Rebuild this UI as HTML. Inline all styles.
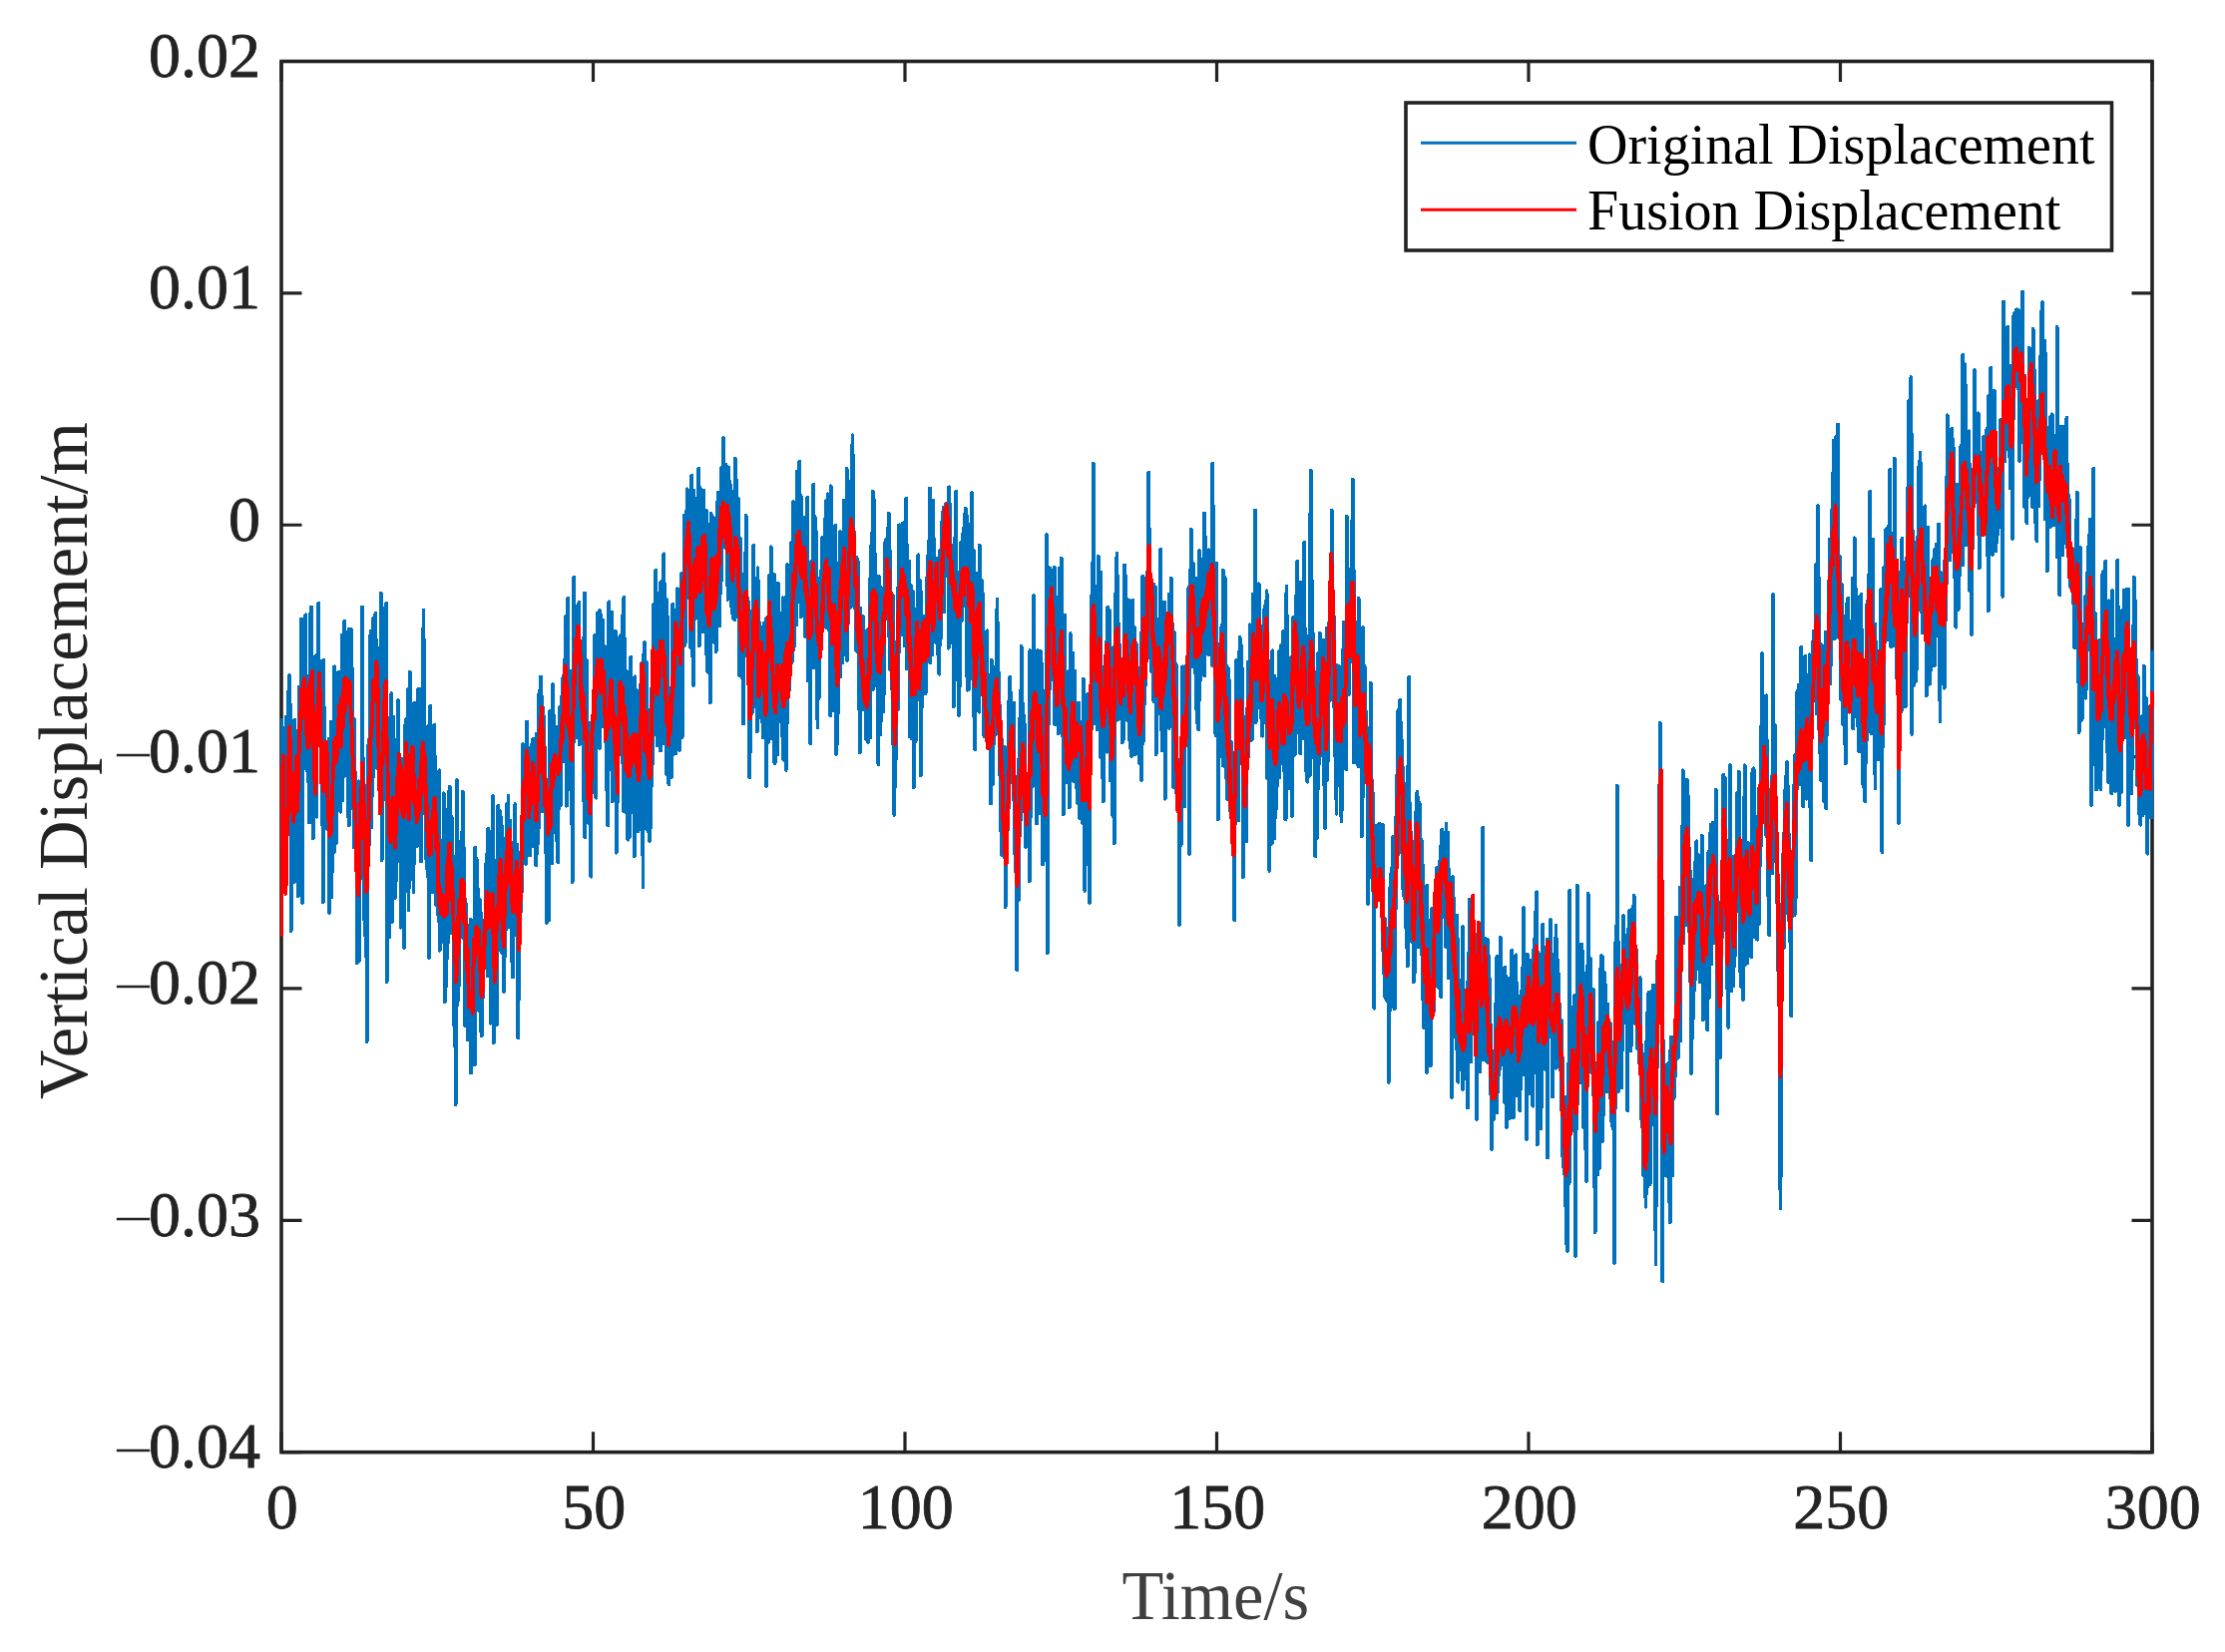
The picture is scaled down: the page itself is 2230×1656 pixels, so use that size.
<!DOCTYPE html>
<html><head><meta charset="utf-8"><title>Vertical Displacement</title>
<style>html,body{margin:0;padding:0;background:#fff}svg{display:block}</style></head>
<body>
<svg width="2230" height="1656" viewBox="0 0 2230 1656">
<rect width="2230" height="1656" fill="#fff"/>
<clipPath id="cl"><rect x="281.1" y="61.5" width="1878.0" height="1394.2"/></clipPath>
<g stroke="#232323" stroke-width="3.6" fill="none" stroke-linecap="butt">
<rect x="282.0" y="61.5" width="1875.0" height="1394.2"/>
<path d="M282.00 1455.7 v-20.5 M282.00 61.5 v20.5 M594.50 1455.7 v-20.5 M594.50 61.5 v20.5 M907.00 1455.7 v-20.5 M907.00 61.5 v20.5 M1219.50 1455.7 v-20.5 M1219.50 61.5 v20.5 M1532.00 1455.7 v-20.5 M1532.00 61.5 v20.5 M1844.50 1455.7 v-20.5 M1844.50 61.5 v20.5 M2157.00 1455.7 v-20.5 M2157.00 61.5 v20.5 M282.0 61.50 h20.5 M2157.0 61.50 h-20.5 M282.0 293.87 h20.5 M2157.0 293.87 h-20.5 M282.0 526.23 h20.5 M2157.0 526.23 h-20.5 M282.0 758.60 h20.5 M2157.0 758.60 h-20.5 M282.0 990.97 h20.5 M2157.0 990.97 h-20.5 M282.0 1223.33 h20.5 M2157.0 1223.33 h-20.5 M282.0 1455.70 h20.5 M2157.0 1455.70 h-20.5 " stroke-width="3.2"/>
</g>
<g fill="none" stroke-width="3.9" stroke-linejoin="round" stroke-linecap="butt" shape-rendering="crispEdges" clip-path="url(#cl)">
<path stroke="#0072BD" d="M282.0 760.0 L282.3 722.0 L282.6 800.0 L282.9 760.0 L283.2 850.0 L283.6 750.7 L283.9 738.3 L284.2 735.4 L284.5 769.1 L284.8 731.6 L285.1 733.9 L285.4 755.7 L285.8 818.3 L286.1 754.6 L286.4 731.2 L286.7 718.8 L287.0 721.3 L287.3 751.8 L287.6 804.0 L287.9 804.8 L288.2 798.3 L288.6 729.6 L288.9 697.8 L289.2 693.1 L289.5 766.1 L289.8 677.2 L290.1 735.7 L290.4 790.6 L290.8 775.4 L291.1 763.3 L291.4 706.6 L291.7 933.0 L292.0 804.6 L292.3 826.2 L292.6 780.6 L292.9 780.0 L293.2 742.1 L293.6 730.5 L293.9 817.7 L294.2 809.7 L294.5 795.2 L294.8 756.8 L295.1 884.0 L295.4 721.6 L295.8 821.7 L296.1 762.1 L296.4 788.6 L296.7 784.6 L297.0 737.8 L297.3 825.4 L297.6 784.1 L297.9 787.1 L298.2 778.9 L298.6 732.3 L298.9 898.1 L299.2 749.3 L299.5 734.2 L299.8 888.8 L300.1 688.5 L300.4 779.0 L300.8 862.6 L301.1 749.0 L301.4 742.3 L301.7 733.9 L302.0 620.7 L302.3 749.3 L302.6 766.1 L302.9 905.0 L303.2 648.5 L303.6 727.7 L303.9 770.7 L304.2 706.8 L304.5 649.6 L304.8 706.8 L305.1 650.3 L305.4 624.4 L305.8 729.8 L306.1 657.1 L306.4 616.4 L306.7 729.1 L307.0 713.5 L307.3 731.4 L307.6 772.6 L307.9 711.9 L308.2 750.3 L308.6 764.9 L308.9 783.7 L309.2 687.7 L309.5 692.2 L309.8 783.8 L310.1 824.5 L310.4 728.6 L310.8 719.0 L311.1 615.0 L311.4 766.2 L311.7 709.8 L312.0 608.5 L312.3 728.1 L312.6 672.6 L312.9 693.1 L313.2 714.4 L313.6 755.3 L313.9 840.3 L314.2 749.9 L314.5 705.4 L314.8 780.2 L315.1 732.6 L315.4 718.2 L315.8 719.7 L316.1 748.9 L316.4 657.2 L316.7 781.3 L317.0 730.0 L317.3 818.7 L317.6 681.8 L317.9 727.3 L318.2 663.3 L318.6 716.3 L318.9 693.4 L319.2 605.0 L319.5 721.3 L319.8 727.5 L320.1 662.8 L320.4 700.7 L320.8 673.1 L321.1 685.6 L321.4 683.9 L321.7 715.4 L322.0 742.7 L322.3 670.1 L322.6 785.3 L322.9 754.3 L323.2 768.0 L323.6 860.9 L323.9 904.2 L324.2 662.0 L324.5 732.4 L324.8 749.4 L325.1 709.9 L325.4 776.3 L325.8 752.8 L326.1 772.1 L326.4 783.0 L326.7 800.8 L327.0 783.4 L327.3 777.3 L327.6 744.3 L327.9 793.6 L328.2 831.5 L328.6 777.6 L328.9 804.2 L329.2 818.0 L329.5 830.6 L329.8 740.6 L330.1 915.0 L330.4 839.5 L330.8 748.3 L331.1 828.1 L331.4 835.7 L331.7 724.0 L332.0 899.6 L332.3 831.1 L332.6 874.5 L332.9 785.7 L333.2 804.5 L333.6 735.3 L333.9 766.7 L334.2 767.7 L334.5 804.0 L334.8 853.9 L335.1 668.3 L335.4 749.4 L335.8 825.7 L336.1 745.5 L336.4 680.8 L336.7 833.6 L337.0 845.1 L337.3 799.6 L337.6 765.0 L337.9 751.8 L338.2 730.3 L338.6 786.2 L338.9 797.8 L339.2 673.4 L339.5 809.7 L339.8 716.0 L340.1 751.4 L340.4 726.3 L340.8 752.8 L341.1 737.3 L341.4 813.8 L341.7 699.4 L342.0 745.7 L342.3 779.4 L342.6 792.0 L342.9 636.6 L343.2 802.0 L343.6 778.1 L343.9 758.6 L344.2 678.7 L344.5 633.5 L344.8 712.3 L345.1 726.5 L345.4 622.5 L345.8 688.3 L346.1 686.4 L346.4 695.2 L346.7 770.7 L347.0 633.6 L347.3 680.5 L347.6 653.3 L347.9 736.0 L348.2 776.7 L348.6 780.7 L348.9 677.7 L349.2 819.7 L349.5 708.0 L349.8 827.5 L350.1 630.4 L350.4 645.0 L350.8 693.3 L351.1 681.2 L351.4 635.3 L351.7 722.8 L352.0 631.1 L352.3 689.9 L352.6 756.4 L352.9 670.0 L353.2 747.0 L353.6 733.1 L353.9 732.4 L354.2 810.9 L354.5 724.5 L354.8 849.3 L355.1 721.1 L355.4 834.5 L355.8 790.8 L356.1 827.7 L356.4 774.2 L356.7 814.5 L357.0 827.4 L357.3 850.7 L357.6 854.0 L357.9 965.3 L358.2 883.1 L358.6 803.2 L358.9 940.2 L359.2 924.3 L359.5 783.3 L359.8 962.9 L360.1 863.9 L360.4 867.8 L360.8 822.2 L361.1 817.4 L361.4 819.6 L361.7 831.3 L362.0 880.0 L362.3 841.3 L362.6 821.7 L362.9 608.5 L363.2 734.4 L363.6 762.6 L363.9 851.7 L364.2 830.3 L364.5 776.4 L364.8 822.2 L365.1 922.4 L365.4 878.3 L365.8 877.5 L366.1 937.9 L366.4 875.4 L366.7 804.3 L367.0 868.2 L367.3 861.2 L367.6 1044.0 L367.9 860.4 L368.2 852.5 L368.6 857.0 L368.9 811.1 L369.2 785.9 L369.5 741.3 L369.8 846.8 L370.1 805.9 L370.4 778.1 L370.8 806.2 L371.1 790.2 L371.4 635.9 L371.7 732.4 L372.0 632.4 L372.3 829.4 L372.6 668.6 L372.9 798.2 L373.2 680.6 L373.6 687.9 L373.9 655.2 L374.2 620.0 L374.5 778.8 L374.8 624.2 L375.1 672.6 L375.4 661.6 L375.8 682.4 L376.1 751.8 L376.4 614.9 L376.7 683.6 L377.0 641.6 L377.3 694.0 L377.6 674.5 L377.9 649.3 L378.2 769.9 L378.6 715.1 L378.9 705.1 L379.2 726.0 L379.5 723.4 L379.8 785.8 L380.1 778.2 L380.4 760.1 L380.8 753.3 L381.1 679.1 L381.4 732.5 L381.7 594.4 L382.0 794.8 L382.3 741.1 L382.6 862.2 L382.9 826.3 L383.2 723.6 L383.6 800.2 L383.9 678.9 L384.2 761.2 L384.5 722.4 L384.8 622.9 L385.1 782.8 L385.4 609.6 L385.8 725.2 L386.1 695.8 L386.4 759.3 L386.7 759.0 L387.0 726.0 L387.3 604.6 L387.6 984.0 L387.9 883.8 L388.2 798.1 L388.6 719.6 L388.9 851.5 L389.2 872.5 L389.5 803.3 L389.8 845.8 L390.1 877.5 L390.4 939.3 L390.8 790.1 L391.1 851.9 L391.4 752.1 L391.7 876.3 L392.0 807.6 L392.3 695.1 L392.6 868.6 L392.9 872.9 L393.2 923.9 L393.6 831.4 L393.9 718.5 L394.2 732.1 L394.5 890.5 L394.8 823.5 L395.1 755.5 L395.4 811.5 L395.8 798.4 L396.1 899.9 L396.4 878.1 L396.7 767.7 L397.0 846.3 L397.3 882.0 L397.6 784.4 L397.9 800.0 L398.2 740.8 L398.6 828.9 L398.9 702.1 L399.2 762.5 L399.5 773.5 L399.8 755.9 L400.1 803.3 L400.4 781.7 L400.8 813.4 L401.1 843.1 L401.4 848.4 L401.7 929.8 L402.0 765.5 L402.3 869.4 L402.6 761.1 L402.9 770.8 L403.2 770.4 L403.6 840.0 L403.9 772.5 L404.2 779.0 L404.5 788.8 L404.8 791.8 L405.1 950.0 L405.4 786.7 L405.8 763.1 L406.1 779.9 L406.4 728.3 L406.7 721.2 L407.0 772.4 L407.3 801.9 L407.6 745.7 L407.9 743.0 L408.2 832.4 L408.6 691.2 L408.9 717.3 L409.2 795.2 L409.5 912.5 L409.8 778.5 L410.1 889.2 L410.4 792.0 L410.8 673.9 L411.1 879.1 L411.4 830.7 L411.7 742.3 L412.0 745.6 L412.3 841.3 L412.6 766.8 L412.9 822.4 L413.2 807.6 L413.6 747.5 L413.9 750.0 L414.2 817.0 L414.5 894.1 L414.8 790.4 L415.1 704.9 L415.4 803.2 L415.8 718.4 L416.1 796.8 L416.4 822.5 L416.7 781.5 L417.0 777.2 L417.3 780.5 L417.6 838.4 L417.9 847.8 L418.2 811.0 L418.6 792.9 L418.9 719.6 L419.2 690.7 L419.5 788.1 L419.8 844.0 L420.1 694.7 L420.4 803.9 L420.8 802.0 L421.1 827.7 L421.4 832.6 L421.7 777.9 L422.0 863.4 L422.3 779.1 L422.6 690.8 L422.9 746.4 L423.2 761.9 L423.6 814.6 L423.9 767.2 L424.2 771.6 L424.5 612.0 L424.8 743.1 L425.1 795.4 L425.4 670.3 L425.8 814.8 L426.1 815.9 L426.4 755.5 L426.7 819.7 L427.0 847.5 L427.3 850.8 L427.6 870.6 L427.9 778.3 L428.2 799.6 L428.6 771.5 L428.9 728.0 L429.2 878.9 L429.5 861.6 L429.8 771.1 L430.1 960.0 L430.4 878.2 L430.8 829.0 L431.1 707.6 L431.4 835.3 L431.7 820.5 L432.0 890.8 L432.3 831.6 L432.6 797.2 L432.9 867.1 L433.2 872.2 L433.6 894.2 L433.9 868.1 L434.2 731.0 L434.5 799.9 L434.8 840.1 L435.1 726.6 L435.4 761.4 L435.8 758.2 L436.1 840.6 L436.4 758.8 L436.7 887.7 L437.0 862.5 L437.3 907.5 L437.6 841.1 L437.9 888.5 L438.2 799.4 L438.6 825.3 L438.9 890.6 L439.2 883.8 L439.5 923.3 L439.8 917.8 L440.1 912.3 L440.4 772.3 L440.8 952.7 L441.1 860.0 L441.4 946.8 L441.7 851.6 L442.0 944.5 L442.3 944.8 L442.6 887.3 L442.9 888.2 L443.2 842.3 L443.6 885.4 L443.9 903.2 L444.2 871.1 L444.5 848.6 L444.8 795.3 L445.1 883.8 L445.4 917.8 L445.8 1004.1 L446.1 859.7 L446.4 833.5 L446.7 906.2 L447.0 905.3 L447.3 988.6 L447.6 959.0 L447.9 911.5 L448.2 908.7 L448.6 885.2 L448.9 914.2 L449.2 944.6 L449.5 794.0 L449.8 843.1 L450.1 909.1 L450.4 794.1 L450.8 788.4 L451.1 888.9 L451.4 809.3 L451.7 833.2 L452.0 881.7 L452.3 935.5 L452.6 818.7 L452.9 921.0 L453.2 887.3 L453.6 857.5 L453.9 922.3 L454.2 888.5 L454.5 909.0 L454.8 1027.5 L455.1 956.2 L455.4 959.9 L455.8 1006.7 L456.1 871.0 L456.4 1035.3 L456.7 1107.0 L457.0 976.0 L457.3 931.5 L457.6 1009.0 L457.9 782.0 L458.2 922.5 L458.6 881.4 L458.9 1002.9 L459.2 903.3 L459.5 908.4 L459.8 943.6 L460.1 946.3 L460.4 987.1 L460.8 882.3 L461.1 847.4 L461.4 881.7 L461.7 855.7 L462.0 856.7 L462.3 842.8 L462.6 906.4 L462.9 930.8 L463.2 914.1 L463.6 793.6 L463.9 798.7 L464.2 940.4 L464.5 825.3 L464.8 937.8 L465.1 857.0 L465.4 888.7 L465.8 1027.8 L466.1 943.9 L466.4 901.5 L466.7 1017.7 L467.0 912.0 L467.3 906.6 L467.6 967.3 L467.9 1016.2 L468.2 988.0 L468.6 1042.4 L468.9 1030.3 L469.2 1036.3 L469.5 994.6 L469.8 971.9 L470.1 959.0 L470.4 992.2 L470.8 972.7 L471.1 992.4 L471.4 926.6 L471.7 921.8 L472.0 1075.5 L472.3 1062.3 L472.6 1015.2 L472.9 1053.3 L473.2 1042.3 L473.6 998.8 L473.9 942.2 L474.2 1046.3 L474.5 1012.3 L474.8 929.4 L475.1 1007.7 L475.4 961.5 L475.8 1067.3 L476.1 849.6 L476.4 979.6 L476.7 909.1 L477.0 949.5 L477.3 860.7 L477.6 953.2 L477.9 932.9 L478.2 862.9 L478.6 957.0 L478.9 947.9 L479.2 892.0 L479.5 996.2 L479.8 939.1 L480.1 956.3 L480.4 1013.7 L480.8 901.9 L481.1 975.9 L481.4 1010.7 L481.7 914.4 L482.0 1034.0 L482.3 1016.1 L482.6 944.7 L482.9 1038.4 L483.2 968.4 L483.6 951.6 L483.9 929.0 L484.2 999.1 L484.5 959.4 L484.8 971.7 L485.1 967.7 L485.4 935.2 L485.8 939.1 L486.1 921.7 L486.4 953.4 L486.7 936.0 L487.0 866.7 L487.3 883.3 L487.6 856.6 L487.9 909.7 L488.2 966.2 L488.6 901.3 L488.9 978.2 L489.2 830.8 L489.5 917.0 L489.8 962.1 L490.1 865.7 L490.4 902.4 L490.8 906.6 L491.1 899.3 L491.4 880.8 L491.7 1025.7 L492.0 834.1 L492.3 918.4 L492.6 866.1 L492.9 915.2 L493.2 910.9 L493.6 927.4 L493.9 798.0 L494.2 931.6 L494.5 918.0 L494.8 1045.6 L495.1 935.8 L495.4 955.8 L495.8 1021.9 L496.1 1004.5 L496.4 862.7 L496.7 939.7 L497.0 878.7 L497.3 1013.4 L497.6 916.4 L497.9 1027.2 L498.2 917.7 L498.6 872.1 L498.9 952.7 L499.2 807.5 L499.5 944.9 L499.8 930.3 L500.1 876.8 L500.4 813.8 L500.8 815.1 L501.1 862.0 L501.4 813.4 L501.7 866.2 L502.0 904.2 L502.3 819.9 L502.6 828.4 L502.9 955.0 L503.2 892.1 L503.6 888.1 L503.9 927.0 L504.2 846.3 L504.5 920.5 L504.8 942.9 L505.1 993.8 L505.4 946.2 L505.8 840.7 L506.1 958.8 L506.4 860.3 L506.7 885.7 L507.0 932.1 L507.3 917.5 L507.6 841.1 L507.9 806.2 L508.2 910.7 L508.6 858.6 L508.9 863.5 L509.2 870.3 L509.5 798.0 L509.8 929.0 L510.1 847.8 L510.4 902.2 L510.8 888.5 L511.1 822.6 L511.4 877.1 L511.7 858.9 L512.0 870.9 L512.3 912.4 L512.6 889.0 L512.9 851.9 L513.2 964.4 L513.6 890.7 L513.9 979.6 L514.2 923.9 L514.5 949.9 L514.8 908.2 L515.1 844.0 L515.4 900.5 L515.8 897.4 L516.1 882.9 L516.4 806.1 L516.7 902.6 L517.0 863.8 L517.3 854.8 L517.6 918.3 L517.9 925.7 L518.2 847.0 L518.6 854.1 L518.9 926.4 L519.2 1040.4 L519.5 940.3 L519.8 913.2 L520.1 1001.4 L520.4 927.0 L520.8 898.5 L521.1 863.9 L521.4 942.0 L521.7 875.0 L522.0 905.0 L522.3 913.6 L522.6 843.7 L522.9 893.4 L523.2 893.8 L523.6 829.5 L523.9 774.1 L524.2 746.1 L524.5 759.9 L524.8 756.7 L525.1 777.6 L525.4 822.8 L525.8 803.9 L526.1 769.1 L526.4 827.7 L526.7 771.5 L527.0 865.9 L527.3 760.1 L527.6 790.6 L527.9 723.5 L528.2 798.1 L528.6 798.6 L528.9 796.3 L529.2 807.7 L529.5 857.2 L529.8 854.8 L530.1 782.2 L530.4 755.3 L530.8 785.8 L531.1 791.6 L531.4 857.0 L531.7 749.7 L532.0 750.3 L532.3 808.1 L532.6 755.8 L532.9 769.2 L533.2 746.2 L533.6 848.1 L533.9 787.5 L534.2 740.9 L534.5 811.4 L534.8 807.8 L535.1 837.1 L535.4 785.5 L535.8 806.7 L536.1 759.6 L536.4 832.4 L536.7 752.2 L537.0 824.5 L537.3 867.3 L537.6 855.3 L537.9 735.7 L538.2 807.8 L538.6 801.7 L538.9 789.3 L539.2 807.4 L539.5 844.9 L539.8 789.1 L540.1 816.9 L540.4 694.9 L540.8 794.5 L541.1 791.7 L541.4 691.1 L541.7 699.7 L542.0 678.7 L542.3 718.9 L542.6 736.0 L542.9 813.6 L543.2 698.5 L543.6 709.1 L543.9 727.6 L544.2 795.6 L544.5 746.8 L544.8 758.3 L545.1 718.1 L545.4 797.7 L545.8 760.2 L546.1 749.8 L546.4 778.3 L546.7 781.0 L547.0 803.6 L547.3 844.0 L547.6 866.6 L547.9 924.9 L548.2 829.2 L548.6 851.6 L548.9 887.4 L549.2 793.8 L549.5 836.2 L549.8 835.2 L550.1 922.2 L550.4 865.1 L550.8 774.3 L551.1 712.9 L551.4 825.3 L551.7 746.1 L552.0 758.4 L552.3 740.6 L552.6 782.0 L552.9 757.8 L553.2 865.0 L553.6 771.8 L553.9 812.4 L554.2 686.2 L554.5 823.2 L554.8 717.1 L555.1 760.8 L555.4 751.4 L555.8 804.1 L556.1 740.9 L556.4 790.8 L556.7 750.8 L557.0 771.2 L557.3 827.1 L557.6 842.6 L557.9 728.6 L558.2 767.9 L558.6 785.3 L558.9 749.7 L559.2 864.5 L559.5 747.5 L559.8 763.1 L560.1 788.1 L560.4 810.7 L560.8 729.9 L561.1 708.9 L561.4 772.2 L561.7 807.8 L562.0 708.5 L562.3 740.1 L562.6 709.8 L562.9 698.5 L563.2 734.2 L563.6 680.1 L563.9 730.2 L564.2 763.3 L564.5 717.0 L564.8 748.6 L565.1 735.0 L565.4 678.8 L565.8 661.6 L566.1 693.6 L566.4 670.7 L566.7 656.6 L567.0 618.0 L567.3 759.4 L567.6 725.4 L567.9 807.7 L568.2 701.7 L568.6 728.9 L568.9 736.4 L569.2 599.4 L569.5 699.9 L569.8 791.0 L570.1 742.6 L570.4 778.8 L570.8 753.0 L571.1 766.6 L571.4 731.8 L571.7 730.9 L572.0 678.0 L572.3 672.7 L572.6 809.5 L572.9 718.0 L573.2 718.6 L573.6 884.0 L573.9 774.5 L574.2 738.6 L574.5 749.5 L574.8 728.8 L575.1 658.6 L575.4 578.6 L575.8 731.2 L576.1 629.5 L576.4 641.1 L576.7 608.0 L577.0 675.3 L577.3 632.7 L577.6 609.3 L577.9 739.2 L578.2 676.9 L578.6 643.6 L578.9 695.7 L579.2 636.5 L579.5 677.4 L579.8 610.3 L580.1 690.1 L580.4 603.8 L580.8 746.3 L581.1 674.4 L581.4 698.1 L581.7 710.4 L582.0 674.9 L582.3 680.8 L582.6 664.0 L582.9 685.0 L583.2 708.1 L583.6 724.7 L583.9 686.0 L584.2 679.1 L584.5 756.6 L584.8 639.2 L585.1 802.9 L585.4 697.5 L585.8 741.2 L586.1 594.4 L586.4 839.4 L586.7 705.7 L587.0 668.6 L587.3 723.5 L587.6 661.6 L587.9 693.8 L588.2 665.6 L588.6 793.2 L588.9 763.7 L589.2 771.0 L589.5 812.6 L589.8 807.6 L590.1 724.8 L590.4 825.7 L590.8 768.1 L591.1 735.6 L591.4 776.6 L591.7 733.6 L592.0 750.3 L592.3 878.8 L592.6 741.1 L592.9 759.6 L593.2 737.5 L593.6 794.0 L593.9 725.6 L594.2 717.1 L594.5 771.7 L594.8 758.0 L595.1 730.8 L595.4 709.5 L595.8 673.1 L596.1 636.6 L596.4 715.8 L596.7 747.5 L597.0 748.9 L597.3 799.8 L597.6 689.5 L597.9 694.4 L598.2 688.2 L598.6 696.4 L598.9 614.4 L599.2 636.6 L599.5 674.6 L599.8 645.0 L600.1 710.9 L600.4 614.4 L600.8 749.8 L601.1 612.0 L601.4 670.0 L601.7 615.4 L602.0 690.7 L602.3 705.6 L602.6 684.0 L602.9 627.7 L603.2 720.1 L603.6 659.4 L603.9 621.4 L604.2 690.1 L604.5 702.5 L604.8 728.4 L605.1 678.2 L605.4 653.5 L605.8 678.5 L606.1 648.0 L606.4 726.8 L606.7 687.7 L607.0 705.5 L607.3 728.5 L607.6 757.3 L607.9 791.8 L608.2 755.0 L608.6 675.4 L608.9 786.6 L609.2 827.5 L609.5 727.9 L609.8 709.4 L610.1 654.5 L610.4 603.4 L610.8 649.5 L611.1 753.5 L611.4 614.8 L611.7 665.3 L612.0 719.3 L612.3 638.1 L612.6 653.9 L612.9 771.5 L613.2 613.7 L613.6 670.4 L613.9 803.1 L614.2 748.6 L614.5 636.6 L614.8 677.7 L615.1 643.5 L615.4 749.4 L615.8 694.0 L616.1 706.3 L616.4 677.6 L616.7 784.6 L617.0 632.8 L617.3 671.6 L617.6 854.7 L617.9 695.3 L618.2 816.8 L618.6 757.0 L618.9 803.8 L619.2 758.7 L619.5 758.4 L619.8 732.1 L620.1 749.7 L620.4 640.0 L620.8 639.2 L621.1 735.4 L621.4 748.1 L621.7 695.9 L622.0 637.0 L622.3 667.5 L622.6 730.7 L622.9 713.7 L623.2 637.7 L623.6 764.8 L623.9 617.9 L624.2 668.2 L624.5 615.0 L624.8 723.7 L625.1 813.2 L625.4 599.0 L625.8 702.2 L626.1 707.3 L626.4 722.9 L626.7 759.1 L627.0 773.7 L627.3 754.1 L627.6 814.4 L627.9 672.6 L628.2 742.9 L628.6 770.9 L628.9 753.9 L629.2 841.7 L629.5 766.1 L629.8 708.5 L630.1 761.1 L630.4 811.8 L630.8 839.1 L631.1 769.0 L631.4 797.2 L631.7 769.5 L632.0 746.3 L632.3 658.5 L632.6 783.4 L632.9 695.2 L633.2 777.6 L633.6 769.2 L633.9 746.3 L634.2 814.2 L634.5 748.2 L634.8 801.0 L635.1 704.9 L635.4 733.5 L635.8 858.1 L636.1 781.2 L636.4 678.3 L636.7 781.4 L637.0 737.2 L637.3 789.4 L637.6 691.6 L637.9 787.7 L638.2 775.1 L638.6 766.5 L638.9 716.1 L639.2 760.7 L639.5 832.9 L639.8 831.3 L640.1 733.7 L640.4 761.6 L640.8 828.8 L641.1 799.3 L641.4 716.9 L641.7 781.3 L642.0 719.3 L642.3 710.6 L642.6 665.3 L642.9 724.2 L643.2 709.6 L643.6 726.9 L643.9 705.0 L644.2 676.0 L644.5 889.0 L644.8 656.7 L645.1 720.4 L645.4 682.9 L645.8 729.7 L646.1 644.2 L646.4 721.2 L646.7 726.2 L647.0 710.5 L647.3 716.2 L647.6 702.5 L647.9 664.0 L648.2 829.8 L648.6 735.9 L648.9 781.8 L649.2 831.8 L649.5 746.7 L649.8 798.6 L650.1 833.5 L650.4 809.6 L650.8 752.8 L651.1 843.0 L651.4 752.6 L651.7 816.0 L652.0 829.9 L652.3 710.9 L652.6 734.6 L652.9 787.8 L653.2 690.1 L653.6 766.4 L653.9 755.9 L654.2 664.1 L654.5 694.2 L654.8 712.4 L655.1 606.1 L655.4 654.1 L655.8 637.6 L656.1 627.0 L656.4 735.8 L656.7 664.6 L657.0 680.2 L657.3 571.4 L657.6 735.2 L657.9 689.7 L658.2 698.0 L658.6 747.0 L658.9 681.0 L659.2 716.7 L659.5 675.7 L659.8 708.2 L660.1 687.2 L660.4 727.0 L660.8 675.2 L661.1 667.8 L661.4 594.9 L661.7 584.6 L662.0 752.3 L662.3 700.8 L662.6 583.3 L662.9 731.6 L663.2 590.4 L663.6 659.8 L663.9 704.0 L664.2 745.3 L664.5 737.0 L664.8 673.7 L665.1 657.6 L665.4 555.4 L665.8 626.4 L666.1 636.3 L666.4 614.8 L666.7 709.9 L667.0 692.5 L667.3 650.5 L667.6 775.8 L667.9 600.7 L668.2 726.1 L668.6 711.1 L668.9 696.3 L669.2 618.5 L669.5 753.5 L669.8 755.4 L670.1 689.3 L670.4 786.3 L670.8 715.6 L671.1 764.9 L671.4 707.8 L671.7 708.4 L672.0 708.6 L672.3 738.9 L672.6 698.5 L672.9 779.0 L673.2 716.2 L673.6 673.7 L673.9 643.9 L674.2 605.6 L674.5 745.8 L674.8 756.3 L675.1 692.5 L675.4 675.0 L675.8 612.5 L676.1 683.1 L676.4 630.9 L676.7 678.8 L677.0 612.2 L677.3 755.2 L677.6 653.7 L677.9 619.2 L678.2 673.1 L678.6 611.8 L678.9 590.3 L679.2 636.9 L679.5 622.0 L679.8 705.2 L680.1 707.8 L680.4 715.8 L680.8 681.2 L681.1 751.9 L681.4 720.7 L681.7 694.5 L682.0 712.3 L682.3 679.5 L682.6 702.0 L682.9 575.0 L683.2 603.8 L683.6 738.9 L683.9 605.9 L684.2 579.9 L684.5 591.9 L684.8 594.4 L685.1 622.7 L685.4 604.4 L685.8 516.4 L686.1 624.2 L686.4 646.6 L686.7 642.6 L687.0 612.1 L687.3 618.7 L687.6 563.2 L687.9 542.5 L688.2 550.4 L688.6 490.3 L688.9 515.3 L689.2 524.0 L689.5 553.8 L689.8 542.8 L690.1 599.5 L690.4 588.9 L690.8 518.0 L691.1 548.6 L691.4 497.5 L691.7 638.7 L692.0 640.4 L692.3 649.5 L692.6 601.6 L692.9 568.4 L693.2 477.0 L693.6 647.4 L693.9 640.3 L694.2 658.7 L694.5 580.8 L694.8 629.9 L695.1 686.8 L695.4 491.7 L695.8 565.2 L696.1 579.2 L696.4 608.9 L696.7 547.4 L697.0 619.8 L697.3 499.5 L697.6 587.0 L697.9 568.6 L698.2 512.9 L698.6 574.1 L698.9 618.5 L699.2 546.5 L699.5 518.6 L699.8 577.2 L700.1 545.7 L700.4 469.7 L700.8 647.1 L701.1 608.7 L701.4 631.5 L701.7 489.0 L702.0 531.4 L702.3 536.5 L702.6 551.4 L702.9 533.9 L703.2 569.2 L703.6 606.0 L703.9 622.7 L704.2 544.4 L704.5 549.3 L704.8 633.3 L705.1 491.4 L705.4 584.3 L705.8 574.7 L706.1 590.8 L706.4 582.7 L706.7 570.9 L707.0 628.0 L707.3 567.9 L707.6 603.9 L707.9 511.8 L708.2 655.9 L708.6 612.0 L708.9 524.8 L709.2 673.7 L709.5 589.3 L709.8 645.3 L710.1 635.0 L710.4 612.6 L710.8 668.8 L711.1 560.9 L711.4 618.1 L711.7 704.2 L712.0 623.5 L712.3 608.3 L712.6 514.8 L712.9 570.2 L713.2 570.3 L713.6 565.5 L713.9 559.2 L714.2 566.2 L714.5 556.0 L714.8 518.7 L715.1 546.4 L715.4 580.0 L715.8 561.4 L716.1 606.1 L716.4 644.5 L716.7 587.7 L717.0 551.4 L717.3 527.3 L717.6 653.2 L717.9 566.7 L718.2 529.9 L718.6 565.9 L718.9 576.5 L719.2 582.8 L719.5 493.5 L719.8 569.5 L720.1 553.3 L720.4 532.4 L720.8 557.1 L721.1 520.9 L721.4 627.0 L721.7 571.8 L722.0 571.2 L722.3 521.5 L722.6 583.3 L722.9 526.3 L723.2 469.0 L723.6 469.1 L723.9 498.3 L724.2 511.6 L724.5 515.5 L724.8 545.8 L725.1 439.2 L725.4 501.4 L725.8 527.6 L726.1 474.1 L726.4 543.1 L726.7 532.4 L727.0 529.5 L727.3 549.4 L727.6 466.1 L727.9 467.5 L728.2 468.2 L728.6 586.5 L728.9 477.1 L729.2 517.4 L729.5 600.9 L729.8 471.0 L730.1 468.8 L730.4 516.8 L730.8 547.5 L731.1 583.3 L731.4 482.6 L731.7 563.6 L732.0 485.9 L732.3 536.0 L732.6 533.1 L732.9 535.4 L733.2 608.4 L733.6 591.0 L733.9 493.1 L734.2 590.9 L734.5 619.4 L734.8 542.7 L735.1 552.8 L735.4 610.6 L735.8 525.4 L736.1 621.1 L736.4 512.4 L736.7 459.6 L737.0 519.1 L737.3 551.1 L737.6 549.8 L737.9 481.2 L738.2 551.3 L738.6 559.3 L738.9 532.5 L739.2 522.7 L739.5 580.2 L739.8 579.3 L740.1 500.2 L740.4 608.9 L740.8 676.8 L741.1 604.4 L741.4 620.4 L741.7 539.3 L742.0 650.4 L742.3 634.9 L742.6 633.3 L742.9 605.6 L743.2 674.9 L743.6 668.6 L743.9 672.6 L744.2 597.4 L744.5 696.1 L744.8 666.2 L745.1 725.4 L745.4 576.1 L745.8 626.4 L746.1 612.4 L746.4 644.3 L746.7 634.7 L747.0 585.5 L747.3 602.1 L747.6 516.8 L747.9 657.3 L748.2 605.0 L748.6 598.6 L748.9 607.2 L749.2 615.1 L749.5 651.7 L749.8 628.4 L750.1 650.7 L750.4 603.7 L750.8 697.9 L751.1 779.1 L751.4 689.5 L751.7 661.5 L752.0 695.3 L752.3 753.6 L752.6 672.1 L752.9 659.9 L753.2 680.7 L753.6 715.3 L753.9 686.8 L754.2 653.4 L754.5 604.8 L754.8 687.4 L755.1 659.4 L755.4 546.6 L755.8 708.4 L756.1 678.8 L756.4 657.0 L756.7 649.4 L757.0 585.8 L757.3 663.4 L757.6 667.7 L757.9 687.6 L758.2 605.9 L758.6 602.9 L758.9 733.1 L759.2 652.7 L759.5 569.4 L759.8 622.5 L760.1 675.3 L760.4 719.8 L760.8 623.3 L761.1 666.2 L761.4 645.2 L761.7 670.7 L762.0 630.6 L762.3 709.8 L762.6 629.0 L762.9 653.4 L763.2 685.7 L763.6 637.9 L763.9 664.7 L764.2 643.2 L764.5 739.3 L764.8 633.2 L765.1 689.3 L765.4 659.7 L765.8 661.2 L766.1 624.5 L766.4 694.3 L766.7 684.7 L767.0 709.5 L767.3 697.0 L767.6 657.9 L767.9 787.9 L768.2 619.3 L768.6 701.8 L768.9 710.1 L769.2 649.7 L769.5 626.2 L769.8 744.4 L770.1 623.7 L770.4 678.1 L770.8 591.2 L771.1 613.6 L771.4 576.3 L771.7 622.8 L772.0 608.4 L772.3 638.6 L772.6 548.2 L772.9 594.6 L773.2 740.3 L773.6 620.0 L773.9 676.9 L774.2 713.9 L774.5 700.0 L774.8 653.6 L775.1 655.4 L775.4 671.6 L775.8 575.7 L776.1 734.4 L776.4 765.1 L776.7 753.2 L777.0 763.3 L777.3 666.1 L777.6 697.3 L777.9 696.8 L778.2 718.6 L778.6 669.1 L778.9 585.0 L779.2 699.8 L779.5 756.1 L779.8 610.9 L780.1 585.1 L780.4 692.1 L780.8 616.3 L781.1 683.0 L781.4 692.5 L781.7 643.1 L782.0 625.0 L782.3 685.8 L782.6 649.3 L782.9 702.8 L783.2 701.1 L783.6 737.8 L783.9 718.3 L784.2 723.3 L784.5 599.2 L784.8 661.6 L785.1 760.5 L785.4 714.8 L785.8 655.6 L786.1 669.3 L786.4 762.6 L786.7 703.4 L787.0 681.3 L787.3 653.0 L787.6 771.9 L787.9 752.4 L788.2 597.7 L788.6 674.7 L788.9 566.0 L789.2 724.7 L789.5 686.7 L789.8 696.3 L790.1 614.7 L790.4 621.5 L790.8 692.0 L791.1 668.0 L791.4 678.5 L791.7 646.6 L792.0 642.0 L792.3 625.7 L792.6 590.3 L792.9 616.5 L793.2 543.6 L793.6 664.0 L793.9 628.0 L794.2 653.4 L794.5 611.5 L794.8 503.1 L795.1 637.3 L795.4 651.5 L795.8 537.2 L796.1 523.7 L796.4 647.9 L796.7 545.2 L797.0 573.4 L797.3 514.7 L797.6 577.1 L797.9 540.9 L798.2 626.1 L798.6 572.2 L798.9 472.7 L799.2 488.2 L799.5 560.5 L799.8 555.8 L800.1 474.8 L800.4 539.6 L800.8 591.4 L801.1 568.9 L801.4 462.5 L801.7 572.3 L802.0 603.7 L802.3 530.2 L802.6 496.9 L802.9 618.5 L803.2 609.1 L803.6 556.0 L803.9 541.6 L804.2 614.5 L804.5 585.8 L804.8 615.7 L805.1 567.1 L805.4 518.6 L805.8 550.6 L806.1 609.5 L806.4 568.9 L806.7 544.1 L807.0 550.2 L807.3 638.6 L807.6 615.7 L807.9 604.3 L808.2 567.5 L808.6 504.3 L808.9 621.7 L809.2 498.4 L809.5 661.9 L809.8 682.6 L810.1 656.0 L810.4 593.6 L810.8 644.0 L811.1 593.7 L811.4 587.0 L811.7 616.6 L812.0 648.0 L812.3 745.2 L812.6 639.1 L812.9 646.3 L813.2 563.2 L813.6 625.2 L813.9 644.6 L814.2 640.9 L814.5 609.3 L814.8 553.2 L815.1 485.7 L815.4 606.3 L815.8 669.5 L816.1 616.6 L816.4 650.3 L816.7 518.1 L817.0 557.2 L817.3 620.8 L817.6 645.4 L817.9 572.6 L818.2 533.1 L818.6 689.4 L818.9 580.7 L819.2 679.3 L819.5 729.5 L819.8 616.8 L820.1 588.7 L820.4 636.6 L820.8 698.8 L821.1 579.5 L821.4 663.7 L821.7 592.4 L822.0 579.9 L822.3 586.3 L822.6 625.3 L822.9 572.9 L823.2 635.5 L823.6 569.9 L823.9 567.1 L824.2 538.8 L824.5 632.2 L824.8 565.7 L825.1 599.5 L825.4 628.7 L825.8 594.9 L826.1 575.0 L826.4 556.1 L826.7 520.7 L827.0 603.6 L827.3 570.7 L827.6 502.1 L827.9 536.6 L828.2 629.1 L828.6 592.8 L828.9 589.7 L829.2 623.6 L829.5 495.2 L829.8 563.6 L830.1 565.6 L830.4 585.8 L830.8 631.7 L831.1 580.8 L831.4 534.7 L831.7 580.0 L832.0 579.6 L832.3 717.4 L832.6 487.2 L832.9 673.8 L833.2 698.3 L833.6 632.5 L833.9 671.9 L834.2 659.1 L834.5 644.8 L834.8 572.2 L835.1 712.5 L835.4 627.1 L835.8 614.2 L836.1 657.9 L836.4 640.7 L836.7 680.9 L837.0 598.1 L837.3 526.8 L837.6 568.7 L837.9 643.4 L838.2 755.9 L838.6 746.4 L838.9 635.7 L839.2 670.5 L839.5 621.6 L839.8 688.8 L840.1 714.9 L840.4 703.8 L840.8 612.4 L841.1 586.6 L841.4 581.1 L841.7 631.9 L842.0 533.1 L842.3 678.1 L842.6 647.0 L842.9 641.5 L843.2 568.3 L843.6 606.5 L843.9 664.7 L844.2 588.9 L844.5 619.7 L844.8 593.3 L845.1 656.1 L845.4 556.7 L845.8 501.8 L846.1 597.4 L846.4 558.1 L846.7 514.6 L847.0 563.2 L847.3 556.6 L847.6 618.0 L847.9 632.4 L848.2 561.6 L848.6 469.7 L848.9 661.8 L849.2 554.8 L849.5 640.9 L849.8 583.1 L850.1 543.9 L850.4 598.5 L850.8 565.1 L851.1 482.5 L851.4 564.8 L851.7 493.9 L852.0 505.3 L852.3 482.5 L852.6 608.8 L852.9 547.5 L853.2 499.0 L853.6 561.9 L853.9 538.3 L854.2 518.8 L854.5 436.3 L854.8 527.7 L855.1 556.6 L855.4 585.6 L855.8 533.1 L856.1 557.0 L856.4 590.0 L856.7 609.9 L857.0 596.8 L857.3 558.7 L857.6 596.6 L857.9 589.3 L858.2 652.7 L858.6 558.8 L858.9 631.6 L859.2 620.4 L859.5 605.0 L859.8 630.4 L860.1 595.8 L860.4 563.3 L860.8 710.4 L861.1 690.4 L861.4 630.6 L861.7 754.4 L862.0 690.0 L862.3 610.0 L862.6 678.4 L862.9 655.2 L863.2 634.0 L863.6 647.7 L863.9 678.1 L864.2 697.5 L864.5 685.3 L864.8 666.1 L865.1 618.1 L865.4 651.3 L865.8 711.3 L866.1 680.1 L866.4 676.8 L866.7 671.8 L867.0 697.4 L867.3 646.7 L867.6 678.8 L867.9 633.1 L868.2 741.4 L868.6 720.7 L868.9 673.6 L869.2 706.6 L869.5 735.4 L869.8 743.9 L870.1 735.0 L870.4 630.5 L870.8 698.9 L871.1 724.1 L871.4 673.8 L871.7 580.7 L872.0 585.5 L872.3 739.2 L872.6 654.2 L872.9 583.4 L873.2 567.2 L873.6 534.7 L873.9 587.5 L874.2 575.7 L874.5 567.6 L874.8 493.0 L875.1 690.9 L875.4 583.1 L875.8 500.3 L876.1 531.0 L876.4 624.9 L876.7 672.1 L877.0 555.1 L877.3 594.9 L877.6 615.0 L877.9 673.9 L878.2 648.1 L878.6 630.6 L878.9 593.4 L879.2 688.5 L879.5 670.7 L879.8 608.0 L880.1 583.1 L880.4 766.2 L880.8 577.5 L881.1 684.7 L881.4 630.7 L881.7 629.4 L882.0 657.6 L882.3 736.4 L882.6 678.0 L882.9 631.2 L883.2 722.6 L883.6 589.4 L883.9 688.7 L884.2 692.7 L884.5 636.0 L884.8 643.5 L885.1 663.4 L885.4 713.1 L885.8 675.1 L886.1 593.8 L886.4 597.5 L886.7 576.7 L887.0 544.8 L887.3 570.1 L887.6 548.7 L887.9 541.3 L888.2 610.5 L888.6 595.8 L888.9 593.5 L889.2 601.3 L889.5 604.5 L889.8 580.8 L890.1 603.6 L890.4 530.7 L890.8 514.8 L891.1 575.6 L891.4 638.6 L891.7 597.3 L892.0 552.1 L892.3 671.5 L892.6 599.3 L892.9 658.0 L893.2 665.6 L893.6 672.2 L893.9 690.7 L894.2 619.6 L894.5 606.6 L894.8 667.7 L895.1 597.2 L895.4 747.3 L895.8 717.8 L896.1 698.1 L896.4 816.9 L896.7 643.3 L897.0 788.9 L897.3 744.6 L897.6 670.8 L897.9 666.1 L898.2 760.7 L898.6 701.4 L898.9 664.2 L899.2 683.9 L899.5 658.9 L899.8 589.3 L900.1 710.9 L900.4 674.8 L900.8 627.7 L901.1 526.3 L901.4 640.3 L901.7 580.1 L902.0 621.9 L902.3 614.3 L902.6 529.2 L902.9 604.5 L903.2 567.3 L903.6 538.6 L903.9 609.5 L904.2 567.9 L904.5 636.1 L904.8 601.8 L905.1 524.3 L905.4 589.6 L905.8 540.7 L906.1 605.5 L906.4 588.4 L906.7 647.1 L907.0 582.7 L907.3 540.5 L907.6 577.4 L907.9 564.9 L908.2 499.6 L908.6 566.2 L908.9 670.4 L909.2 546.1 L909.5 640.9 L909.8 590.6 L910.1 653.9 L910.4 637.9 L910.8 619.8 L911.1 562.5 L911.4 586.4 L911.7 612.8 L912.0 738.2 L912.3 729.0 L912.6 586.6 L912.9 662.6 L913.2 591.0 L913.6 647.5 L913.9 740.3 L914.2 716.4 L914.5 691.3 L914.8 593.1 L915.1 640.1 L915.4 632.1 L915.8 789.1 L916.1 682.4 L916.4 745.7 L916.7 703.3 L917.0 676.2 L917.3 649.6 L917.6 743.0 L917.9 661.3 L918.2 681.5 L918.6 658.0 L918.9 612.1 L919.2 676.7 L919.5 601.0 L919.8 650.1 L920.1 597.6 L920.4 556.3 L920.8 701.2 L921.1 696.3 L921.4 663.7 L921.7 581.8 L922.0 605.5 L922.3 677.2 L922.6 592.6 L922.9 777.2 L923.2 607.4 L923.6 629.7 L923.9 709.2 L924.2 690.1 L924.5 671.9 L924.8 678.1 L925.1 685.0 L925.4 644.8 L925.8 617.9 L926.1 630.8 L926.4 652.0 L926.7 660.1 L927.0 695.1 L927.3 674.5 L927.6 695.2 L927.9 633.7 L928.2 621.2 L928.6 620.0 L928.9 639.8 L929.2 578.3 L929.5 606.2 L929.8 650.7 L930.1 597.8 L930.4 558.9 L930.8 542.1 L931.1 550.2 L931.4 543.4 L931.7 657.5 L932.0 489.7 L932.3 664.3 L932.6 566.0 L932.9 540.1 L933.2 558.8 L933.6 536.8 L933.9 607.9 L934.2 574.0 L934.5 656.1 L934.8 574.6 L935.1 627.6 L935.4 501.5 L935.8 599.9 L936.1 606.7 L936.4 607.5 L936.7 574.3 L937.0 593.1 L937.3 589.0 L937.6 585.1 L937.9 643.7 L938.2 560.0 L938.6 614.9 L938.9 640.6 L939.2 625.4 L939.5 606.1 L939.8 608.4 L940.1 648.6 L940.4 656.3 L940.8 572.1 L941.1 597.0 L941.4 675.8 L941.7 626.9 L942.0 551.9 L942.3 613.9 L942.6 640.9 L942.9 625.3 L943.2 599.9 L943.6 582.9 L943.9 569.7 L944.2 522.9 L944.5 592.8 L944.8 578.9 L945.1 521.1 L945.4 512.4 L945.8 508.6 L946.1 520.0 L946.4 613.2 L946.7 531.3 L947.0 545.9 L947.3 519.9 L947.6 521.0 L947.9 507.6 L948.2 504.4 L948.6 564.2 L948.9 544.9 L949.2 543.7 L949.5 544.5 L949.8 573.2 L950.1 507.3 L950.4 565.9 L950.8 649.7 L951.1 488.3 L951.4 559.3 L951.7 504.9 L952.0 506.1 L952.3 533.8 L952.6 588.6 L952.9 546.2 L953.2 587.6 L953.6 600.0 L953.9 621.8 L954.2 644.2 L954.5 603.3 L954.8 570.7 L955.1 579.0 L955.4 555.7 L955.8 708.0 L956.1 643.8 L956.4 637.7 L956.7 539.4 L957.0 546.9 L957.3 617.9 L957.6 639.5 L957.9 642.6 L958.2 492.6 L958.6 642.6 L958.9 606.1 L959.2 612.0 L959.5 654.8 L959.8 675.1 L960.1 681.5 L960.4 648.0 L960.8 716.8 L961.1 590.4 L961.4 628.6 L961.7 573.3 L962.0 594.6 L962.3 687.9 L962.6 544.1 L962.9 593.6 L963.2 587.9 L963.6 603.3 L963.9 622.2 L964.2 552.7 L964.5 563.0 L964.8 555.6 L965.1 535.4 L965.4 578.0 L965.8 554.0 L966.1 557.1 L966.4 531.7 L966.7 515.3 L967.0 522.1 L967.3 521.3 L967.6 531.2 L967.9 509.5 L968.2 522.8 L968.6 655.6 L968.9 517.3 L969.2 602.9 L969.5 691.8 L969.8 638.1 L970.1 610.6 L970.4 571.8 L970.8 690.9 L971.1 591.5 L971.4 605.5 L971.7 525.9 L972.0 621.0 L972.3 636.7 L972.6 533.7 L972.9 629.1 L973.2 639.6 L973.6 634.0 L973.9 558.8 L974.2 494.1 L974.5 680.8 L974.8 653.9 L975.1 564.5 L975.4 644.6 L975.8 551.6 L976.1 672.2 L976.4 712.2 L976.7 745.0 L977.0 640.1 L977.3 751.2 L977.6 660.0 L977.9 622.8 L978.2 617.0 L978.6 678.5 L978.9 619.5 L979.2 635.3 L979.5 608.5 L979.8 599.8 L980.1 574.3 L980.4 599.0 L980.8 664.4 L981.1 682.6 L981.4 713.7 L981.7 546.8 L982.0 567.5 L982.3 669.5 L982.6 662.7 L982.9 606.8 L983.2 675.0 L983.6 650.9 L983.9 581.6 L984.2 679.3 L984.5 672.5 L984.8 667.5 L985.1 684.0 L985.4 595.7 L985.8 719.7 L986.1 685.7 L986.4 737.9 L986.7 705.5 L987.0 712.6 L987.3 668.6 L987.6 650.6 L987.9 730.0 L988.2 674.2 L988.6 742.0 L988.9 721.9 L989.2 632.3 L989.5 743.9 L989.8 736.3 L990.1 702.8 L990.4 697.5 L990.8 739.5 L991.1 723.3 L991.4 744.5 L991.7 688.9 L992.0 721.3 L992.3 728.6 L992.6 725.3 L992.9 805.5 L993.2 704.7 L993.6 661.5 L993.9 679.2 L994.2 688.0 L994.5 747.2 L994.8 786.4 L995.1 719.5 L995.4 764.0 L995.8 671.7 L996.1 746.0 L996.4 697.4 L996.7 693.3 L997.0 669.1 L997.3 682.0 L997.6 736.5 L997.9 668.6 L998.2 707.5 L998.6 676.8 L998.9 670.0 L999.2 692.9 L999.5 600.5 L999.8 712.1 L1000.1 720.9 L1000.4 650.9 L1000.8 706.4 L1001.1 727.2 L1001.4 674.5 L1001.7 733.7 L1002.0 773.3 L1002.3 777.6 L1002.6 753.5 L1002.9 832.8 L1003.2 806.3 L1003.6 740.0 L1003.9 780.3 L1004.2 857.3 L1004.5 817.0 L1004.8 790.3 L1005.1 845.0 L1005.4 819.1 L1005.8 789.8 L1006.1 797.8 L1006.4 816.2 L1006.7 748.8 L1007.0 827.1 L1007.3 807.3 L1007.6 909.0 L1007.9 834.7 L1008.2 869.8 L1008.6 845.2 L1008.9 832.8 L1009.2 843.7 L1009.5 845.1 L1009.8 796.7 L1010.1 789.2 L1010.4 801.2 L1010.8 809.8 L1011.1 805.5 L1011.4 701.8 L1011.7 737.1 L1012.0 742.3 L1012.3 678.5 L1012.6 744.6 L1012.9 781.4 L1013.2 694.2 L1013.6 705.2 L1013.9 783.9 L1014.2 709.0 L1014.5 720.7 L1014.8 742.7 L1015.1 737.8 L1015.4 773.1 L1015.8 771.6 L1016.1 704.9 L1016.4 802.7 L1016.7 788.5 L1017.0 855.3 L1017.3 827.0 L1017.6 784.9 L1017.9 873.6 L1018.2 817.7 L1018.6 818.6 L1018.9 847.1 L1019.2 972.0 L1019.5 835.1 L1019.8 857.7 L1020.1 818.8 L1020.4 810.9 L1020.8 902.0 L1021.1 761.3 L1021.4 868.4 L1021.7 816.5 L1022.0 736.8 L1022.3 753.4 L1022.6 692.7 L1022.9 738.2 L1023.2 821.3 L1023.6 647.8 L1023.9 785.9 L1024.2 756.4 L1024.5 697.6 L1024.8 726.1 L1025.1 811.4 L1025.4 726.2 L1025.8 761.3 L1026.1 717.3 L1026.4 748.4 L1026.7 785.1 L1027.0 811.8 L1027.3 726.3 L1027.6 828.9 L1027.9 849.0 L1028.2 783.1 L1028.6 840.3 L1028.9 776.6 L1029.2 842.4 L1029.5 822.7 L1029.8 805.1 L1030.1 847.3 L1030.4 844.2 L1030.8 806.4 L1031.1 784.3 L1031.4 826.2 L1031.7 777.0 L1032.0 883.2 L1032.3 652.1 L1032.6 808.9 L1032.9 819.4 L1033.2 751.9 L1033.6 661.5 L1033.9 769.9 L1034.2 735.3 L1034.5 759.3 L1034.8 788.0 L1035.1 718.2 L1035.4 704.5 L1035.8 597.2 L1036.1 686.4 L1036.4 682.9 L1036.7 714.9 L1037.0 715.8 L1037.3 749.6 L1037.6 767.5 L1037.9 720.1 L1038.2 680.6 L1038.6 813.3 L1038.9 825.6 L1039.2 770.0 L1039.5 656.7 L1039.8 652.1 L1040.1 737.3 L1040.4 660.6 L1040.8 763.2 L1041.1 745.3 L1041.4 763.3 L1041.7 735.8 L1042.0 720.0 L1042.3 680.1 L1042.6 652.5 L1042.9 815.1 L1043.2 784.5 L1043.6 664.3 L1043.9 768.6 L1044.2 743.6 L1044.5 797.7 L1044.8 797.3 L1045.1 866.5 L1045.4 729.1 L1045.8 765.9 L1046.1 862.9 L1046.4 781.6 L1046.7 850.1 L1047.0 859.0 L1047.3 791.3 L1047.6 789.4 L1047.9 829.6 L1048.2 725.7 L1048.6 673.7 L1048.9 766.7 L1049.2 536.2 L1049.5 703.2 L1049.8 955.0 L1050.1 734.9 L1050.4 758.7 L1050.8 684.4 L1051.1 663.3 L1051.4 601.1 L1051.7 597.2 L1052.0 569.3 L1052.3 690.8 L1052.6 588.6 L1052.9 577.9 L1053.2 572.0 L1053.6 581.4 L1053.9 589.5 L1054.2 571.5 L1054.5 622.0 L1054.8 597.5 L1055.1 602.5 L1055.4 574.6 L1055.8 584.4 L1056.1 681.5 L1056.4 616.4 L1056.7 568.9 L1057.0 595.4 L1057.3 726.2 L1057.6 707.1 L1057.9 672.8 L1058.2 718.2 L1058.6 655.3 L1058.9 715.2 L1059.2 705.1 L1059.5 666.7 L1059.8 666.9 L1060.1 701.0 L1060.4 624.0 L1060.8 735.0 L1061.1 699.7 L1061.4 597.4 L1061.7 602.9 L1062.0 569.4 L1062.3 605.9 L1062.6 657.9 L1062.9 573.0 L1063.2 597.6 L1063.6 559.5 L1063.9 633.4 L1064.2 639.9 L1064.5 625.9 L1064.8 737.5 L1065.1 638.5 L1065.4 713.8 L1065.8 816.6 L1066.1 717.5 L1066.4 785.3 L1066.7 736.2 L1067.0 616.6 L1067.3 763.3 L1067.6 755.5 L1067.9 705.2 L1068.2 779.6 L1068.6 784.5 L1068.9 723.9 L1069.2 777.7 L1069.5 759.5 L1069.8 783.2 L1070.1 763.7 L1070.4 673.4 L1070.8 771.0 L1071.1 703.2 L1071.4 702.7 L1071.7 809.3 L1072.0 753.2 L1072.3 741.6 L1072.6 635.1 L1072.9 722.3 L1073.2 754.9 L1073.6 708.7 L1073.9 693.4 L1074.2 735.0 L1074.5 694.3 L1074.8 675.2 L1075.1 654.5 L1075.4 668.9 L1075.8 723.0 L1076.1 783.1 L1076.4 710.3 L1076.7 685.9 L1077.0 730.5 L1077.3 672.9 L1077.6 710.2 L1077.9 715.9 L1078.2 758.5 L1078.6 753.0 L1078.9 756.9 L1079.2 709.4 L1079.5 804.7 L1079.8 738.1 L1080.1 704.6 L1080.4 741.5 L1080.8 704.8 L1081.1 762.5 L1081.4 704.7 L1081.7 740.9 L1082.0 819.9 L1082.3 795.6 L1082.6 781.1 L1082.9 737.3 L1083.2 723.6 L1083.6 740.0 L1083.9 795.0 L1084.2 806.7 L1084.5 781.2 L1084.8 815.2 L1085.1 725.5 L1085.4 825.7 L1085.8 680.9 L1086.1 734.3 L1086.4 755.2 L1086.7 759.9 L1087.0 788.3 L1087.3 892.9 L1087.6 768.6 L1087.9 866.7 L1088.2 745.3 L1088.6 836.2 L1088.9 740.8 L1089.2 809.1 L1089.5 776.5 L1089.8 797.9 L1090.1 763.1 L1090.4 695.6 L1090.8 724.4 L1091.1 769.3 L1091.4 804.9 L1091.7 743.8 L1092.0 905.0 L1092.3 788.5 L1092.6 703.6 L1092.9 737.5 L1093.2 714.2 L1093.6 731.4 L1093.9 597.8 L1094.2 647.8 L1094.5 722.1 L1094.8 564.7 L1095.1 620.9 L1095.4 615.4 L1095.8 465.0 L1096.1 594.7 L1096.4 589.8 L1096.7 725.1 L1097.0 649.5 L1097.3 676.0 L1097.6 626.0 L1097.9 587.7 L1098.2 705.0 L1098.6 700.1 L1098.9 620.7 L1099.2 608.6 L1099.5 731.4 L1099.8 686.4 L1100.1 649.6 L1100.4 685.3 L1100.8 558.0 L1101.1 692.7 L1101.4 705.9 L1101.7 694.3 L1102.0 655.6 L1102.3 631.7 L1102.6 758.8 L1102.9 573.5 L1103.2 656.0 L1103.6 706.3 L1103.9 668.1 L1104.2 700.1 L1104.5 708.6 L1104.8 721.0 L1105.1 741.6 L1105.4 776.3 L1105.8 803.0 L1106.1 734.0 L1106.4 713.3 L1106.7 712.3 L1107.0 668.8 L1107.3 667.2 L1107.6 687.8 L1107.9 712.6 L1108.2 724.4 L1108.6 643.5 L1108.9 689.9 L1109.2 679.4 L1109.5 753.7 L1109.8 709.6 L1110.1 711.4 L1110.4 608.7 L1110.8 614.3 L1111.1 667.2 L1111.4 700.6 L1111.7 611.7 L1112.0 704.1 L1112.3 714.2 L1112.6 727.4 L1112.9 782.1 L1113.2 652.4 L1113.6 677.9 L1113.9 756.9 L1114.2 715.2 L1114.5 761.0 L1114.8 773.4 L1115.1 653.1 L1115.4 818.2 L1115.8 803.4 L1116.1 648.6 L1116.4 683.7 L1116.7 845.6 L1117.0 670.2 L1117.3 701.7 L1117.6 629.4 L1117.9 722.8 L1118.2 595.1 L1118.6 643.1 L1118.9 656.8 L1119.2 579.1 L1119.5 555.1 L1119.8 656.2 L1120.1 680.0 L1120.4 583.6 L1120.8 721.2 L1121.1 625.6 L1121.4 634.6 L1121.7 653.2 L1122.0 713.3 L1122.3 675.5 L1122.6 681.1 L1122.9 718.7 L1123.2 685.8 L1123.6 670.3 L1123.9 664.1 L1124.2 679.0 L1124.5 699.5 L1124.8 744.0 L1125.1 687.8 L1125.4 729.8 L1125.8 712.2 L1126.1 740.8 L1126.4 679.3 L1126.7 647.4 L1127.0 566.3 L1127.3 646.7 L1127.6 674.7 L1127.9 681.0 L1128.2 577.6 L1128.6 614.6 L1128.9 611.3 L1129.2 630.8 L1129.5 693.0 L1129.8 687.5 L1130.1 722.0 L1130.4 602.1 L1130.8 601.4 L1131.1 681.0 L1131.4 653.5 L1131.7 691.0 L1132.0 695.3 L1132.3 735.1 L1132.6 749.4 L1132.9 673.2 L1133.2 714.3 L1133.6 719.4 L1133.9 758.0 L1134.2 702.1 L1134.5 604.6 L1134.8 694.4 L1135.1 656.8 L1135.4 601.5 L1135.8 710.5 L1136.1 631.4 L1136.4 658.5 L1136.7 628.9 L1137.0 657.9 L1137.3 671.7 L1137.6 680.7 L1137.9 756.2 L1138.2 753.2 L1138.6 645.0 L1138.9 720.9 L1139.2 744.2 L1139.5 727.3 L1139.8 717.3 L1140.1 702.8 L1140.4 688.0 L1140.8 670.9 L1141.1 678.7 L1141.4 741.9 L1141.7 693.4 L1142.0 764.8 L1142.3 677.3 L1142.6 765.8 L1142.9 679.0 L1143.2 669.1 L1143.6 687.4 L1143.9 782.0 L1144.2 745.4 L1144.5 618.6 L1144.8 746.1 L1145.1 654.1 L1145.4 577.7 L1145.8 743.1 L1146.1 637.2 L1146.4 609.0 L1146.7 696.3 L1147.0 705.4 L1147.3 580.3 L1147.6 688.2 L1147.9 607.7 L1148.2 590.5 L1148.6 636.4 L1148.9 644.6 L1149.2 608.2 L1149.5 573.6 L1149.8 607.4 L1150.1 659.8 L1150.4 572.1 L1150.8 638.6 L1151.1 565.6 L1151.4 473.7 L1151.7 574.7 L1152.0 562.4 L1152.3 646.8 L1152.6 595.7 L1152.9 590.9 L1153.2 591.6 L1153.6 606.9 L1153.9 640.4 L1154.2 673.2 L1154.5 629.6 L1154.8 636.9 L1155.1 616.0 L1155.4 587.7 L1155.8 668.0 L1156.1 585.4 L1156.4 703.3 L1156.7 668.0 L1157.0 619.4 L1157.3 681.8 L1157.6 611.1 L1157.9 643.8 L1158.2 588.9 L1158.6 756.3 L1158.9 667.8 L1159.2 620.8 L1159.5 698.7 L1159.8 631.5 L1160.1 632.8 L1160.4 671.8 L1160.8 714.9 L1161.1 712.0 L1161.4 677.4 L1161.7 640.7 L1162.0 654.6 L1162.3 655.4 L1162.6 695.4 L1162.9 669.2 L1163.2 550.7 L1163.6 723.6 L1163.9 664.5 L1164.2 629.4 L1164.5 752.1 L1164.8 739.0 L1165.1 613.2 L1165.4 674.4 L1165.8 639.4 L1166.1 730.7 L1166.4 661.8 L1166.7 692.3 L1167.0 603.8 L1167.3 679.9 L1167.6 800.6 L1167.9 727.0 L1168.2 711.7 L1168.6 720.8 L1168.9 634.9 L1169.2 670.1 L1169.5 653.9 L1169.8 618.1 L1170.1 633.1 L1170.4 704.1 L1170.8 677.8 L1171.1 620.7 L1171.4 671.4 L1171.7 729.9 L1172.0 595.4 L1172.3 616.5 L1172.6 601.7 L1172.9 715.1 L1173.2 608.9 L1173.6 626.7 L1173.9 579.8 L1174.2 635.6 L1174.5 673.0 L1174.8 625.2 L1175.1 627.6 L1175.4 634.5 L1175.8 743.3 L1176.1 757.9 L1176.4 789.4 L1176.7 633.6 L1177.0 744.2 L1177.3 643.2 L1177.6 703.5 L1177.9 702.4 L1178.2 722.5 L1178.6 665.9 L1178.9 794.4 L1179.2 789.5 L1179.5 770.8 L1179.8 770.4 L1180.1 761.8 L1180.4 791.9 L1180.8 792.1 L1181.1 777.2 L1181.4 788.4 L1181.7 844.3 L1182.0 927.0 L1182.3 782.7 L1182.6 802.8 L1182.9 778.5 L1183.2 847.5 L1183.6 840.5 L1183.9 846.0 L1184.2 776.7 L1184.5 766.5 L1184.8 777.7 L1185.1 668.3 L1185.4 782.8 L1185.8 722.1 L1186.1 753.8 L1186.4 707.5 L1186.7 749.5 L1187.0 808.3 L1187.3 757.1 L1187.6 668.2 L1187.9 712.3 L1188.2 740.9 L1188.6 747.7 L1188.9 708.9 L1189.2 687.8 L1189.5 735.6 L1189.8 689.5 L1190.1 674.6 L1190.4 697.0 L1190.8 663.6 L1191.1 624.4 L1191.4 588.9 L1191.7 673.1 L1192.0 855.8 L1192.3 662.4 L1192.6 573.1 L1192.9 629.5 L1193.2 602.0 L1193.6 554.3 L1193.9 530.7 L1194.2 622.9 L1194.5 567.1 L1194.8 630.4 L1195.1 647.1 L1195.4 668.3 L1195.8 597.5 L1196.1 634.0 L1196.4 565.1 L1196.7 651.2 L1197.0 651.6 L1197.3 660.8 L1197.6 598.5 L1197.9 674.5 L1198.2 580.2 L1198.6 678.8 L1198.9 675.8 L1199.2 711.3 L1199.5 620.5 L1199.8 724.3 L1200.1 580.0 L1200.4 703.4 L1200.8 696.2 L1201.1 665.8 L1201.4 731.5 L1201.7 680.6 L1202.0 552.2 L1202.3 684.4 L1202.6 683.0 L1202.9 650.7 L1203.2 639.1 L1203.6 610.2 L1203.9 666.8 L1204.2 641.1 L1204.5 588.5 L1204.8 641.5 L1205.1 631.8 L1205.4 560.4 L1205.8 607.4 L1206.1 593.9 L1206.4 600.0 L1206.7 634.6 L1207.0 514.5 L1207.3 677.6 L1207.6 610.5 L1207.9 622.6 L1208.2 538.6 L1208.6 600.1 L1208.9 575.4 L1209.2 646.9 L1209.5 627.5 L1209.8 585.9 L1210.1 561.5 L1210.4 616.5 L1210.8 573.4 L1211.1 551.3 L1211.4 656.4 L1211.7 602.8 L1212.0 652.9 L1212.3 601.2 L1212.6 596.0 L1212.9 588.7 L1213.2 572.8 L1213.6 561.2 L1213.9 652.4 L1214.2 551.4 L1214.5 580.4 L1214.8 626.8 L1215.1 667.2 L1215.4 464.5 L1215.8 571.3 L1216.1 629.3 L1216.4 621.1 L1216.7 572.8 L1217.0 643.2 L1217.3 573.2 L1217.6 594.3 L1217.9 624.5 L1218.2 734.8 L1218.6 598.7 L1218.9 737.2 L1219.2 565.0 L1219.5 700.0 L1219.8 679.6 L1220.1 711.9 L1220.4 701.3 L1220.8 821.4 L1221.1 686.7 L1221.4 679.1 L1221.7 664.8 L1222.0 646.1 L1222.3 758.0 L1222.6 674.7 L1222.9 754.6 L1223.2 653.1 L1223.6 656.1 L1223.9 639.0 L1224.2 632.8 L1224.5 627.0 L1224.8 658.7 L1225.1 654.3 L1225.4 648.0 L1225.8 571.4 L1226.1 767.7 L1226.4 665.7 L1226.7 681.4 L1227.0 718.6 L1227.3 708.8 L1227.6 579.1 L1227.9 669.0 L1228.2 707.2 L1228.6 681.0 L1228.9 779.7 L1229.2 757.4 L1229.5 667.4 L1229.8 747.0 L1230.1 800.8 L1230.4 739.6 L1230.8 669.5 L1231.1 777.6 L1231.4 737.2 L1231.7 681.6 L1232.0 735.8 L1232.3 764.2 L1232.6 776.3 L1232.9 807.6 L1233.2 813.6 L1233.6 743.5 L1233.9 806.4 L1234.2 811.5 L1234.5 792.7 L1234.8 805.2 L1235.1 821.7 L1235.4 813.0 L1235.8 780.1 L1236.1 855.1 L1236.4 849.0 L1236.7 855.7 L1237.0 810.2 L1237.3 922.3 L1237.6 815.2 L1237.9 792.0 L1238.2 754.9 L1238.6 809.6 L1238.9 785.1 L1239.2 662.1 L1239.5 717.8 L1239.8 708.5 L1240.1 790.0 L1240.4 675.4 L1240.8 708.8 L1241.1 729.5 L1241.4 822.0 L1241.7 655.6 L1242.0 665.2 L1242.3 667.2 L1242.6 638.7 L1242.9 648.3 L1243.2 679.7 L1243.6 674.2 L1243.9 708.1 L1244.2 687.5 L1244.5 647.5 L1244.8 752.4 L1245.1 765.6 L1245.4 694.1 L1245.8 879.0 L1246.1 720.5 L1246.4 786.3 L1246.7 724.4 L1247.0 751.4 L1247.3 806.2 L1247.6 793.1 L1247.9 836.4 L1248.2 800.9 L1248.6 754.1 L1248.9 843.5 L1249.2 728.4 L1249.5 715.2 L1249.8 771.0 L1250.1 732.1 L1250.4 708.8 L1250.8 731.9 L1251.1 663.5 L1251.4 758.2 L1251.7 700.5 L1252.0 695.8 L1252.3 735.3 L1252.6 626.2 L1252.9 734.5 L1253.2 707.7 L1253.6 715.5 L1253.9 741.9 L1254.2 670.2 L1254.5 687.1 L1254.8 740.8 L1255.1 685.0 L1255.4 635.4 L1255.8 595.7 L1256.1 638.1 L1256.4 693.7 L1256.7 658.1 L1257.0 683.1 L1257.3 692.2 L1257.6 642.5 L1257.9 511.4 L1258.2 602.9 L1258.6 724.3 L1258.9 620.9 L1259.2 701.2 L1259.5 691.8 L1259.8 630.5 L1260.1 588.1 L1260.4 709.6 L1260.8 639.2 L1261.1 698.6 L1261.4 627.2 L1261.7 585.2 L1262.0 631.1 L1262.3 644.8 L1262.6 644.3 L1262.9 705.5 L1263.2 673.0 L1263.6 637.2 L1263.9 629.5 L1264.2 627.7 L1264.5 737.1 L1264.8 680.4 L1265.1 737.7 L1265.4 708.4 L1265.8 721.2 L1266.1 717.1 L1266.4 633.8 L1266.7 613.3 L1267.0 623.6 L1267.3 610.9 L1267.6 636.2 L1267.9 607.1 L1268.2 623.3 L1268.6 724.0 L1268.9 620.2 L1269.2 673.4 L1269.5 592.3 L1269.8 602.4 L1270.1 780.2 L1270.4 734.6 L1270.8 705.0 L1271.1 676.7 L1271.4 662.4 L1271.7 694.7 L1272.0 825.2 L1272.3 872.9 L1272.6 687.4 L1272.9 714.9 L1273.2 728.9 L1273.6 730.0 L1273.9 715.4 L1274.2 693.2 L1274.5 707.5 L1274.8 845.7 L1275.1 762.1 L1275.4 652.2 L1275.8 801.2 L1276.1 796.6 L1276.4 770.2 L1276.7 758.0 L1277.0 840.6 L1277.3 677.6 L1277.6 746.3 L1277.9 713.9 L1278.2 819.6 L1278.6 708.8 L1278.9 789.7 L1279.2 681.9 L1279.5 810.7 L1279.8 723.4 L1280.1 687.1 L1280.4 680.9 L1280.8 693.5 L1281.1 704.9 L1281.4 717.4 L1281.7 653.3 L1282.0 779.7 L1282.3 727.1 L1282.6 670.5 L1282.9 744.7 L1283.2 766.0 L1283.6 731.8 L1283.9 647.3 L1284.2 719.0 L1284.5 706.3 L1284.8 657.0 L1285.1 731.6 L1285.4 684.1 L1285.8 695.5 L1286.1 748.4 L1286.4 632.6 L1286.7 750.4 L1287.0 666.1 L1287.3 773.7 L1287.6 684.4 L1287.9 641.9 L1288.2 821.6 L1288.6 820.2 L1288.9 595.7 L1289.2 729.7 L1289.5 587.7 L1289.8 722.9 L1290.1 686.4 L1290.4 712.5 L1290.8 709.5 L1291.1 694.3 L1291.4 662.4 L1291.7 732.9 L1292.0 756.1 L1292.3 706.6 L1292.6 790.0 L1292.9 688.1 L1293.2 760.6 L1293.6 778.6 L1293.9 659.0 L1294.2 740.2 L1294.5 678.2 L1294.8 680.5 L1295.1 817.8 L1295.4 722.8 L1295.8 685.4 L1296.1 618.7 L1296.4 684.3 L1296.7 641.0 L1297.0 647.0 L1297.3 639.6 L1297.6 756.8 L1297.9 676.2 L1298.2 655.0 L1298.6 668.8 L1298.9 597.8 L1299.2 684.3 L1299.5 659.3 L1299.8 616.4 L1300.1 709.8 L1300.4 562.6 L1300.8 670.6 L1301.1 657.2 L1301.4 632.6 L1301.7 666.1 L1302.0 686.0 L1302.3 730.1 L1302.6 741.3 L1302.9 721.8 L1303.2 755.5 L1303.6 583.5 L1303.9 609.6 L1304.2 690.2 L1304.5 621.6 L1304.8 667.0 L1305.1 696.1 L1305.4 740.1 L1305.8 695.8 L1306.1 687.0 L1306.4 678.7 L1306.7 623.6 L1307.0 641.2 L1307.3 543.5 L1307.6 668.6 L1307.9 685.0 L1308.2 630.5 L1308.6 717.2 L1308.9 652.9 L1309.2 772.9 L1309.5 703.7 L1309.8 671.3 L1310.1 748.1 L1310.4 783.6 L1310.8 726.5 L1311.1 714.9 L1311.4 666.1 L1311.7 662.8 L1312.0 637.6 L1312.3 686.1 L1312.6 777.7 L1312.9 671.2 L1313.2 603.2 L1313.6 471.5 L1313.9 665.3 L1314.2 711.9 L1314.5 688.5 L1314.8 582.2 L1315.1 674.9 L1315.4 677.2 L1315.8 634.9 L1316.1 743.9 L1316.4 693.6 L1316.7 672.2 L1317.0 696.7 L1317.3 744.9 L1317.6 774.1 L1317.9 745.2 L1318.2 858.5 L1318.6 755.2 L1318.9 685.2 L1319.2 727.6 L1319.5 714.4 L1319.8 718.2 L1320.1 839.7 L1320.4 778.8 L1320.8 745.3 L1321.1 655.0 L1321.4 790.7 L1321.7 749.4 L1322.0 714.0 L1322.3 711.6 L1322.6 747.6 L1322.9 634.9 L1323.2 668.5 L1323.6 741.8 L1323.9 680.9 L1324.2 669.4 L1324.5 650.0 L1324.8 757.4 L1325.1 649.4 L1325.4 686.3 L1325.8 712.0 L1326.1 653.6 L1326.4 641.7 L1326.7 786.2 L1327.0 717.7 L1327.3 737.0 L1327.6 677.4 L1327.9 829.8 L1328.2 751.5 L1328.6 676.7 L1328.9 651.4 L1329.2 782.8 L1329.5 672.9 L1329.8 781.9 L1330.1 629.5 L1330.4 677.4 L1330.8 762.9 L1331.1 660.1 L1331.4 698.6 L1331.7 650.2 L1332.0 693.5 L1332.3 632.3 L1332.6 615.9 L1332.9 656.7 L1333.2 584.7 L1333.6 610.4 L1333.9 701.7 L1334.2 577.3 L1334.5 638.9 L1334.8 511.4 L1335.1 549.5 L1335.4 586.7 L1335.8 651.4 L1336.1 669.2 L1336.4 651.9 L1336.7 617.0 L1337.0 673.2 L1337.3 655.7 L1337.6 757.4 L1337.9 713.8 L1338.2 702.7 L1338.6 702.4 L1338.9 691.3 L1339.2 722.8 L1339.5 815.8 L1339.8 667.1 L1340.1 759.0 L1340.4 766.4 L1340.8 680.5 L1341.1 779.2 L1341.4 773.6 L1341.7 667.6 L1342.0 787.7 L1342.3 723.3 L1342.6 711.6 L1342.9 691.9 L1343.2 734.0 L1343.6 785.3 L1343.9 696.0 L1344.2 789.9 L1344.5 823.4 L1344.8 776.6 L1345.1 681.0 L1345.4 742.0 L1345.8 697.1 L1346.1 651.3 L1346.4 732.4 L1346.7 624.0 L1347.0 722.2 L1347.3 663.8 L1347.6 639.0 L1347.9 690.4 L1348.2 669.6 L1348.6 750.5 L1348.9 738.0 L1349.2 771.4 L1349.5 669.4 L1349.8 518.0 L1350.1 642.4 L1350.4 687.7 L1350.8 629.9 L1351.1 691.0 L1351.4 616.3 L1351.7 607.1 L1352.0 696.1 L1352.3 670.5 L1352.6 664.2 L1352.9 631.2 L1353.2 618.2 L1353.6 636.8 L1353.9 574.8 L1354.2 602.7 L1354.5 565.2 L1354.8 623.2 L1355.1 557.8 L1355.4 529.7 L1355.8 480.9 L1356.1 573.6 L1356.4 597.8 L1356.7 571.9 L1357.0 764.5 L1357.3 653.0 L1357.6 746.8 L1357.9 694.4 L1358.2 673.1 L1358.6 624.1 L1358.9 724.0 L1359.2 700.0 L1359.5 686.2 L1359.8 677.8 L1360.1 628.1 L1360.4 623.9 L1360.8 683.2 L1361.1 706.1 L1361.4 768.0 L1361.7 600.0 L1362.0 722.8 L1362.3 704.6 L1362.6 676.4 L1362.9 707.6 L1363.2 756.0 L1363.6 708.1 L1363.9 719.8 L1364.2 711.3 L1364.5 718.3 L1364.8 838.5 L1365.1 828.1 L1365.4 769.7 L1365.8 629.1 L1366.1 799.0 L1366.4 693.6 L1366.7 723.9 L1367.0 686.4 L1367.3 737.7 L1367.6 667.9 L1367.9 778.1 L1368.2 760.2 L1368.6 716.5 L1368.9 743.0 L1369.2 713.3 L1369.5 763.6 L1369.8 760.5 L1370.1 748.0 L1370.4 732.0 L1370.8 771.5 L1371.1 905.8 L1371.4 768.0 L1371.7 737.0 L1372.0 839.0 L1372.3 745.0 L1372.6 829.0 L1372.9 777.3 L1373.2 815.1 L1373.6 684.6 L1373.9 879.1 L1374.2 713.7 L1374.5 785.5 L1374.8 782.1 L1375.1 873.3 L1375.4 873.0 L1375.8 794.6 L1376.1 882.2 L1376.4 894.1 L1376.7 838.6 L1377.0 859.0 L1377.3 1010.8 L1377.6 882.6 L1377.9 894.6 L1378.2 895.0 L1378.6 868.5 L1378.9 891.2 L1379.2 899.2 L1379.5 898.2 L1379.8 827.7 L1380.1 843.6 L1380.4 862.6 L1380.8 874.2 L1381.1 892.1 L1381.4 845.0 L1381.7 890.8 L1382.0 826.5 L1382.3 881.6 L1382.6 878.3 L1382.9 825.7 L1383.2 896.0 L1383.6 896.2 L1383.9 857.7 L1384.2 870.2 L1384.5 834.9 L1384.8 891.1 L1385.1 904.9 L1385.4 870.2 L1385.8 952.6 L1386.1 827.0 L1386.4 942.7 L1386.7 955.2 L1387.0 933.5 L1387.3 959.7 L1387.6 991.2 L1387.9 998.2 L1388.2 921.2 L1388.6 1000.0 L1388.9 941.8 L1389.2 941.9 L1389.5 990.1 L1389.8 947.7 L1390.1 1002.8 L1390.4 1003.2 L1390.8 1004.0 L1391.1 930.7 L1391.4 982.8 L1391.7 1084.9 L1392.0 1012.7 L1392.3 1050.2 L1392.6 1009.1 L1392.9 890.2 L1393.2 942.0 L1393.6 949.5 L1393.9 876.8 L1394.2 909.0 L1394.5 871.1 L1394.8 904.4 L1395.1 992.7 L1395.4 919.5 L1395.8 865.6 L1396.1 838.7 L1396.4 880.2 L1396.7 1009.5 L1397.0 878.4 L1397.3 882.5 L1397.6 1011.5 L1397.9 912.9 L1398.2 862.2 L1398.6 874.9 L1398.9 819.0 L1399.2 910.8 L1399.5 855.5 L1399.8 786.1 L1400.1 777.3 L1400.4 794.1 L1400.8 767.7 L1401.1 822.8 L1401.4 712.1 L1401.7 856.0 L1402.0 834.3 L1402.3 712.9 L1402.6 719.5 L1402.9 776.2 L1403.2 702.0 L1403.6 815.6 L1403.9 769.1 L1404.2 778.6 L1404.5 724.8 L1404.8 804.6 L1405.1 747.8 L1405.4 779.1 L1405.8 768.6 L1406.1 818.5 L1406.4 892.2 L1406.7 852.8 L1407.0 784.9 L1407.3 897.4 L1407.6 900.3 L1407.9 798.3 L1408.2 836.7 L1408.6 919.0 L1408.9 850.3 L1409.2 867.5 L1409.5 941.0 L1409.8 929.9 L1410.1 950.1 L1410.4 845.8 L1410.8 968.5 L1411.1 768.0 L1411.4 887.9 L1411.7 878.1 L1412.0 821.4 L1412.3 678.5 L1412.6 843.9 L1412.9 878.4 L1413.2 806.0 L1413.6 867.2 L1413.9 869.5 L1414.2 841.8 L1414.5 834.5 L1414.8 941.8 L1415.1 843.3 L1415.4 944.6 L1415.8 867.8 L1416.1 904.6 L1416.4 921.1 L1416.7 984.2 L1417.0 900.5 L1417.3 959.0 L1417.6 887.3 L1417.9 975.2 L1418.2 857.6 L1418.6 941.5 L1418.9 933.3 L1419.2 814.1 L1419.5 916.5 L1419.8 813.3 L1420.1 813.1 L1420.4 794.0 L1420.8 802.4 L1421.1 832.6 L1421.4 883.0 L1421.7 949.0 L1422.0 866.8 L1422.3 804.5 L1422.6 909.8 L1422.9 806.5 L1423.2 911.1 L1423.6 858.2 L1423.9 866.9 L1424.2 841.3 L1424.5 956.1 L1424.8 928.2 L1425.1 919.2 L1425.4 843.3 L1425.8 901.9 L1426.1 902.5 L1426.4 997.7 L1426.7 1018.6 L1427.0 998.0 L1427.3 1030.5 L1427.6 1018.3 L1427.9 945.8 L1428.2 974.3 L1428.6 890.4 L1428.9 1002.0 L1429.2 1004.6 L1429.5 914.2 L1429.8 1018.4 L1430.1 1075.0 L1430.4 887.6 L1430.8 975.3 L1431.1 1021.1 L1431.4 959.2 L1431.7 990.5 L1432.0 1011.3 L1432.3 971.0 L1432.6 968.8 L1432.9 923.1 L1433.2 1016.5 L1433.6 1009.4 L1433.9 1068.3 L1434.2 1033.7 L1434.5 1003.0 L1434.8 945.2 L1435.1 911.1 L1435.4 979.2 L1435.8 974.7 L1436.1 1013.0 L1436.4 980.5 L1436.7 970.2 L1437.0 1013.3 L1437.3 961.9 L1437.6 954.7 L1437.9 934.1 L1438.2 935.4 L1438.6 901.2 L1438.9 976.6 L1439.2 903.3 L1439.5 925.0 L1439.8 957.8 L1440.1 883.3 L1440.4 869.6 L1440.8 930.7 L1441.1 966.5 L1441.4 989.7 L1441.7 907.8 L1442.0 988.0 L1442.3 897.6 L1442.6 899.6 L1442.9 931.5 L1443.2 891.1 L1443.6 848.3 L1443.9 866.7 L1444.2 999.4 L1444.5 904.2 L1444.8 905.5 L1445.1 831.6 L1445.4 850.2 L1445.8 857.3 L1446.1 870.3 L1446.4 893.8 L1446.7 835.7 L1447.0 873.7 L1447.3 913.8 L1447.6 919.1 L1447.9 834.7 L1448.2 920.1 L1448.6 850.2 L1448.9 841.1 L1449.2 948.9 L1449.5 825.5 L1449.8 871.9 L1450.1 896.4 L1450.4 869.4 L1450.8 882.4 L1451.1 889.6 L1451.4 834.8 L1451.7 899.6 L1452.0 980.5 L1452.3 872.0 L1452.6 885.2 L1452.9 896.6 L1453.2 893.4 L1453.6 897.1 L1453.9 924.0 L1454.2 933.0 L1454.5 922.3 L1454.8 936.8 L1455.1 1100.0 L1455.4 984.1 L1455.8 915.1 L1456.1 879.0 L1456.4 997.0 L1456.7 899.6 L1457.0 912.7 L1457.3 980.3 L1457.6 918.4 L1457.9 942.8 L1458.2 1003.8 L1458.6 987.6 L1458.9 1039.8 L1459.2 1006.6 L1459.5 927.3 L1459.8 1051.9 L1460.1 1032.3 L1460.4 917.7 L1460.8 972.9 L1461.1 996.3 L1461.4 1084.6 L1461.7 1010.2 L1462.0 1020.1 L1462.3 1063.3 L1462.6 1033.1 L1462.9 1008.0 L1463.2 1041.0 L1463.6 1041.9 L1463.9 1062.6 L1464.2 1017.7 L1464.5 1044.6 L1464.8 1072.5 L1465.1 990.1 L1465.4 981.1 L1465.8 1091.8 L1466.1 929.2 L1466.4 1083.3 L1466.7 992.0 L1467.0 1070.0 L1467.3 1071.9 L1467.6 995.7 L1467.9 1028.0 L1468.2 1019.9 L1468.6 1023.7 L1468.9 1045.1 L1469.2 1047.6 L1469.5 1040.5 L1469.8 1018.9 L1470.1 1043.1 L1470.4 1082.6 L1470.8 984.6 L1471.1 1110.5 L1471.4 1058.8 L1471.7 1020.2 L1472.0 1041.8 L1472.3 1023.8 L1472.6 901.6 L1472.9 972.9 L1473.2 946.3 L1473.6 1031.9 L1473.9 1022.3 L1474.2 1064.1 L1474.5 1025.3 L1474.8 997.1 L1475.1 995.2 L1475.4 933.5 L1475.8 946.6 L1476.1 986.9 L1476.4 1019.7 L1476.7 955.3 L1477.0 944.6 L1477.3 1004.7 L1477.6 1031.7 L1477.9 972.7 L1478.2 936.2 L1478.6 992.4 L1478.9 1044.9 L1479.2 1052.6 L1479.5 1035.9 L1479.8 1101.6 L1480.1 1122.0 L1480.4 961.2 L1480.8 1012.2 L1481.1 1041.8 L1481.4 941.9 L1481.7 1065.6 L1482.0 945.8 L1482.3 941.9 L1482.6 944.2 L1482.9 994.0 L1483.2 1074.0 L1483.6 952.2 L1483.9 1050.5 L1484.2 957.7 L1484.5 1017.8 L1484.8 1027.9 L1485.1 988.8 L1485.4 945.0 L1485.8 977.6 L1486.1 942.1 L1486.4 829.6 L1486.7 1062.4 L1487.0 993.3 L1487.3 944.9 L1487.6 944.4 L1487.9 940.3 L1488.2 944.5 L1488.6 965.7 L1488.9 941.2 L1489.2 971.4 L1489.5 992.2 L1489.8 941.6 L1490.1 1064.0 L1490.4 988.8 L1490.8 941.6 L1491.1 1061.3 L1491.4 1011.0 L1491.7 957.8 L1492.0 1065.4 L1492.3 1036.6 L1492.6 1064.0 L1492.9 980.8 L1493.2 1028.6 L1493.6 1049.2 L1493.9 1026.8 L1494.2 1077.7 L1494.5 1100.7 L1494.8 1109.3 L1495.1 1152.0 L1495.4 1088.9 L1495.8 1066.3 L1496.1 1063.2 L1496.4 1058.0 L1496.7 1078.0 L1497.0 1122.2 L1497.3 1062.8 L1497.6 1114.2 L1497.9 1066.9 L1498.2 1052.5 L1498.6 1067.7 L1498.9 1031.3 L1499.2 1005.6 L1499.5 1017.3 L1499.8 1114.9 L1500.1 1115.3 L1500.4 958.8 L1500.8 1095.5 L1501.1 1043.6 L1501.4 1043.0 L1501.7 1078.3 L1502.0 1077.9 L1502.3 1077.2 L1502.6 1037.7 L1502.9 966.9 L1503.2 1071.0 L1503.6 939.6 L1503.9 1049.7 L1504.2 987.6 L1504.5 951.0 L1504.8 1048.5 L1505.1 1025.0 L1505.4 985.4 L1505.8 1055.8 L1506.1 1011.1 L1506.4 1061.8 L1506.7 990.1 L1507.0 1063.2 L1507.3 1068.9 L1507.6 988.3 L1507.9 1104.7 L1508.2 970.0 L1508.6 1060.7 L1508.9 998.0 L1509.2 1003.9 L1509.5 979.1 L1509.8 1023.5 L1510.1 1130.0 L1510.4 994.3 L1510.8 1052.6 L1511.1 1060.9 L1511.4 1027.7 L1511.7 1062.1 L1512.0 980.4 L1512.3 1057.1 L1512.6 1052.4 L1512.9 1121.2 L1513.2 1004.8 L1513.6 1065.6 L1513.9 1020.7 L1514.2 1092.3 L1514.5 1060.8 L1514.8 1072.8 L1515.1 1054.7 L1515.4 952.7 L1515.8 1000.4 L1516.1 1016.7 L1516.4 993.7 L1516.7 993.0 L1517.0 1120.2 L1517.3 981.3 L1517.6 1059.2 L1517.9 1018.5 L1518.2 1009.6 L1518.6 1086.0 L1518.9 1015.0 L1519.2 957.3 L1519.5 1023.4 L1519.8 984.8 L1520.1 1098.4 L1520.4 1050.7 L1520.8 1025.2 L1521.1 1054.6 L1521.4 1084.9 L1521.7 1001.9 L1522.0 1044.9 L1522.3 1031.2 L1522.6 1064.1 L1522.9 1043.5 L1523.2 1113.3 L1523.6 1005.9 L1523.9 1092.4 L1524.2 1023.0 L1524.5 993.3 L1524.8 1034.7 L1525.1 1048.6 L1525.4 1006.9 L1525.8 970.6 L1526.1 993.3 L1526.4 1077.5 L1526.7 1044.3 L1527.0 910.0 L1527.3 979.9 L1527.6 1019.2 L1527.9 1009.3 L1528.2 1055.8 L1528.6 1028.1 L1528.9 986.8 L1529.2 1008.4 L1529.5 978.3 L1529.8 1075.9 L1530.1 1142.0 L1530.4 976.8 L1530.8 956.8 L1531.1 982.8 L1531.4 1011.8 L1531.7 1014.5 L1532.0 993.5 L1532.3 1072.4 L1532.6 980.2 L1532.9 1065.2 L1533.2 1095.8 L1533.6 1029.8 L1533.9 962.7 L1534.2 1049.5 L1534.5 967.3 L1534.8 1015.6 L1535.1 992.8 L1535.4 1015.8 L1535.8 1076.2 L1536.1 998.2 L1536.4 1108.6 L1536.7 1005.7 L1537.0 952.1 L1537.3 1006.8 L1537.6 941.5 L1537.9 984.9 L1538.2 1075.4 L1538.6 1056.1 L1538.9 914.6 L1539.2 922.2 L1539.5 913.4 L1539.8 963.0 L1540.1 894.3 L1540.4 994.5 L1540.8 1147.0 L1541.1 988.0 L1541.4 959.4 L1541.7 955.1 L1542.0 1060.0 L1542.3 992.9 L1542.6 1111.2 L1542.9 968.7 L1543.2 1042.9 L1543.6 1038.1 L1543.9 1094.2 L1544.2 1131.2 L1544.5 1125.3 L1544.8 1062.6 L1545.1 1055.8 L1545.4 1057.4 L1545.8 1054.2 L1546.1 966.1 L1546.4 926.6 L1546.7 975.2 L1547.0 969.5 L1547.3 1056.7 L1547.6 1068.6 L1547.9 1019.3 L1548.2 998.6 L1548.6 1062.7 L1548.9 1071.9 L1549.2 1032.2 L1549.5 1048.6 L1549.8 952.0 L1550.1 949.5 L1550.4 1041.0 L1550.8 941.5 L1551.1 1160.6 L1551.4 1081.4 L1551.7 973.9 L1552.0 1018.4 L1552.3 989.3 L1552.6 989.8 L1552.9 974.5 L1553.2 1039.3 L1553.6 1011.6 L1553.9 1015.3 L1554.2 922.1 L1554.5 1000.4 L1554.8 1005.6 L1555.1 999.8 L1555.4 970.2 L1555.8 1011.4 L1556.1 1099.6 L1556.4 1029.2 L1556.7 957.2 L1557.0 959.0 L1557.3 1036.0 L1557.6 1055.5 L1557.9 1039.7 L1558.2 1051.3 L1558.6 1005.9 L1558.9 1052.2 L1559.2 1032.4 L1559.5 928.0 L1559.8 1070.7 L1560.1 1034.7 L1560.4 941.2 L1560.8 1007.4 L1561.1 1011.7 L1561.4 962.2 L1561.7 986.4 L1562.0 1060.0 L1562.3 993.6 L1562.6 1023.7 L1562.9 1016.1 L1563.2 1006.7 L1563.6 1030.4 L1563.9 1072.4 L1564.2 1062.0 L1564.5 1024.4 L1564.8 1112.3 L1565.1 1064.1 L1565.4 1023.1 L1565.8 1114.4 L1566.1 1159.3 L1566.4 1109.9 L1566.7 1169.7 L1567.0 1166.7 L1567.3 1126.2 L1567.6 1176.4 L1567.9 1119.9 L1568.2 1166.1 L1568.6 1099.8 L1568.9 1159.0 L1569.2 1172.5 L1569.5 1215.6 L1569.8 1159.7 L1570.1 1159.6 L1570.4 1247.5 L1570.8 1253.9 L1571.1 1172.9 L1571.4 1157.7 L1571.7 1066.2 L1572.0 1125.2 L1572.3 1169.9 L1572.6 1186.0 L1572.9 1114.7 L1573.2 892.6 L1573.6 1047.5 L1573.9 1083.0 L1574.2 1114.5 L1574.5 1064.5 L1574.8 1064.7 L1575.1 1035.5 L1575.4 1133.8 L1575.8 1072.4 L1576.1 1074.7 L1576.4 1104.3 L1576.7 1031.7 L1577.0 1113.4 L1577.3 1008.6 L1577.6 1059.8 L1577.9 1128.6 L1578.2 997.6 L1578.6 1021.9 L1578.9 1259.0 L1579.2 1143.5 L1579.5 1134.0 L1579.8 1130.5 L1580.1 1057.5 L1580.4 1074.8 L1580.8 887.6 L1581.1 1106.7 L1581.4 1072.3 L1581.7 1034.4 L1582.0 1007.5 L1582.3 1056.6 L1582.6 1033.9 L1582.9 983.4 L1583.2 1026.0 L1583.6 993.3 L1583.9 1084.9 L1584.2 957.6 L1584.5 976.4 L1584.8 1004.9 L1585.1 946.4 L1585.4 962.4 L1585.8 952.6 L1586.1 982.9 L1586.4 1006.3 L1586.7 1129.9 L1587.0 1100.4 L1587.3 975.4 L1587.6 1004.0 L1587.9 1107.1 L1588.2 1035.2 L1588.6 1082.5 L1588.9 1073.5 L1589.2 1143.8 L1589.5 1154.4 L1589.8 1129.3 L1590.1 1184.0 L1590.4 1090.6 L1590.8 1088.9 L1591.1 1076.1 L1591.4 989.9 L1591.7 896.0 L1592.0 986.0 L1592.3 1052.5 L1592.6 1069.7 L1592.9 1065.4 L1593.2 984.1 L1593.6 1068.3 L1593.9 960.6 L1594.2 1035.0 L1594.5 1013.5 L1594.8 1013.3 L1595.1 1061.5 L1595.4 1075.6 L1595.8 1000.9 L1596.1 1039.6 L1596.4 1051.8 L1596.7 1089.6 L1597.0 992.2 L1597.3 1019.1 L1597.6 1170.6 L1597.9 1136.0 L1598.2 1110.9 L1598.6 1235.3 L1598.9 1113.3 L1599.2 1066.4 L1599.5 1098.8 L1599.8 1106.0 L1600.1 1080.1 L1600.4 1069.6 L1600.8 1065.6 L1601.1 1177.1 L1601.4 1121.3 L1601.7 1025.1 L1602.0 1055.6 L1602.3 1085.9 L1602.6 1047.5 L1602.9 1103.2 L1603.2 1170.7 L1603.6 971.7 L1603.9 1130.9 L1604.2 1082.2 L1604.5 1016.9 L1604.8 1043.7 L1605.1 958.0 L1605.4 1011.1 L1605.8 1144.5 L1606.1 1010.6 L1606.4 959.7 L1606.7 1070.8 L1607.0 1113.9 L1607.3 1117.7 L1607.6 974.3 L1607.9 1004.4 L1608.2 1027.1 L1608.6 1058.9 L1608.9 986.8 L1609.2 1060.3 L1609.5 1080.4 L1609.8 1017.7 L1610.1 1047.7 L1610.4 1094.4 L1610.8 1011.8 L1611.1 1077.7 L1611.4 1006.8 L1611.7 1033.6 L1612.0 1033.8 L1612.3 1027.4 L1612.6 1066.4 L1612.9 1066.9 L1613.2 1060.2 L1613.6 1075.2 L1613.9 1100.4 L1614.2 1026.3 L1614.5 1037.7 L1614.8 1085.7 L1615.1 1123.4 L1615.4 1055.5 L1615.8 1128.3 L1616.1 1082.4 L1616.4 1093.1 L1616.7 1131.0 L1617.0 1103.7 L1617.3 1077.8 L1617.6 1117.5 L1617.9 1090.8 L1618.2 1265.8 L1618.6 945.2 L1618.9 1110.8 L1619.2 1006.0 L1619.5 1024.5 L1619.8 1025.9 L1620.1 928.5 L1620.4 1029.5 L1620.8 787.5 L1621.1 963.4 L1621.4 991.8 L1621.7 1094.6 L1622.0 944.5 L1622.3 950.5 L1622.6 1000.9 L1622.9 1000.8 L1623.2 967.8 L1623.6 1017.2 L1623.9 988.1 L1624.2 1067.7 L1624.5 1064.3 L1624.8 1083.5 L1625.1 1090.3 L1625.4 983.4 L1625.8 967.7 L1626.1 1052.6 L1626.4 1025.0 L1626.7 1016.0 L1627.0 918.1 L1627.3 1022.3 L1627.6 1003.4 L1627.9 936.9 L1628.2 1001.9 L1628.6 959.2 L1628.9 994.0 L1629.2 1003.7 L1629.5 965.7 L1629.8 999.9 L1630.1 972.8 L1630.4 1027.0 L1630.8 1004.8 L1631.1 1113.4 L1631.4 981.9 L1631.7 992.0 L1632.0 931.5 L1632.3 935.7 L1632.6 975.0 L1632.9 1013.0 L1633.2 912.7 L1633.6 935.2 L1633.9 1041.4 L1634.2 1053.6 L1634.5 965.9 L1634.8 1006.7 L1635.1 912.0 L1635.4 1047.8 L1635.8 961.0 L1636.1 1006.7 L1636.4 950.5 L1636.7 932.2 L1637.0 907.9 L1637.3 924.4 L1637.6 897.7 L1637.9 979.4 L1638.2 992.3 L1638.6 963.4 L1638.9 976.0 L1639.2 1026.2 L1639.5 948.7 L1639.8 958.3 L1640.1 1021.3 L1640.4 1027.7 L1640.8 1001.3 L1641.1 1040.8 L1641.4 1051.6 L1641.7 1024.8 L1642.0 1041.4 L1642.3 1052.4 L1642.6 1036.4 L1642.9 1043.4 L1643.2 1066.0 L1643.6 980.1 L1643.9 1042.4 L1644.2 1066.8 L1644.5 1079.4 L1644.8 1096.9 L1645.1 1047.3 L1645.4 1121.2 L1645.8 1129.9 L1646.1 1094.5 L1646.4 1057.0 L1646.7 1094.4 L1647.0 1109.2 L1647.3 1178.8 L1647.6 1119.9 L1647.9 1166.7 L1648.2 1115.8 L1648.6 1199.4 L1648.9 1129.1 L1649.2 1139.2 L1649.5 1209.8 L1649.8 1158.5 L1650.1 1044.1 L1650.4 1131.0 L1650.8 1190.5 L1651.1 1015.3 L1651.4 1126.2 L1651.7 1024.1 L1652.0 1051.9 L1652.3 995.1 L1652.6 1124.1 L1652.9 1121.1 L1653.2 1106.7 L1653.6 1187.0 L1653.9 1045.4 L1654.2 1058.2 L1654.5 1103.1 L1654.8 994.3 L1655.1 1065.0 L1655.4 1000.0 L1655.8 1109.3 L1656.1 1113.3 L1656.4 1086.0 L1656.7 1034.7 L1657.0 987.8 L1657.3 1046.8 L1657.6 1127.2 L1657.9 1038.7 L1658.2 1093.9 L1658.6 1072.8 L1658.9 1161.3 L1659.2 1045.1 L1659.5 1267.5 L1659.8 1033.4 L1660.1 1054.2 L1660.4 1097.1 L1660.8 1035.4 L1661.1 962.7 L1661.4 987.6 L1661.7 991.9 L1662.0 960.8 L1662.3 980.6 L1662.6 945.1 L1662.9 908.8 L1663.2 918.3 L1663.6 724.6 L1663.9 851.1 L1664.2 782.8 L1664.5 835.0 L1664.8 867.5 L1665.1 837.4 L1665.4 944.3 L1665.8 1078.9 L1666.1 1083.0 L1666.4 1284.4 L1666.7 1099.0 L1667.0 1043.1 L1667.3 1129.3 L1667.6 1094.7 L1667.9 1142.0 L1668.2 1091.2 L1668.6 1167.7 L1668.9 1168.2 L1669.2 1178.2 L1669.5 1092.4 L1669.8 1073.0 L1670.1 1152.3 L1670.4 1117.0 L1670.8 1141.5 L1671.1 1179.1 L1671.4 1066.3 L1671.7 1131.4 L1672.0 1107.6 L1672.3 1113.0 L1672.6 1147.1 L1672.9 1162.5 L1673.2 1205.2 L1673.6 1187.8 L1673.9 1225.5 L1674.2 1151.7 L1674.5 1039.8 L1674.8 1133.6 L1675.1 1063.9 L1675.4 1114.9 L1675.8 1117.2 L1676.1 1095.7 L1676.4 1178.3 L1676.7 1046.9 L1677.0 1040.0 L1677.3 1091.9 L1677.6 1086.2 L1677.9 1099.5 L1678.2 1053.8 L1678.6 1060.9 L1678.9 1079.2 L1679.2 1051.6 L1679.5 1052.2 L1679.8 1002.0 L1680.1 919.4 L1680.4 1005.0 L1680.8 1043.1 L1681.1 959.1 L1681.4 972.3 L1681.7 1060.8 L1682.0 1030.0 L1682.3 1010.7 L1682.6 976.8 L1682.9 955.9 L1683.2 982.5 L1683.6 889.5 L1683.9 940.5 L1684.2 1043.1 L1684.5 990.0 L1684.8 900.0 L1685.1 962.8 L1685.4 970.2 L1685.8 902.0 L1686.1 938.5 L1686.4 844.5 L1686.7 772.2 L1687.0 860.5 L1687.3 945.1 L1687.6 861.0 L1687.9 837.7 L1688.2 826.4 L1688.6 849.9 L1688.9 927.7 L1689.2 872.0 L1689.5 833.9 L1689.8 836.5 L1690.1 894.6 L1690.4 785.4 L1690.8 781.5 L1691.1 825.4 L1691.4 809.5 L1691.7 845.3 L1692.0 882.0 L1692.3 798.1 L1692.6 933.6 L1692.9 898.2 L1693.2 850.1 L1693.6 938.1 L1693.9 921.4 L1694.2 983.9 L1694.5 873.7 L1694.8 901.4 L1695.1 1075.8 L1695.4 932.2 L1695.8 982.0 L1696.1 1022.1 L1696.4 1040.3 L1696.7 1007.7 L1697.0 914.8 L1697.3 965.5 L1697.6 964.7 L1697.9 993.2 L1698.2 969.2 L1698.6 885.5 L1698.9 866.4 L1699.2 981.1 L1699.5 848.4 L1699.8 932.7 L1700.1 936.1 L1700.4 843.3 L1700.8 886.7 L1701.1 856.3 L1701.4 971.4 L1701.7 856.7 L1702.0 929.1 L1702.3 892.8 L1702.6 963.4 L1702.9 933.0 L1703.2 944.0 L1703.6 918.8 L1703.9 984.4 L1704.2 888.4 L1704.5 964.2 L1704.8 940.8 L1705.1 933.2 L1705.4 931.5 L1705.8 837.9 L1706.1 979.7 L1706.4 964.5 L1706.7 1022.1 L1707.0 964.6 L1707.3 913.1 L1707.6 990.9 L1707.9 900.9 L1708.2 916.9 L1708.6 969.8 L1708.9 892.6 L1709.2 1015.1 L1709.5 969.1 L1709.8 927.1 L1710.1 887.9 L1710.4 995.4 L1710.8 931.6 L1711.1 1032.3 L1711.4 888.5 L1711.7 906.4 L1712.0 880.5 L1712.3 854.0 L1712.6 899.4 L1712.9 891.1 L1713.2 999.8 L1713.6 875.8 L1713.9 914.3 L1714.2 890.7 L1714.5 827.1 L1714.8 858.1 L1715.1 966.3 L1715.4 913.8 L1715.8 918.2 L1716.1 827.6 L1716.4 941.8 L1716.7 868.4 L1717.0 824.7 L1717.3 837.0 L1717.6 866.3 L1717.9 886.3 L1718.2 892.2 L1718.6 945.0 L1718.9 921.7 L1719.2 831.7 L1719.5 936.0 L1719.8 791.8 L1720.1 935.1 L1720.4 925.5 L1720.8 898.0 L1721.1 1002.6 L1721.4 1116.5 L1721.7 970.4 L1722.0 930.9 L1722.3 1004.6 L1722.6 948.5 L1722.9 925.0 L1723.2 968.8 L1723.6 1020.4 L1723.9 953.8 L1724.2 1059.8 L1724.5 947.9 L1724.8 998.2 L1725.1 965.4 L1725.4 982.3 L1725.8 883.9 L1726.1 930.2 L1726.4 936.5 L1726.7 818.2 L1727.0 823.5 L1727.3 776.9 L1727.6 828.2 L1727.9 800.2 L1728.2 900.7 L1728.6 779.3 L1728.9 811.4 L1729.2 788.4 L1729.5 816.7 L1729.8 932.2 L1730.1 868.4 L1730.4 897.3 L1730.8 990.7 L1731.1 972.2 L1731.4 952.6 L1731.7 952.7 L1732.0 932.7 L1732.3 1029.9 L1732.6 960.6 L1732.9 936.1 L1733.2 949.9 L1733.6 957.4 L1733.9 911.7 L1734.2 767.1 L1734.5 860.7 L1734.8 926.7 L1735.1 877.6 L1735.4 993.3 L1735.8 910.6 L1736.1 928.3 L1736.4 930.1 L1736.7 859.1 L1737.0 871.4 L1737.3 988.5 L1737.6 962.9 L1737.9 968.9 L1738.2 863.5 L1738.6 945.4 L1738.9 894.0 L1739.2 957.0 L1739.5 897.1 L1739.8 880.4 L1740.1 874.3 L1740.4 907.4 L1740.8 913.0 L1741.1 794.6 L1741.4 843.0 L1741.7 810.6 L1742.0 811.2 L1742.3 881.6 L1742.6 836.1 L1742.9 773.7 L1743.2 858.6 L1743.6 880.3 L1743.9 973.7 L1744.2 855.9 L1744.5 868.3 L1744.8 988.9 L1745.1 917.6 L1745.4 871.8 L1745.8 937.9 L1746.1 894.2 L1746.4 887.2 L1746.7 850.3 L1747.0 1002.0 L1747.3 935.5 L1747.6 891.7 L1747.9 836.1 L1748.2 862.7 L1748.6 767.4 L1748.9 966.8 L1749.2 826.7 L1749.5 882.2 L1749.8 894.9 L1750.1 909.3 L1750.4 868.0 L1750.8 846.7 L1751.1 937.2 L1751.4 965.3 L1751.7 844.8 L1752.0 918.7 L1752.3 925.9 L1752.6 877.4 L1752.9 928.8 L1753.2 926.2 L1753.6 865.0 L1753.9 901.2 L1754.2 890.0 L1754.5 879.8 L1754.8 915.7 L1755.1 918.7 L1755.4 959.4 L1755.8 775.4 L1756.1 823.7 L1756.4 848.5 L1756.7 875.4 L1757.0 910.7 L1757.3 770.3 L1757.6 870.3 L1757.9 772.5 L1758.2 938.8 L1758.6 885.5 L1758.9 859.8 L1759.2 844.1 L1759.5 862.9 L1759.8 892.0 L1760.1 891.6 L1760.4 850.8 L1760.8 873.4 L1761.1 941.7 L1761.4 931.9 L1761.7 849.0 L1762.0 818.5 L1762.3 822.6 L1762.6 926.8 L1762.9 913.1 L1763.2 789.7 L1763.6 823.7 L1763.9 867.9 L1764.2 814.0 L1764.5 806.6 L1764.8 728.2 L1765.1 811.4 L1765.4 847.5 L1765.8 780.6 L1766.1 655.0 L1766.4 810.5 L1766.7 820.6 L1767.0 749.2 L1767.3 700.9 L1767.6 782.7 L1767.9 715.6 L1768.2 806.6 L1768.6 788.8 L1768.9 751.0 L1769.2 772.8 L1769.5 709.3 L1769.8 750.5 L1770.1 697.3 L1770.4 838.2 L1770.8 741.5 L1771.1 763.8 L1771.4 751.7 L1771.7 825.2 L1772.0 897.7 L1772.3 861.0 L1772.6 843.1 L1772.9 865.3 L1773.2 937.6 L1773.6 818.8 L1773.9 834.4 L1774.2 835.5 L1774.5 872.4 L1774.8 818.6 L1775.1 828.5 L1775.4 839.8 L1775.8 864.5 L1776.1 875.1 L1776.4 777.5 L1776.7 776.6 L1777.0 596.0 L1777.3 815.1 L1777.6 787.6 L1777.9 813.8 L1778.2 825.5 L1778.6 726.2 L1778.9 817.4 L1779.2 777.4 L1779.5 822.4 L1779.8 808.2 L1780.1 805.8 L1780.4 858.5 L1780.8 896.5 L1781.1 837.5 L1781.4 895.0 L1781.7 948.3 L1782.0 885.0 L1782.3 966.4 L1782.6 980.4 L1782.9 906.5 L1783.2 931.5 L1783.6 973.2 L1783.9 984.8 L1784.2 1082.6 L1784.5 1211.5 L1784.8 1079.6 L1785.1 965.1 L1785.4 932.2 L1785.8 960.0 L1786.1 923.6 L1786.4 939.4 L1786.7 942.4 L1787.0 856.5 L1787.3 878.7 L1787.6 930.1 L1787.9 835.6 L1788.2 949.7 L1788.6 839.0 L1788.9 792.8 L1789.2 915.1 L1789.5 779.0 L1789.8 857.9 L1790.1 876.1 L1790.4 883.9 L1790.8 817.8 L1791.1 764.1 L1791.4 878.1 L1791.7 847.4 L1792.0 788.1 L1792.3 880.0 L1792.6 835.0 L1792.9 901.2 L1793.2 887.0 L1793.6 943.4 L1793.9 926.9 L1794.2 870.4 L1794.5 958.9 L1794.8 954.2 L1795.1 1018.3 L1795.4 931.3 L1795.8 904.7 L1796.1 914.8 L1796.4 872.9 L1796.7 903.0 L1797.0 856.4 L1797.3 917.8 L1797.6 837.8 L1797.9 787.0 L1798.2 803.7 L1798.6 917.3 L1798.9 871.8 L1799.2 756.8 L1799.5 802.8 L1799.8 789.5 L1800.1 899.3 L1800.4 797.0 L1800.8 784.8 L1801.1 790.6 L1801.4 693.0 L1801.7 759.1 L1802.0 745.5 L1802.3 743.4 L1802.6 687.0 L1802.9 781.9 L1803.2 780.8 L1803.6 736.7 L1803.9 772.6 L1804.2 786.4 L1804.5 778.6 L1804.8 737.4 L1805.1 649.3 L1805.4 649.2 L1805.8 741.4 L1806.1 697.5 L1806.4 768.9 L1806.7 691.9 L1807.0 753.2 L1807.3 808.4 L1807.6 754.4 L1807.9 675.0 L1808.2 715.8 L1808.6 797.1 L1808.9 751.0 L1809.2 657.6 L1809.5 772.8 L1809.8 705.2 L1810.1 800.7 L1810.4 780.7 L1810.8 800.0 L1811.1 741.5 L1811.4 728.7 L1811.7 676.6 L1812.0 679.7 L1812.3 759.1 L1812.6 726.8 L1812.9 743.7 L1813.2 768.7 L1813.6 656.4 L1813.9 738.0 L1814.2 799.4 L1814.5 812.1 L1814.8 791.5 L1815.1 862.1 L1815.4 723.7 L1815.8 720.1 L1816.1 703.9 L1816.4 703.5 L1816.7 685.3 L1817.0 649.3 L1817.3 643.0 L1817.6 674.9 L1817.9 632.9 L1818.2 658.9 L1818.6 669.9 L1818.9 647.8 L1819.2 648.3 L1819.5 683.9 L1819.8 566.3 L1820.1 620.0 L1820.4 609.8 L1820.8 715.4 L1821.1 662.1 L1821.4 670.1 L1821.7 648.9 L1822.0 507.0 L1822.3 677.6 L1822.6 578.6 L1822.9 731.0 L1823.2 611.4 L1823.6 667.4 L1823.9 754.5 L1824.2 671.7 L1824.5 743.8 L1824.8 749.2 L1825.1 682.4 L1825.4 782.4 L1825.8 646.3 L1826.1 735.2 L1826.4 690.2 L1826.7 710.7 L1827.0 730.7 L1827.3 692.2 L1827.6 802.7 L1827.9 765.0 L1828.2 792.8 L1828.6 745.1 L1828.9 699.0 L1829.2 691.0 L1829.5 741.1 L1829.8 633.6 L1830.1 810.4 L1830.4 640.3 L1830.8 737.5 L1831.1 657.2 L1831.4 712.5 L1831.7 686.2 L1832.0 652.3 L1832.3 661.3 L1832.6 670.9 L1832.9 680.9 L1833.2 662.1 L1833.6 540.7 L1833.9 596.6 L1834.2 669.5 L1834.5 685.4 L1834.8 613.4 L1835.1 627.0 L1835.4 609.7 L1835.8 520.9 L1836.1 511.2 L1836.4 545.8 L1836.7 524.8 L1837.0 559.6 L1837.3 512.6 L1837.6 441.8 L1837.9 480.6 L1838.2 466.3 L1838.6 640.4 L1838.9 570.0 L1839.2 515.4 L1839.5 491.2 L1839.8 575.6 L1840.1 513.2 L1840.4 437.2 L1840.8 484.1 L1841.1 537.7 L1841.4 535.5 L1841.7 534.1 L1842.0 425.3 L1842.3 550.7 L1842.6 617.4 L1842.9 600.7 L1843.2 639.4 L1843.6 557.5 L1843.9 604.5 L1844.2 598.5 L1844.5 644.5 L1844.8 700.8 L1845.1 625.9 L1845.4 659.8 L1845.8 586.0 L1846.1 694.7 L1846.4 671.7 L1846.7 704.0 L1847.0 695.5 L1847.3 726.5 L1847.6 721.3 L1847.9 641.1 L1848.2 696.5 L1848.6 703.8 L1848.9 745.5 L1849.2 634.3 L1849.5 678.9 L1849.8 765.0 L1850.1 658.1 L1850.4 617.6 L1850.8 605.1 L1851.1 705.9 L1851.4 639.8 L1851.7 605.0 L1852.0 644.4 L1852.3 599.7 L1852.6 646.5 L1852.9 664.9 L1853.2 668.2 L1853.6 645.7 L1853.9 695.6 L1854.2 671.4 L1854.5 684.4 L1854.8 673.4 L1855.1 663.3 L1855.4 704.9 L1855.8 704.8 L1856.1 681.7 L1856.4 621.6 L1856.7 706.3 L1857.0 579.6 L1857.3 730.1 L1857.6 677.6 L1857.9 713.0 L1858.2 718.4 L1858.6 539.3 L1858.9 623.8 L1859.2 697.1 L1859.5 715.0 L1859.8 590.1 L1860.1 631.9 L1860.4 717.3 L1860.8 652.0 L1861.1 685.1 L1861.4 681.8 L1861.7 727.9 L1862.0 714.8 L1862.3 714.7 L1862.6 698.0 L1862.9 671.3 L1863.2 753.4 L1863.6 642.2 L1863.9 598.6 L1864.2 604.1 L1864.5 724.4 L1864.8 601.8 L1865.1 704.3 L1865.4 595.9 L1865.8 681.8 L1866.1 679.8 L1866.4 654.1 L1866.7 693.8 L1867.0 785.5 L1867.3 750.9 L1867.6 788.5 L1867.9 762.5 L1868.2 781.3 L1868.6 767.9 L1868.9 703.5 L1869.2 803.1 L1869.5 784.6 L1869.8 714.0 L1870.1 710.9 L1870.4 707.6 L1870.8 742.2 L1871.1 605.6 L1871.4 728.9 L1871.7 602.5 L1872.0 617.9 L1872.3 657.2 L1872.6 576.7 L1872.9 659.2 L1873.2 623.1 L1873.6 641.3 L1873.9 583.0 L1874.2 492.5 L1874.5 619.7 L1874.8 584.7 L1875.1 628.6 L1875.4 735.3 L1875.8 668.8 L1876.1 638.3 L1876.4 652.9 L1876.7 705.6 L1877.0 603.7 L1877.3 540.5 L1877.6 642.9 L1877.9 671.6 L1878.2 683.1 L1878.6 672.6 L1878.9 625.3 L1879.2 687.6 L1879.5 790.0 L1879.8 677.7 L1880.1 720.9 L1880.4 643.8 L1880.8 674.6 L1881.1 686.2 L1881.4 727.6 L1881.7 698.8 L1882.0 676.8 L1882.3 702.1 L1882.6 652.8 L1882.9 761.2 L1883.2 689.2 L1883.6 685.3 L1883.9 658.9 L1884.2 715.2 L1884.5 705.7 L1884.8 668.5 L1885.1 689.6 L1885.4 590.5 L1885.8 698.5 L1886.1 700.9 L1886.4 854.0 L1886.7 665.8 L1887.0 748.3 L1887.3 649.3 L1887.6 727.0 L1887.9 569.1 L1888.2 661.1 L1888.6 593.8 L1888.9 581.5 L1889.2 643.8 L1889.5 642.3 L1889.8 531.2 L1890.1 535.5 L1890.4 629.7 L1890.8 578.1 L1891.1 633.6 L1891.4 597.9 L1891.7 641.0 L1892.0 634.3 L1892.3 528.2 L1892.6 604.7 L1892.9 573.8 L1893.2 569.3 L1893.6 581.4 L1893.9 589.2 L1894.2 470.5 L1894.5 575.1 L1894.8 535.7 L1895.1 608.6 L1895.4 648.3 L1895.8 554.9 L1896.1 551.6 L1896.4 582.0 L1896.7 544.1 L1897.0 634.4 L1897.3 609.5 L1897.6 575.7 L1897.9 534.2 L1898.2 647.1 L1898.6 610.2 L1898.9 459.8 L1899.2 509.9 L1899.5 625.2 L1899.8 578.8 L1900.1 565.7 L1900.4 615.5 L1900.8 679.3 L1901.1 589.2 L1901.4 617.4 L1901.7 573.6 L1902.0 668.8 L1902.3 633.4 L1902.6 697.4 L1902.9 728.0 L1903.2 824.9 L1903.6 722.0 L1903.9 727.4 L1904.2 667.4 L1904.5 639.7 L1904.8 714.1 L1905.1 666.0 L1905.4 572.5 L1905.8 660.7 L1906.1 711.6 L1906.4 539.8 L1906.7 621.2 L1907.0 563.8 L1907.3 676.9 L1907.6 656.1 L1907.9 632.8 L1908.2 668.6 L1908.6 577.7 L1908.9 636.5 L1909.2 608.4 L1909.5 571.5 L1909.8 708.1 L1910.1 587.7 L1910.4 580.8 L1910.8 561.8 L1911.1 623.3 L1911.4 558.3 L1911.7 599.0 L1912.0 548.4 L1912.3 509.5 L1912.6 471.0 L1912.9 467.7 L1913.2 401.6 L1913.6 479.6 L1913.9 536.3 L1914.2 540.4 L1914.5 549.0 L1914.8 466.0 L1915.1 440.6 L1915.4 378.1 L1915.8 516.3 L1916.1 569.3 L1916.4 735.9 L1916.7 579.9 L1917.0 532.7 L1917.3 604.8 L1917.6 541.8 L1917.9 687.2 L1918.2 594.5 L1918.6 599.2 L1918.9 569.1 L1919.2 573.7 L1919.5 629.9 L1919.8 683.6 L1920.1 618.7 L1920.4 598.4 L1920.8 564.0 L1921.1 580.2 L1921.4 670.5 L1921.7 538.3 L1922.0 573.8 L1922.3 555.3 L1922.6 578.4 L1922.9 521.4 L1923.2 467.4 L1923.6 512.1 L1923.9 503.1 L1924.2 513.6 L1924.5 453.6 L1924.8 548.1 L1925.1 464.5 L1925.4 613.2 L1925.8 591.2 L1926.1 582.1 L1926.4 569.9 L1926.7 548.5 L1927.0 634.7 L1927.3 581.3 L1927.6 588.7 L1927.9 568.9 L1928.2 549.5 L1928.6 592.4 L1928.9 519.7 L1929.2 507.3 L1929.5 592.9 L1929.8 553.0 L1930.1 601.5 L1930.4 576.0 L1930.8 697.3 L1931.1 573.6 L1931.4 640.2 L1931.7 674.2 L1932.0 528.8 L1932.3 686.6 L1932.6 630.9 L1932.9 668.1 L1933.2 682.6 L1933.6 588.0 L1933.9 596.5 L1934.2 685.0 L1934.5 625.7 L1934.8 580.6 L1935.1 671.2 L1935.4 579.6 L1935.8 661.4 L1936.1 662.9 L1936.4 612.9 L1936.7 659.5 L1937.0 595.7 L1937.3 561.0 L1937.6 563.2 L1937.9 577.2 L1938.2 587.2 L1938.6 576.1 L1938.9 667.3 L1939.2 550.4 L1939.5 560.0 L1939.8 617.1 L1940.1 556.0 L1940.4 625.7 L1940.8 637.7 L1941.1 545.5 L1941.4 555.1 L1941.7 591.3 L1942.0 613.0 L1942.3 576.9 L1942.6 566.5 L1942.9 525.5 L1943.2 597.5 L1943.6 643.9 L1943.9 625.9 L1944.2 589.6 L1944.5 723.2 L1944.8 573.7 L1945.1 633.2 L1945.4 618.7 L1945.8 588.2 L1946.1 668.7 L1946.4 621.4 L1946.7 615.9 L1947.0 612.5 L1947.3 660.9 L1947.6 655.0 L1947.9 647.4 L1948.2 625.2 L1948.6 689.7 L1948.9 636.9 L1949.2 561.4 L1949.5 568.1 L1949.8 622.0 L1950.1 559.5 L1950.4 592.9 L1950.8 576.0 L1951.1 478.5 L1951.4 581.1 L1951.7 416.2 L1952.0 514.6 L1952.3 544.5 L1952.6 498.7 L1952.9 560.5 L1953.2 444.9 L1953.6 501.3 L1953.9 466.6 L1954.2 467.9 L1954.5 561.2 L1954.8 535.0 L1955.1 473.0 L1955.4 449.6 L1955.8 512.8 L1956.1 429.7 L1956.4 441.2 L1956.7 439.8 L1957.0 500.4 L1957.3 499.4 L1957.6 447.9 L1957.9 485.6 L1958.2 529.3 L1958.6 539.1 L1958.9 579.0 L1959.2 546.3 L1959.5 562.5 L1959.8 538.2 L1960.1 553.8 L1960.4 628.8 L1960.8 587.6 L1961.1 598.5 L1961.4 541.2 L1961.7 485.5 L1962.0 525.3 L1962.3 551.3 L1962.6 611.2 L1962.9 568.4 L1963.2 537.6 L1963.6 554.9 L1963.9 562.5 L1964.2 554.7 L1964.5 576.4 L1964.8 539.0 L1965.1 480.3 L1965.4 447.0 L1965.8 460.6 L1966.1 541.6 L1966.4 564.3 L1966.7 464.2 L1967.0 566.5 L1967.3 355.6 L1967.6 480.4 L1967.9 486.9 L1968.2 499.0 L1968.6 449.8 L1968.9 476.4 L1969.2 468.3 L1969.5 365.4 L1969.8 461.0 L1970.1 546.5 L1970.4 514.0 L1970.8 457.2 L1971.1 493.1 L1971.4 519.5 L1971.7 474.3 L1972.0 529.4 L1972.3 494.9 L1972.6 452.5 L1972.9 511.4 L1973.2 432.3 L1973.6 512.0 L1973.9 477.8 L1974.2 591.8 L1974.5 465.2 L1974.8 558.0 L1975.1 589.4 L1975.4 583.5 L1975.8 496.4 L1976.1 636.0 L1976.4 590.6 L1976.7 521.4 L1977.0 508.6 L1977.3 530.2 L1977.6 497.0 L1977.9 493.0 L1978.2 469.9 L1978.6 470.1 L1978.9 371.0 L1979.2 444.4 L1979.5 483.0 L1979.8 430.6 L1980.1 444.8 L1980.4 502.6 L1980.8 425.1 L1981.1 496.2 L1981.4 501.1 L1981.7 499.0 L1982.0 492.4 L1982.3 421.7 L1982.6 414.3 L1982.9 510.8 L1983.2 476.8 L1983.6 569.4 L1983.9 531.9 L1984.2 508.1 L1984.5 494.0 L1984.8 484.1 L1985.1 500.5 L1985.4 484.7 L1985.8 499.2 L1986.1 531.8 L1986.4 528.4 L1986.7 526.1 L1987.0 453.2 L1987.3 455.6 L1987.6 481.8 L1987.9 438.0 L1988.2 474.3 L1988.6 494.8 L1988.9 459.2 L1989.2 498.0 L1989.5 490.1 L1989.8 443.9 L1990.1 506.7 L1990.4 448.2 L1990.8 501.5 L1991.1 430.8 L1991.4 457.2 L1991.7 509.6 L1992.0 428.9 L1992.3 495.1 L1992.6 612.4 L1992.9 505.7 L1993.2 396.8 L1993.6 509.4 L1993.9 527.3 L1994.2 463.9 L1994.5 523.0 L1994.8 517.9 L1995.1 368.6 L1995.4 468.2 L1995.8 463.0 L1996.1 428.0 L1996.4 426.2 L1996.7 467.9 L1997.0 556.1 L1997.3 432.7 L1997.6 492.7 L1997.9 407.6 L1998.2 474.4 L1998.6 484.3 L1998.9 391.9 L1999.2 397.2 L1999.5 504.1 L1999.8 491.3 L2000.1 505.5 L2000.4 552.5 L2000.8 474.9 L2001.1 543.9 L2001.4 501.6 L2001.7 470.1 L2002.0 487.4 L2002.3 535.6 L2002.6 475.0 L2002.9 489.0 L2003.2 526.8 L2003.6 488.5 L2003.9 527.1 L2004.2 527.8 L2004.5 478.7 L2004.8 477.1 L2005.1 445.1 L2005.4 420.5 L2005.8 499.3 L2006.1 504.4 L2006.4 427.7 L2006.7 511.4 L2007.0 447.4 L2007.3 597.9 L2007.6 389.8 L2007.9 302.5 L2008.2 324.9 L2008.6 440.0 L2008.9 434.4 L2009.2 462.1 L2009.5 336.4 L2009.8 450.2 L2010.1 450.5 L2010.4 355.4 L2010.8 420.4 L2011.1 400.0 L2011.4 330.4 L2011.7 415.9 L2012.0 387.9 L2012.3 327.4 L2012.6 410.9 L2012.9 393.4 L2013.2 429.5 L2013.6 425.3 L2013.9 389.1 L2014.2 367.0 L2014.5 475.4 L2014.8 489.0 L2015.1 395.3 L2015.4 470.6 L2015.8 452.6 L2016.1 438.4 L2016.4 468.3 L2016.7 426.0 L2017.0 539.8 L2017.3 388.3 L2017.6 421.3 L2017.9 317.8 L2018.2 404.3 L2018.6 339.6 L2018.9 314.2 L2019.2 354.4 L2019.5 387.2 L2019.8 328.1 L2020.1 361.7 L2020.4 337.8 L2020.8 360.5 L2021.1 310.3 L2021.4 375.7 L2021.7 316.5 L2022.0 354.9 L2022.3 353.5 L2022.6 343.7 L2022.9 389.1 L2023.2 311.3 L2023.6 336.5 L2023.9 461.9 L2024.2 421.9 L2024.5 385.4 L2024.8 378.9 L2025.1 411.8 L2025.4 343.8 L2025.8 312.4 L2026.1 360.9 L2026.4 334.3 L2026.7 395.7 L2027.0 292.7 L2027.3 381.1 L2027.6 385.9 L2027.9 443.7 L2028.2 420.0 L2028.6 400.4 L2028.9 376.5 L2029.2 508.2 L2029.5 432.8 L2029.8 453.1 L2030.1 443.4 L2030.4 457.4 L2030.8 429.3 L2031.1 514.8 L2031.4 524.1 L2031.7 449.2 L2032.0 498.6 L2032.3 441.7 L2032.6 401.3 L2032.9 440.4 L2033.2 496.0 L2033.6 441.7 L2033.9 348.8 L2034.2 447.8 L2034.5 425.3 L2034.8 401.8 L2035.1 429.2 L2035.4 354.4 L2035.8 401.4 L2036.1 420.5 L2036.4 372.5 L2036.7 360.5 L2037.0 431.0 L2037.3 508.5 L2037.6 330.0 L2037.9 404.1 L2038.2 344.9 L2038.6 416.6 L2038.9 371.2 L2039.2 435.5 L2039.5 394.6 L2039.8 426.2 L2040.1 406.2 L2040.4 525.0 L2040.8 461.3 L2041.1 474.9 L2041.4 542.3 L2041.7 472.8 L2042.0 441.3 L2042.3 469.0 L2042.6 402.1 L2042.9 507.7 L2043.2 444.0 L2043.6 428.7 L2043.9 466.3 L2044.2 450.8 L2044.5 479.9 L2044.8 384.4 L2045.1 391.2 L2045.4 365.7 L2045.8 312.4 L2046.1 386.7 L2046.4 341.9 L2046.7 416.7 L2047.0 303.2 L2047.3 425.8 L2047.6 442.1 L2047.9 352.3 L2048.2 452.9 L2048.6 411.6 L2048.9 445.3 L2049.2 416.8 L2049.5 341.7 L2049.8 392.6 L2050.1 520.5 L2050.4 474.7 L2050.8 437.2 L2051.1 458.1 L2051.4 467.4 L2051.7 572.4 L2052.0 483.5 L2052.3 457.6 L2052.6 524.3 L2052.9 511.1 L2053.2 448.7 L2053.6 475.1 L2053.9 441.9 L2054.2 490.7 L2054.5 418.6 L2054.8 511.1 L2055.1 528.0 L2055.4 524.6 L2055.8 491.7 L2056.1 455.2 L2056.4 417.0 L2056.7 415.4 L2057.0 457.6 L2057.3 459.9 L2057.6 526.4 L2057.9 436.5 L2058.2 453.6 L2058.6 446.2 L2058.9 505.7 L2059.2 459.8 L2059.5 478.8 L2059.8 492.0 L2060.1 526.1 L2060.4 470.0 L2060.8 449.3 L2061.1 479.5 L2061.4 521.3 L2061.7 328.0 L2062.0 558.2 L2062.3 538.3 L2062.6 480.4 L2062.9 518.1 L2063.2 484.9 L2063.6 522.4 L2063.9 542.6 L2064.2 596.1 L2064.5 546.2 L2064.8 427.9 L2065.1 492.1 L2065.4 492.0 L2065.8 427.9 L2066.1 471.6 L2066.4 432.6 L2066.7 454.0 L2067.0 466.0 L2067.3 556.1 L2067.6 438.9 L2067.9 427.7 L2068.2 521.7 L2068.6 527.3 L2068.9 521.7 L2069.2 434.1 L2069.5 492.1 L2069.8 496.1 L2070.1 544.4 L2070.4 494.8 L2070.8 520.7 L2071.1 497.3 L2071.4 418.8 L2071.7 502.4 L2072.0 502.2 L2072.3 549.6 L2072.6 495.4 L2072.9 517.7 L2073.2 558.4 L2073.6 533.7 L2073.9 501.2 L2074.2 533.3 L2074.5 548.1 L2074.8 554.1 L2075.1 588.1 L2075.4 555.2 L2075.8 589.7 L2076.1 575.6 L2076.4 565.8 L2076.7 587.8 L2077.0 552.6 L2077.3 583.5 L2077.6 550.5 L2077.9 585.2 L2078.2 571.8 L2078.6 623.8 L2078.9 584.1 L2079.2 649.4 L2079.5 587.7 L2079.8 561.3 L2080.1 580.2 L2080.4 640.3 L2080.8 614.4 L2081.1 521.4 L2081.4 631.1 L2081.7 493.7 L2082.0 604.2 L2082.3 613.7 L2082.6 592.9 L2082.9 607.2 L2083.2 597.4 L2083.6 734.1 L2083.9 548.4 L2084.2 583.1 L2084.5 603.3 L2084.8 618.1 L2085.1 549.5 L2085.4 708.7 L2085.8 706.3 L2086.1 721.9 L2086.4 672.0 L2086.7 720.8 L2087.0 649.9 L2087.3 694.6 L2087.6 683.5 L2087.9 627.6 L2088.2 665.5 L2088.6 673.1 L2088.9 625.4 L2089.2 689.7 L2089.5 675.6 L2089.8 624.0 L2090.1 597.9 L2090.4 699.6 L2090.8 681.6 L2091.1 627.0 L2091.4 661.8 L2091.7 645.9 L2092.0 574.8 L2092.3 624.7 L2092.6 600.7 L2092.9 628.5 L2093.2 566.5 L2093.6 537.5 L2093.9 548.3 L2094.2 536.1 L2094.5 602.5 L2094.8 520.7 L2095.1 626.6 L2095.4 599.2 L2095.8 806.8 L2096.1 664.6 L2096.4 594.1 L2096.7 675.4 L2097.0 702.4 L2097.3 687.7 L2097.6 686.8 L2097.9 653.8 L2098.2 469.6 L2098.6 766.4 L2098.9 635.5 L2099.2 716.0 L2099.5 671.0 L2099.8 614.3 L2100.1 711.5 L2100.4 767.1 L2100.8 738.8 L2101.1 791.4 L2101.4 745.7 L2101.7 765.6 L2102.0 701.0 L2102.3 697.2 L2102.6 712.1 L2102.9 717.5 L2103.2 708.7 L2103.6 710.6 L2103.9 722.1 L2104.2 707.1 L2104.5 653.5 L2104.8 642.0 L2105.1 690.6 L2105.4 791.1 L2105.8 747.7 L2106.1 684.0 L2106.4 680.4 L2106.7 717.8 L2107.0 576.0 L2107.3 740.9 L2107.6 573.2 L2107.9 667.1 L2108.2 590.5 L2108.6 727.9 L2108.9 660.7 L2109.2 691.0 L2109.5 575.2 L2109.8 614.3 L2110.1 685.5 L2110.4 562.6 L2110.8 706.0 L2111.1 652.4 L2111.4 641.1 L2111.7 753.3 L2112.0 623.0 L2112.3 679.9 L2112.6 664.2 L2112.9 640.6 L2113.2 783.8 L2113.6 602.2 L2113.9 706.1 L2114.2 745.8 L2114.5 632.0 L2114.8 713.0 L2115.1 702.8 L2115.4 696.9 L2115.8 672.6 L2116.1 795.2 L2116.4 722.9 L2116.7 733.6 L2117.0 592.2 L2117.3 655.9 L2117.6 647.2 L2117.9 668.1 L2118.2 680.0 L2118.6 763.7 L2118.9 669.5 L2119.2 692.8 L2119.5 707.1 L2119.8 792.8 L2120.1 648.7 L2120.4 655.9 L2120.8 771.8 L2121.1 701.4 L2121.4 639.4 L2121.7 684.5 L2122.0 646.0 L2122.3 561.5 L2122.6 619.8 L2122.9 661.1 L2123.2 608.2 L2123.6 766.0 L2123.9 787.6 L2124.2 806.8 L2124.5 702.2 L2124.8 693.8 L2125.1 744.5 L2125.4 726.3 L2125.8 794.3 L2126.1 792.5 L2126.4 612.2 L2126.7 729.2 L2127.0 702.3 L2127.3 659.7 L2127.6 682.4 L2127.9 701.2 L2128.2 695.1 L2128.6 646.8 L2128.9 591.4 L2129.2 637.6 L2129.5 603.0 L2129.8 722.8 L2130.1 738.9 L2130.4 637.5 L2130.8 615.0 L2131.1 652.9 L2131.4 711.2 L2131.7 636.9 L2132.0 590.6 L2132.3 682.7 L2132.6 594.2 L2132.9 590.4 L2133.2 826.8 L2133.6 650.4 L2133.9 658.9 L2134.2 716.1 L2134.5 785.0 L2134.8 748.9 L2135.1 736.0 L2135.4 763.6 L2135.8 739.9 L2136.1 795.1 L2136.4 717.0 L2136.7 757.1 L2137.0 771.0 L2137.3 716.5 L2137.6 730.7 L2137.9 677.4 L2138.2 690.6 L2138.6 594.8 L2138.9 578.6 L2139.2 668.8 L2139.5 661.3 L2139.8 601.6 L2140.1 621.2 L2140.4 658.4 L2140.8 708.3 L2141.1 661.7 L2141.4 685.5 L2141.7 769.9 L2142.0 786.9 L2142.3 754.1 L2142.6 677.8 L2142.9 709.9 L2143.2 744.1 L2143.6 730.4 L2143.9 789.9 L2144.2 815.9 L2144.5 791.4 L2144.8 815.2 L2145.1 794.5 L2145.4 826.8 L2145.8 746.5 L2146.1 814.8 L2146.4 773.9 L2146.7 794.5 L2147.0 773.3 L2147.3 717.6 L2147.6 817.1 L2147.9 796.7 L2148.2 776.5 L2148.6 719.9 L2148.9 667.8 L2149.2 774.5 L2149.5 811.2 L2149.8 767.6 L2150.1 781.3 L2150.4 766.1 L2150.8 700.1 L2151.1 811.8 L2151.4 772.8 L2151.7 813.9 L2152.0 813.5 L2152.3 855.8 L2152.6 774.8 L2152.9 820.1 L2153.2 750.8 L2153.6 741.3 L2153.9 715.2 L2154.2 783.0 L2154.5 813.9 L2154.8 808.4 L2155.1 708.3 L2155.4 799.7 L2155.8 763.3 L2156.1 748.8 L2156.4 819.5 L2156.7 749.5 L2157.0 652.4"/>
<path stroke="#FF0000" d="M282.0 938.5 L282.3 925.7 L282.6 876.1 L282.9 823.9 L283.2 785.4 L283.6 757.2 L283.9 768.4 L284.2 794.5 L284.5 805.3 L284.8 824.3 L285.1 836.3 L285.4 840.2 L285.8 870.6 L286.1 876.1 L286.4 895.9 L286.7 881.1 L287.0 865.9 L287.3 856.1 L287.6 835.4 L287.9 835.1 L288.2 823.0 L288.6 817.3 L288.9 788.3 L289.2 757.9 L289.5 757.5 L289.8 731.1 L290.1 728.9 L290.4 738.7 L290.8 742.2 L291.1 758.3 L291.4 781.6 L291.7 773.2 L292.0 798.4 L292.3 786.1 L292.6 798.3 L292.9 797.7 L293.2 806.4 L293.6 816.2 L293.9 818.4 L294.2 823.7 L294.5 815.1 L294.8 817.2 L295.1 806.5 L295.4 787.6 L295.8 778.6 L296.1 775.6 L296.4 774.1 L296.7 783.0 L297.0 758.8 L297.3 774.6 L297.6 805.8 L297.9 813.0 L298.2 787.1 L298.6 792.5 L298.9 764.7 L299.2 761.5 L299.5 754.9 L299.8 754.6 L300.1 728.5 L300.4 742.8 L300.8 721.6 L301.1 713.3 L301.4 720.5 L301.7 702.3 L302.0 691.1 L302.3 700.0 L302.6 720.1 L302.9 696.6 L303.2 702.6 L303.6 691.4 L303.9 684.2 L304.2 689.7 L304.5 691.5 L304.8 680.1 L305.1 685.9 L305.4 682.8 L305.8 700.4 L306.1 709.5 L306.4 695.0 L306.7 701.4 L307.0 716.6 L307.3 736.3 L307.6 719.1 L307.9 736.0 L308.2 746.4 L308.6 750.0 L308.9 741.9 L309.2 748.3 L309.5 726.3 L309.8 744.0 L310.1 734.9 L310.4 685.3 L310.8 705.1 L311.1 696.8 L311.4 682.3 L311.7 679.6 L312.0 681.5 L312.3 681.6 L312.6 673.0 L312.9 675.4 L313.2 691.7 L313.6 708.1 L313.9 742.9 L314.2 742.8 L314.5 752.4 L314.8 770.8 L315.1 771.3 L315.4 782.3 L315.8 787.5 L316.1 792.4 L316.4 795.6 L316.7 774.9 L317.0 784.7 L317.3 765.8 L317.6 745.6 L317.9 747.3 L318.2 713.9 L318.6 727.0 L318.9 709.5 L319.2 716.1 L319.5 688.0 L319.8 679.1 L320.1 675.0 L320.4 680.8 L320.8 705.6 L321.1 704.4 L321.4 733.7 L321.7 745.4 L322.0 784.2 L322.3 777.2 L322.6 782.7 L322.9 780.1 L323.2 782.6 L323.6 773.4 L323.9 793.0 L324.2 770.4 L324.5 780.5 L324.8 767.5 L325.1 754.1 L325.4 750.7 L325.8 758.4 L326.1 745.2 L326.4 755.7 L326.7 743.6 L327.0 749.0 L327.3 745.8 L327.6 754.8 L327.9 788.0 L328.2 791.7 L328.6 801.8 L328.9 807.0 L329.2 819.5 L329.5 822.3 L329.8 822.9 L330.1 838.2 L330.4 837.1 L330.8 836.1 L331.1 833.8 L331.4 819.7 L331.7 812.0 L332.0 833.8 L332.3 833.7 L332.6 803.0 L332.9 816.9 L333.2 798.7 L333.6 779.4 L333.9 770.7 L334.2 770.2 L334.5 762.9 L334.8 760.4 L335.1 758.8 L335.4 742.0 L335.8 765.1 L336.1 743.1 L336.4 739.2 L336.7 756.8 L337.0 752.7 L337.3 762.5 L337.6 747.6 L337.9 738.3 L338.2 757.9 L338.6 737.8 L338.9 733.8 L339.2 720.9 L339.5 724.4 L339.8 707.4 L340.1 729.1 L340.4 709.4 L340.8 733.4 L341.1 708.0 L341.4 729.8 L341.7 748.7 L342.0 712.3 L342.3 699.3 L342.6 732.1 L342.9 708.3 L343.2 703.1 L343.6 729.8 L343.9 697.9 L344.2 694.6 L344.5 690.5 L344.8 695.7 L345.1 681.0 L345.4 708.3 L345.8 712.8 L346.1 700.8 L346.4 692.7 L346.7 679.8 L347.0 703.3 L347.3 691.4 L347.6 694.7 L347.9 698.5 L348.2 688.9 L348.6 690.6 L348.9 690.6 L349.2 697.0 L349.5 685.1 L349.8 696.1 L350.1 683.0 L350.4 687.2 L350.8 693.5 L351.1 685.4 L351.4 703.1 L351.7 724.9 L352.0 721.9 L352.3 713.8 L352.6 732.4 L352.9 754.5 L353.2 740.7 L353.6 765.0 L353.9 777.9 L354.2 760.0 L354.5 785.7 L354.8 772.6 L355.1 802.3 L355.4 809.9 L355.8 805.3 L356.1 808.7 L356.4 819.3 L356.7 834.1 L357.0 844.2 L357.3 873.9 L357.6 864.3 L357.9 871.9 L358.2 889.8 L358.6 886.7 L358.9 895.0 L359.2 897.3 L359.5 888.0 L359.8 880.0 L360.1 874.1 L360.4 855.3 L360.8 824.4 L361.1 805.6 L361.4 817.0 L361.7 821.2 L362.0 806.2 L362.3 797.1 L362.6 780.6 L362.9 764.7 L363.2 771.7 L363.6 783.7 L363.9 792.0 L364.2 793.9 L364.5 818.4 L364.8 805.8 L365.1 829.6 L365.4 840.5 L365.8 823.2 L366.1 849.5 L366.4 876.5 L366.7 887.9 L367.0 894.1 L367.3 891.6 L367.6 892.0 L367.9 884.9 L368.2 883.4 L368.6 867.4 L368.9 848.4 L369.2 838.7 L369.5 833.8 L369.8 789.5 L370.1 780.9 L370.4 778.2 L370.8 783.4 L371.1 774.1 L371.4 741.1 L371.7 738.7 L372.0 729.9 L372.3 730.7 L372.6 728.4 L372.9 712.4 L373.2 710.5 L373.6 701.0 L373.9 683.1 L374.2 696.9 L374.5 703.3 L374.8 701.5 L375.1 681.5 L375.4 683.2 L375.8 701.0 L376.1 686.8 L376.4 685.9 L376.7 672.6 L377.0 674.9 L377.3 664.0 L377.6 667.0 L377.9 675.2 L378.2 671.0 L378.6 692.0 L378.9 729.1 L379.2 730.2 L379.5 751.7 L379.8 766.8 L380.1 780.6 L380.4 791.9 L380.8 796.0 L381.1 815.4 L381.4 801.5 L381.7 808.1 L382.0 780.4 L382.3 786.4 L382.6 764.6 L382.9 756.6 L383.2 760.7 L383.6 757.2 L383.9 756.5 L384.2 755.4 L384.5 729.2 L384.8 725.3 L385.1 704.8 L385.4 701.7 L385.8 698.7 L386.1 688.6 L386.4 686.1 L386.7 682.9 L387.0 699.3 L387.3 706.9 L387.6 744.6 L387.9 762.1 L388.2 748.0 L388.6 776.6 L388.9 798.8 L389.2 792.0 L389.5 809.7 L389.8 832.5 L390.1 837.0 L390.4 839.1 L390.8 838.2 L391.1 838.9 L391.4 844.0 L391.7 842.5 L392.0 824.4 L392.3 810.4 L392.6 814.7 L392.9 818.3 L393.2 807.9 L393.6 799.4 L393.9 801.3 L394.2 822.6 L394.5 805.4 L394.8 830.4 L395.1 799.4 L395.4 812.7 L395.8 823.3 L396.1 849.7 L396.4 839.1 L396.7 829.0 L397.0 805.9 L397.3 834.6 L397.6 816.3 L397.9 790.6 L398.2 778.5 L398.6 789.0 L398.9 772.7 L399.2 773.7 L399.5 767.0 L399.8 755.4 L400.1 767.7 L400.4 770.6 L400.8 770.1 L401.1 775.2 L401.4 793.1 L401.7 767.0 L402.0 808.2 L402.3 796.0 L402.6 784.3 L402.9 801.2 L403.2 809.8 L403.6 817.8 L403.9 796.6 L404.2 792.5 L404.5 804.9 L404.8 819.1 L405.1 799.1 L405.4 778.4 L405.8 779.8 L406.1 772.5 L406.4 772.7 L406.7 775.2 L407.0 745.0 L407.3 761.1 L407.6 755.4 L407.9 759.2 L408.2 763.0 L408.6 764.4 L408.9 798.3 L409.2 809.3 L409.5 815.9 L409.8 821.6 L410.1 797.5 L410.4 803.6 L410.8 794.9 L411.1 801.7 L411.4 774.8 L411.7 756.4 L412.0 760.8 L412.3 755.1 L412.6 759.1 L412.9 753.9 L413.2 748.8 L413.6 757.5 L413.9 749.6 L414.2 771.7 L414.5 785.5 L414.8 776.6 L415.1 779.6 L415.4 805.9 L415.8 792.5 L416.1 802.5 L416.4 794.4 L416.7 807.8 L417.0 797.5 L417.3 809.7 L417.6 824.3 L417.9 813.4 L418.2 815.0 L418.6 805.0 L418.9 816.1 L419.2 819.0 L419.5 802.0 L419.8 805.3 L420.1 790.4 L420.4 780.3 L420.8 783.1 L421.1 782.9 L421.4 811.7 L421.7 787.8 L422.0 766.8 L422.3 764.6 L422.6 762.4 L422.9 757.2 L423.2 756.2 L423.6 744.3 L423.9 752.7 L424.2 756.6 L424.5 765.6 L424.8 753.6 L425.1 767.4 L425.4 759.9 L425.8 758.4 L426.1 780.1 L426.4 794.8 L426.7 787.4 L427.0 803.6 L427.3 813.9 L427.6 819.3 L427.9 813.6 L428.2 807.1 L428.6 848.2 L428.9 824.2 L429.2 844.3 L429.5 851.4 L429.8 848.6 L430.1 857.2 L430.4 851.7 L430.8 853.3 L431.1 852.5 L431.4 840.1 L431.7 833.8 L432.0 855.6 L432.3 838.8 L432.6 827.6 L432.9 835.2 L433.2 820.9 L433.6 830.1 L433.9 816.3 L434.2 811.5 L434.5 816.2 L434.8 804.8 L435.1 805.6 L435.4 800.0 L435.8 805.7 L436.1 800.9 L436.4 808.3 L436.7 818.1 L437.0 825.1 L437.3 851.0 L437.6 836.1 L437.9 841.5 L438.2 851.4 L438.6 855.9 L438.9 845.2 L439.2 886.8 L439.5 896.8 L439.8 886.9 L440.1 907.2 L440.4 886.1 L440.8 896.7 L441.1 902.2 L441.4 909.6 L441.7 915.5 L442.0 910.0 L442.3 897.3 L442.6 907.0 L442.9 910.4 L443.2 914.8 L443.6 907.3 L443.9 915.1 L444.2 908.0 L444.5 918.8 L444.8 904.1 L445.1 898.2 L445.4 918.4 L445.8 898.9 L446.1 912.9 L446.4 917.3 L446.7 911.8 L447.0 916.8 L447.3 907.8 L447.6 915.8 L447.9 875.5 L448.2 867.9 L448.6 887.3 L448.9 903.1 L449.2 891.7 L449.5 854.9 L449.8 857.4 L450.1 855.2 L450.4 845.7 L450.8 855.6 L451.1 846.2 L451.4 870.3 L451.7 869.9 L452.0 865.3 L452.3 866.1 L452.6 869.9 L452.9 877.4 L453.2 877.8 L453.6 916.4 L453.9 900.4 L454.2 893.8 L454.5 919.4 L454.8 941.0 L455.1 942.4 L455.4 939.0 L455.8 941.2 L456.1 953.8 L456.4 963.1 L456.7 977.9 L457.0 984.2 L457.3 975.8 L457.6 977.6 L457.9 974.3 L458.2 954.3 L458.6 944.1 L458.9 957.1 L459.2 919.1 L459.5 932.8 L459.8 946.5 L460.1 927.2 L460.4 902.0 L460.8 909.5 L461.1 900.9 L461.4 920.8 L461.7 885.7 L462.0 889.0 L462.3 882.5 L462.6 888.4 L462.9 886.9 L463.2 881.9 L463.6 890.1 L463.9 889.3 L464.2 902.8 L464.5 905.1 L464.8 905.6 L465.1 885.0 L465.4 925.7 L465.8 921.1 L466.1 921.2 L466.4 917.1 L466.7 930.2 L467.0 933.9 L467.3 951.9 L467.6 972.3 L467.9 958.2 L468.2 966.9 L468.6 951.0 L468.9 970.9 L469.2 968.8 L469.5 988.0 L469.8 1009.5 L470.1 1001.3 L470.4 1000.1 L470.8 1003.7 L471.1 1006.5 L471.4 1005.9 L471.7 1008.5 L472.0 1008.5 L472.3 1007.6 L472.6 1006.5 L472.9 1006.5 L473.2 1007.9 L473.6 1015.8 L473.9 992.1 L474.2 998.4 L474.5 964.6 L474.8 967.3 L475.1 957.3 L475.4 940.3 L475.8 958.8 L476.1 946.0 L476.4 960.9 L476.7 954.3 L477.0 954.4 L477.3 930.3 L477.6 928.8 L477.9 934.6 L478.2 942.0 L478.6 931.9 L478.9 941.4 L479.2 940.1 L479.5 931.4 L479.8 933.4 L480.1 938.1 L480.4 951.7 L480.8 972.4 L481.1 966.9 L481.4 950.1 L481.7 995.4 L482.0 977.4 L482.3 994.8 L482.6 999.2 L482.9 991.6 L483.2 990.6 L483.6 993.4 L483.9 986.3 L484.2 965.1 L484.5 976.4 L484.8 957.5 L485.1 936.8 L485.4 949.8 L485.8 946.0 L486.1 932.1 L486.4 922.1 L486.7 932.2 L487.0 912.0 L487.3 910.5 L487.6 893.9 L487.9 900.9 L488.2 900.5 L488.6 910.6 L488.9 930.3 L489.2 910.6 L489.5 928.5 L489.8 897.0 L490.1 919.4 L490.4 928.2 L490.8 903.0 L491.1 897.6 L491.4 912.6 L491.7 906.5 L492.0 908.6 L492.3 901.5 L492.6 900.1 L492.9 901.3 L493.2 897.4 L493.6 895.8 L493.9 920.8 L494.2 929.6 L494.5 937.7 L494.8 968.6 L495.1 965.8 L495.4 968.1 L495.8 984.2 L496.1 975.9 L496.4 977.2 L496.7 969.6 L497.0 966.5 L497.3 944.0 L497.6 932.3 L497.9 924.5 L498.2 911.0 L498.6 925.7 L498.9 919.5 L499.2 918.9 L499.5 904.3 L499.8 895.3 L500.1 891.8 L500.4 877.9 L500.8 876.7 L501.1 865.0 L501.4 865.0 L501.7 861.2 L502.0 864.1 L502.3 885.5 L502.6 897.5 L502.9 877.5 L503.2 915.6 L503.6 926.4 L503.9 914.1 L504.2 936.4 L504.5 944.0 L504.8 949.4 L505.1 944.3 L505.4 922.2 L505.8 915.3 L506.1 915.5 L506.4 896.4 L506.7 889.2 L507.0 880.8 L507.3 865.1 L507.6 885.7 L507.9 858.3 L508.2 852.7 L508.6 854.4 L508.9 855.6 L509.2 836.0 L509.5 840.7 L509.8 833.7 L510.1 840.8 L510.4 840.9 L510.8 831.3 L511.1 844.3 L511.4 864.0 L511.7 849.1 L512.0 880.1 L512.3 873.5 L512.6 901.4 L512.9 902.0 L513.2 906.2 L513.6 897.7 L513.9 898.3 L514.2 914.1 L514.5 906.0 L514.8 914.3 L515.1 909.7 L515.4 913.6 L515.8 893.2 L516.1 877.8 L516.4 909.8 L516.7 886.2 L517.0 896.8 L517.3 881.6 L517.6 863.8 L517.9 873.4 L518.2 872.4 L518.6 889.1 L518.9 917.1 L519.2 913.3 L519.5 917.7 L519.8 939.6 L520.1 950.8 L520.4 952.4 L520.8 939.5 L521.1 925.5 L521.4 905.8 L521.7 900.2 L522.0 873.5 L522.3 888.1 L522.6 857.6 L522.9 842.9 L523.2 828.9 L523.6 809.9 L523.9 805.8 L524.2 813.8 L524.5 785.9 L524.8 821.9 L525.1 805.0 L525.4 802.3 L525.8 781.4 L526.1 790.2 L526.4 784.2 L526.7 777.7 L527.0 766.3 L527.3 765.3 L527.6 752.4 L527.9 760.4 L528.2 763.5 L528.6 757.1 L528.9 760.4 L529.2 783.2 L529.5 798.8 L529.8 802.7 L530.1 807.9 L530.4 819.5 L530.8 806.2 L531.1 809.3 L531.4 806.9 L531.7 790.9 L532.0 807.2 L532.3 795.2 L532.6 802.4 L532.9 777.4 L533.2 777.2 L533.6 772.2 L533.9 764.7 L534.2 780.0 L534.5 788.0 L534.8 788.5 L535.1 781.9 L535.4 770.0 L535.8 790.9 L536.1 779.6 L536.4 805.7 L536.7 800.1 L537.0 822.1 L537.3 809.8 L537.6 822.8 L537.9 818.4 L538.2 798.5 L538.6 803.5 L538.9 794.5 L539.2 778.8 L539.5 786.5 L539.8 744.2 L540.1 749.6 L540.4 741.5 L540.8 732.0 L541.1 736.1 L541.4 735.4 L541.7 720.6 L542.0 722.4 L542.3 721.7 L542.6 718.2 L542.9 709.1 L543.2 722.6 L543.6 729.4 L543.9 754.7 L544.2 746.1 L544.5 780.3 L544.8 747.9 L545.1 771.4 L545.4 760.4 L545.8 800.3 L546.1 807.9 L546.4 783.4 L546.7 800.9 L547.0 796.4 L547.3 783.4 L547.6 794.0 L547.9 810.6 L548.2 816.0 L548.6 812.4 L548.9 830.7 L549.2 836.0 L549.5 833.7 L549.8 826.4 L550.1 829.9 L550.4 827.6 L550.8 810.2 L551.1 830.6 L551.4 825.4 L551.7 807.0 L552.0 827.5 L552.3 791.8 L552.6 784.2 L552.9 777.4 L553.2 765.6 L553.6 789.4 L553.9 768.8 L554.2 768.6 L554.5 770.7 L554.8 782.3 L555.1 765.5 L555.4 760.2 L555.8 766.4 L556.1 768.4 L556.4 756.7 L556.7 768.8 L557.0 762.8 L557.3 761.2 L557.6 762.2 L557.9 768.6 L558.2 760.5 L558.6 768.9 L558.9 764.5 L559.2 768.8 L559.5 776.1 L559.8 769.4 L560.1 770.2 L560.4 771.4 L560.8 772.5 L561.1 760.5 L561.4 759.3 L561.7 747.5 L562.0 747.0 L562.3 742.2 L562.6 737.9 L562.9 744.8 L563.2 724.4 L563.6 732.3 L563.9 738.4 L564.2 740.9 L564.5 713.4 L564.8 723.1 L565.1 721.2 L565.4 685.9 L565.8 688.2 L566.1 675.0 L566.4 667.3 L566.7 668.5 L567.0 671.4 L567.3 679.0 L567.6 683.4 L567.9 692.0 L568.2 702.6 L568.6 689.5 L568.9 690.0 L569.2 727.7 L569.5 724.5 L569.8 730.1 L570.1 719.3 L570.4 721.5 L570.8 725.6 L571.1 730.4 L571.4 738.7 L571.7 740.6 L572.0 753.7 L572.3 761.4 L572.6 759.7 L572.9 754.6 L573.2 762.2 L573.6 740.8 L573.9 729.4 L574.2 720.1 L574.5 712.8 L574.8 704.5 L575.1 692.0 L575.4 674.8 L575.8 686.3 L576.1 679.6 L576.4 656.0 L576.7 651.6 L577.0 641.8 L577.3 665.6 L577.6 653.1 L577.9 663.4 L578.2 638.4 L578.6 655.0 L578.9 634.4 L579.2 627.7 L579.5 638.2 L579.8 639.6 L580.1 633.7 L580.4 629.5 L580.8 658.3 L581.1 649.6 L581.4 651.1 L581.7 660.1 L582.0 699.4 L582.3 697.3 L582.6 707.3 L582.9 688.8 L583.2 710.0 L583.6 706.8 L583.9 721.0 L584.2 695.4 L584.5 698.8 L584.8 697.4 L585.1 704.4 L585.4 725.4 L585.8 711.6 L586.1 740.8 L586.4 728.4 L586.7 724.8 L587.0 737.4 L587.3 731.8 L587.6 732.1 L587.9 768.9 L588.2 772.1 L588.6 753.7 L588.9 765.1 L589.2 800.6 L589.5 784.2 L589.8 795.2 L590.1 793.9 L590.4 787.9 L590.8 796.8 L591.1 805.8 L591.4 815.4 L591.7 795.9 L592.0 799.8 L592.3 794.7 L592.6 769.4 L592.9 781.4 L593.2 755.1 L593.6 722.6 L593.9 717.7 L594.2 733.0 L594.5 724.1 L594.8 704.5 L595.1 692.2 L595.4 710.1 L595.8 720.9 L596.1 704.0 L596.4 680.5 L596.7 699.9 L597.0 687.1 L597.3 677.8 L597.6 678.1 L597.9 688.5 L598.2 677.9 L598.6 661.3 L598.9 675.0 L599.2 675.8 L599.5 683.3 L599.8 667.9 L600.1 670.4 L600.4 670.6 L600.8 685.0 L601.1 670.4 L601.4 669.0 L601.7 694.8 L602.0 673.1 L602.3 661.3 L602.6 661.3 L602.9 673.2 L603.2 671.2 L603.6 679.5 L603.9 674.3 L604.2 673.4 L604.5 677.7 L604.8 673.0 L605.1 680.9 L605.4 680.2 L605.8 696.6 L606.1 710.9 L606.4 710.7 L606.7 738.5 L607.0 741.4 L607.3 725.5 L607.6 737.6 L607.9 738.0 L608.2 723.5 L608.6 714.4 L608.9 720.8 L609.2 724.9 L609.5 730.7 L609.8 727.1 L610.1 711.5 L610.4 719.0 L610.8 715.4 L611.1 698.0 L611.4 699.8 L611.7 701.4 L612.0 683.1 L612.3 684.0 L612.6 682.1 L612.9 713.5 L613.2 708.3 L613.6 711.0 L613.9 702.1 L614.2 709.2 L614.5 730.3 L614.8 715.0 L615.1 728.7 L615.4 716.1 L615.8 723.7 L616.1 736.4 L616.4 744.3 L616.7 758.5 L617.0 734.2 L617.3 765.2 L617.6 748.7 L617.9 756.8 L618.2 760.7 L618.6 788.1 L618.9 795.0 L619.2 766.5 L619.5 760.9 L619.8 748.1 L620.1 718.1 L620.4 727.7 L620.8 716.3 L621.1 691.8 L621.4 685.2 L621.7 683.8 L622.0 688.1 L622.3 686.3 L622.6 693.1 L622.9 699.6 L623.2 688.7 L623.6 695.6 L623.9 719.4 L624.2 689.4 L624.5 717.1 L624.8 707.1 L625.1 726.4 L625.4 721.4 L625.8 715.8 L626.1 709.7 L626.4 756.4 L626.7 718.0 L627.0 743.2 L627.3 772.8 L627.6 759.4 L627.9 752.8 L628.2 735.6 L628.6 763.8 L628.9 765.4 L629.2 763.2 L629.5 778.1 L629.8 774.5 L630.1 761.2 L630.4 760.6 L630.8 769.4 L631.1 777.1 L631.4 754.7 L631.7 770.0 L632.0 753.6 L632.3 743.0 L632.6 739.3 L632.9 746.6 L633.2 747.8 L633.6 764.8 L633.9 739.4 L634.2 763.4 L634.5 737.7 L634.8 745.2 L635.1 735.6 L635.4 744.8 L635.8 755.3 L636.1 746.6 L636.4 752.3 L636.7 739.2 L637.0 748.6 L637.3 746.3 L637.6 761.0 L637.9 736.7 L638.2 763.1 L638.6 771.9 L638.9 774.2 L639.2 749.4 L639.5 758.8 L639.8 766.3 L640.1 782.3 L640.4 771.3 L640.8 776.3 L641.1 765.8 L641.4 753.8 L641.7 726.8 L642.0 733.4 L642.3 725.1 L642.6 711.8 L642.9 674.4 L643.2 669.6 L643.6 665.5 L643.9 666.4 L644.2 675.8 L644.5 667.0 L644.8 702.0 L645.1 721.1 L645.4 728.5 L645.8 735.2 L646.1 739.8 L646.4 753.1 L646.7 721.7 L647.0 726.1 L647.3 745.1 L647.6 736.1 L647.9 713.9 L648.2 751.7 L648.6 752.2 L648.9 735.8 L649.2 754.7 L649.5 760.9 L649.8 743.9 L650.1 764.3 L650.4 775.9 L650.8 780.3 L651.1 757.2 L651.4 762.3 L651.7 775.0 L652.0 776.8 L652.3 760.4 L652.6 740.0 L652.9 740.0 L653.2 710.0 L653.6 703.6 L653.9 676.8 L654.2 662.1 L654.5 649.6 L654.8 663.2 L655.1 658.8 L655.4 653.6 L655.8 660.3 L656.1 654.8 L656.4 664.5 L656.7 677.1 L657.0 683.4 L657.3 686.0 L657.6 681.4 L657.9 693.6 L658.2 692.4 L658.6 695.4 L658.9 696.0 L659.2 666.5 L659.5 669.7 L659.8 689.0 L660.1 657.5 L660.4 652.6 L660.8 679.9 L661.1 656.3 L661.4 667.7 L661.7 654.3 L662.0 645.4 L662.3 642.7 L662.6 664.4 L662.9 654.9 L663.2 642.7 L663.6 652.7 L663.9 642.7 L664.2 649.6 L664.5 650.3 L664.8 655.0 L665.1 654.1 L665.4 653.7 L665.8 669.4 L666.1 658.3 L666.4 679.4 L666.7 681.5 L667.0 698.2 L667.3 699.8 L667.6 704.2 L667.9 710.1 L668.2 724.9 L668.6 721.0 L668.9 723.4 L669.2 715.6 L669.5 710.6 L669.8 738.0 L670.1 746.7 L670.4 730.9 L670.8 729.5 L671.1 736.4 L671.4 736.2 L671.7 734.4 L672.0 714.0 L672.3 698.0 L672.6 710.0 L672.9 715.9 L673.2 696.4 L673.6 701.1 L673.9 678.9 L674.2 694.5 L674.5 699.5 L674.8 660.6 L675.1 654.4 L675.4 658.9 L675.8 670.8 L676.1 658.4 L676.4 651.6 L676.7 652.7 L677.0 631.5 L677.3 624.3 L677.6 628.2 L677.9 642.5 L678.2 631.9 L678.6 631.3 L678.9 645.0 L679.2 640.0 L679.5 656.5 L679.8 635.4 L680.1 644.9 L680.4 650.0 L680.8 641.8 L681.1 654.7 L681.4 656.3 L681.7 665.2 L682.0 656.5 L682.3 646.2 L682.6 651.2 L682.9 648.5 L683.2 635.2 L683.6 616.9 L683.9 607.4 L684.2 600.2 L684.5 582.2 L684.8 594.8 L685.1 592.6 L685.4 610.7 L685.8 582.4 L686.1 577.1 L686.4 584.9 L686.7 550.3 L687.0 559.1 L687.3 556.2 L687.6 557.3 L687.9 540.4 L688.2 554.2 L688.6 544.3 L688.9 537.6 L689.2 539.7 L689.5 528.5 L689.8 536.6 L690.1 523.6 L690.4 526.3 L690.8 548.6 L691.1 566.7 L691.4 569.8 L691.7 579.4 L692.0 601.3 L692.3 626.5 L692.6 614.0 L692.9 630.9 L693.2 628.7 L693.6 612.6 L693.9 619.0 L694.2 603.7 L694.5 584.5 L694.8 597.1 L695.1 592.9 L695.4 567.6 L695.8 565.3 L696.1 575.9 L696.4 597.2 L696.7 574.3 L697.0 598.6 L697.3 560.9 L697.6 573.7 L697.9 565.8 L698.2 559.6 L698.6 561.9 L698.9 550.8 L699.2 551.7 L699.5 559.8 L699.8 548.4 L700.1 563.0 L700.4 550.8 L700.8 559.8 L701.1 591.6 L701.4 593.4 L701.7 591.5 L702.0 592.2 L702.3 592.4 L702.6 581.6 L702.9 548.9 L703.2 572.9 L703.6 571.2 L703.9 539.6 L704.2 551.2 L704.5 546.2 L704.8 538.1 L705.1 537.9 L705.4 550.5 L705.8 537.1 L706.1 551.1 L706.4 564.1 L706.7 562.5 L707.0 545.1 L707.3 584.6 L707.6 596.7 L707.9 613.3 L708.2 593.3 L708.6 590.7 L708.9 616.3 L709.2 603.0 L709.5 615.1 L709.8 614.9 L710.1 625.2 L710.4 624.6 L710.8 627.4 L711.1 609.1 L711.4 626.1 L711.7 609.6 L712.0 592.0 L712.3 577.8 L712.6 575.8 L712.9 562.1 L713.2 562.8 L713.6 562.1 L713.9 570.4 L714.2 560.2 L714.5 580.9 L714.8 578.9 L715.1 592.5 L715.4 578.4 L715.8 610.5 L716.1 593.2 L716.4 597.4 L716.7 591.2 L717.0 604.9 L717.3 590.7 L717.6 600.0 L717.9 571.0 L718.2 557.5 L718.6 556.9 L718.9 568.4 L719.2 583.7 L719.5 570.9 L719.8 556.2 L720.1 561.1 L720.4 568.2 L720.8 531.5 L721.1 552.0 L721.4 566.4 L721.7 531.4 L722.0 525.2 L722.3 523.1 L722.6 513.4 L722.9 508.4 L723.2 515.8 L723.6 538.3 L723.9 535.4 L724.2 514.3 L724.5 510.9 L724.8 503.8 L725.1 516.6 L725.4 517.4 L725.8 510.7 L726.1 528.0 L726.4 517.1 L726.7 511.7 L727.0 521.9 L727.3 532.3 L727.6 532.4 L727.9 539.5 L728.2 532.2 L728.6 553.8 L728.9 516.2 L729.2 506.7 L729.5 513.7 L729.8 541.5 L730.1 535.1 L730.4 514.6 L730.8 520.1 L731.1 531.2 L731.4 530.8 L731.7 548.4 L732.0 538.8 L732.3 529.8 L732.6 562.2 L732.9 572.9 L733.2 550.7 L733.6 555.0 L733.9 571.5 L734.2 566.8 L734.5 582.3 L734.8 564.5 L735.1 571.0 L735.4 565.4 L735.8 559.6 L736.1 563.8 L736.4 552.4 L736.7 539.1 L737.0 553.7 L737.3 545.9 L737.6 546.3 L737.9 539.6 L738.2 543.2 L738.6 555.5 L738.9 560.0 L739.2 568.1 L739.5 547.5 L739.8 561.2 L740.1 584.6 L740.4 589.1 L740.8 592.8 L741.1 615.7 L741.4 600.7 L741.7 623.4 L742.0 631.1 L742.3 623.8 L742.6 623.6 L742.9 642.7 L743.2 641.7 L743.6 645.9 L743.9 632.5 L744.2 648.3 L744.5 652.6 L744.8 640.5 L745.1 638.7 L745.4 633.3 L745.8 642.9 L746.1 595.6 L746.4 631.1 L746.7 617.4 L747.0 605.6 L747.3 599.8 L747.6 602.7 L747.9 594.3 L748.2 593.1 L748.6 607.0 L748.9 615.3 L749.2 630.4 L749.5 649.6 L749.8 654.6 L750.1 654.4 L750.4 683.1 L750.8 705.9 L751.1 701.4 L751.4 720.5 L751.7 720.4 L752.0 718.0 L752.3 696.6 L752.6 688.6 L752.9 706.1 L753.2 690.6 L753.6 663.4 L753.9 671.0 L754.2 655.6 L754.5 665.2 L754.8 623.0 L755.1 634.6 L755.4 638.9 L755.8 611.3 L756.1 612.1 L756.4 624.1 L756.7 616.6 L757.0 607.9 L757.3 610.8 L757.6 602.5 L757.9 605.6 L758.2 620.5 L758.6 609.8 L758.9 627.7 L759.2 629.9 L759.5 654.1 L759.8 665.8 L760.1 684.5 L760.4 698.4 L760.8 696.7 L761.1 677.6 L761.4 680.8 L761.7 688.2 L762.0 685.5 L762.3 670.3 L762.6 643.6 L762.9 649.5 L763.2 674.4 L763.6 657.8 L763.9 656.5 L764.2 654.8 L764.5 656.5 L764.8 654.6 L765.1 656.5 L765.4 684.5 L765.8 672.2 L766.1 693.7 L766.4 695.0 L766.7 699.5 L767.0 711.9 L767.3 716.6 L767.6 712.5 L767.9 698.4 L768.2 689.6 L768.6 663.3 L768.9 659.5 L769.2 659.7 L769.5 650.5 L769.8 659.4 L770.1 637.8 L770.4 617.8 L770.8 611.3 L771.1 603.7 L771.4 616.4 L771.7 619.2 L772.0 624.8 L772.3 632.6 L772.6 647.9 L772.9 650.4 L773.2 632.5 L773.6 663.5 L773.9 647.5 L774.2 672.1 L774.5 674.1 L774.8 693.9 L775.1 677.9 L775.4 686.2 L775.8 692.4 L776.1 705.0 L776.4 709.3 L776.7 701.8 L777.0 712.8 L777.3 714.1 L777.6 703.8 L777.9 702.2 L778.2 681.1 L778.6 685.2 L778.9 686.1 L779.2 667.2 L779.5 691.9 L779.8 680.6 L780.1 674.4 L780.4 675.4 L780.8 683.2 L781.1 687.1 L781.4 679.8 L781.7 674.2 L782.0 680.1 L782.3 687.4 L782.6 670.6 L782.9 670.3 L783.2 692.3 L783.6 666.5 L783.9 693.9 L784.2 701.1 L784.5 699.2 L784.8 700.2 L785.1 701.7 L785.4 708.5 L785.8 705.8 L786.1 681.4 L786.4 671.4 L786.7 671.0 L787.0 657.7 L787.3 655.4 L787.6 659.5 L787.9 652.1 L788.2 651.2 L788.6 662.8 L788.9 645.1 L789.2 656.6 L789.5 686.8 L789.8 699.4 L790.1 678.3 L790.4 662.1 L790.8 682.7 L791.1 671.7 L791.4 671.9 L791.7 674.4 L792.0 677.1 L792.3 645.3 L792.6 636.7 L792.9 654.5 L793.2 652.0 L793.6 653.0 L793.9 625.0 L794.2 607.1 L794.5 602.4 L794.8 597.2 L795.1 584.4 L795.4 575.7 L795.8 581.2 L796.1 589.4 L796.4 579.4 L796.7 586.1 L797.0 573.8 L797.3 568.9 L797.6 560.9 L797.9 565.5 L798.2 563.9 L798.6 536.9 L798.9 552.3 L799.2 550.5 L799.5 545.0 L799.8 546.2 L800.1 538.5 L800.4 544.4 L800.8 532.6 L801.1 552.7 L801.4 557.4 L801.7 541.2 L802.0 550.6 L802.3 571.5 L802.6 576.4 L802.9 568.1 L803.2 556.8 L803.6 568.2 L803.9 579.4 L804.2 578.2 L804.5 576.5 L804.8 564.1 L805.1 568.6 L805.4 562.8 L805.8 548.6 L806.1 555.4 L806.4 554.2 L806.7 554.4 L807.0 577.6 L807.3 588.7 L807.6 596.7 L807.9 581.5 L808.2 582.4 L808.6 595.6 L808.9 589.5 L809.2 596.8 L809.5 604.9 L809.8 599.2 L810.1 636.7 L810.4 609.8 L810.8 615.7 L811.1 640.0 L811.4 621.0 L811.7 630.2 L812.0 631.4 L812.3 637.6 L812.6 635.4 L812.9 621.0 L813.2 607.2 L813.6 609.7 L813.9 600.4 L814.2 574.2 L814.5 572.6 L814.8 564.3 L815.1 575.9 L815.4 579.3 L815.8 590.5 L816.1 577.6 L816.4 596.1 L816.7 591.5 L817.0 606.6 L817.3 592.2 L817.6 613.3 L817.9 617.4 L818.2 586.7 L818.6 633.2 L818.9 631.9 L819.2 633.1 L819.5 622.7 L819.8 639.5 L820.1 632.4 L820.4 642.2 L820.8 646.8 L821.1 646.5 L821.4 637.9 L821.7 659.8 L822.0 651.8 L822.3 648.1 L822.6 636.5 L822.9 650.8 L823.2 633.7 L823.6 633.4 L823.9 625.4 L824.2 617.8 L824.5 601.8 L824.8 598.9 L825.1 612.2 L825.4 583.2 L825.8 576.2 L826.1 582.4 L826.4 575.1 L826.7 574.2 L827.0 566.2 L827.3 566.7 L827.6 574.0 L827.9 573.4 L828.2 561.4 L828.6 571.7 L828.9 569.8 L829.2 575.7 L829.5 573.1 L829.8 590.6 L830.1 574.7 L830.4 591.2 L830.8 611.0 L831.1 570.2 L831.4 597.9 L831.7 606.4 L832.0 615.2 L832.3 613.9 L832.6 612.3 L832.9 621.4 L833.2 620.9 L833.6 620.7 L833.9 645.5 L834.2 641.0 L834.5 639.8 L834.8 627.7 L835.1 617.3 L835.4 625.6 L835.8 606.6 L836.1 622.0 L836.4 606.8 L836.7 615.9 L837.0 615.2 L837.3 617.1 L837.6 638.6 L837.9 637.9 L838.2 661.2 L838.6 676.7 L838.9 681.2 L839.2 680.1 L839.5 687.4 L839.8 670.1 L840.1 656.3 L840.4 639.9 L840.8 643.2 L841.1 650.9 L841.4 618.4 L841.7 592.6 L842.0 609.9 L842.3 623.0 L842.6 609.1 L842.9 583.3 L843.2 592.1 L843.6 574.8 L843.9 594.0 L844.2 570.4 L844.5 565.0 L844.8 561.4 L845.1 561.3 L845.4 577.4 L845.8 563.8 L846.1 549.8 L846.4 558.5 L846.7 583.9 L847.0 583.4 L847.3 594.3 L847.6 599.0 L847.9 626.8 L848.2 632.5 L848.6 627.8 L848.9 610.2 L849.2 596.5 L849.5 603.7 L849.8 578.8 L850.1 585.2 L850.4 576.9 L850.8 574.6 L851.1 564.9 L851.4 555.3 L851.7 542.8 L852.0 548.3 L852.3 539.7 L852.6 520.2 L852.9 550.5 L853.2 540.8 L853.6 527.3 L853.9 530.9 L854.2 530.7 L854.5 527.0 L854.8 533.8 L855.1 545.0 L855.4 555.6 L855.8 536.4 L856.1 550.2 L856.4 562.1 L856.7 561.5 L857.0 563.8 L857.3 587.4 L857.6 582.0 L857.9 588.7 L858.2 577.2 L858.6 583.2 L858.9 579.0 L859.2 595.1 L859.5 640.1 L859.8 635.1 L860.1 634.8 L860.4 613.3 L860.8 638.2 L861.1 638.6 L861.4 642.9 L861.7 655.4 L862.0 627.7 L862.3 618.2 L862.6 631.8 L862.9 665.1 L863.2 663.0 L863.6 660.2 L863.9 661.2 L864.2 669.9 L864.5 678.3 L864.8 664.3 L865.1 689.4 L865.4 666.9 L865.8 700.1 L866.1 689.7 L866.4 679.9 L866.7 682.3 L867.0 685.0 L867.3 705.4 L867.6 683.6 L867.9 689.5 L868.2 698.6 L868.6 708.9 L868.9 702.5 L869.2 704.7 L869.5 695.6 L869.8 702.3 L870.1 689.1 L870.4 677.4 L870.8 665.0 L871.1 680.7 L871.4 662.3 L871.7 645.8 L872.0 675.6 L872.3 637.5 L872.6 616.3 L872.9 616.7 L873.2 607.2 L873.6 614.9 L873.9 620.0 L874.2 594.9 L874.5 605.6 L874.8 621.0 L875.1 619.5 L875.4 591.8 L875.8 591.9 L876.1 604.7 L876.4 600.4 L876.7 600.4 L877.0 608.8 L877.3 597.4 L877.6 595.5 L877.9 626.2 L878.2 651.8 L878.6 653.8 L878.9 664.3 L879.2 625.6 L879.5 653.0 L879.8 672.7 L880.1 661.7 L880.4 663.5 L880.8 671.9 L881.1 669.9 L881.4 673.2 L881.7 665.0 L882.0 674.1 L882.3 668.3 L882.6 659.3 L882.9 643.6 L883.2 651.8 L883.6 638.5 L883.9 655.0 L884.2 650.5 L884.5 647.1 L884.8 619.5 L885.1 635.7 L885.4 635.3 L885.8 645.4 L886.1 613.7 L886.4 618.2 L886.7 611.6 L887.0 620.8 L887.3 598.6 L887.6 615.6 L887.9 599.8 L888.2 611.6 L888.6 584.7 L888.9 560.6 L889.2 573.5 L889.5 572.6 L889.8 571.4 L890.1 573.9 L890.4 574.5 L890.8 571.6 L891.1 591.1 L891.4 598.0 L891.7 621.4 L892.0 618.4 L892.3 593.8 L892.6 593.6 L892.9 619.6 L893.2 631.1 L893.6 624.1 L893.9 635.7 L894.2 673.4 L894.5 682.3 L894.8 658.3 L895.1 692.4 L895.4 701.6 L895.8 704.8 L896.1 718.3 L896.4 730.2 L896.7 737.6 L897.0 746.0 L897.3 735.4 L897.6 725.4 L897.9 721.8 L898.2 722.8 L898.6 701.6 L898.9 688.1 L899.2 672.8 L899.5 650.6 L899.8 641.4 L900.1 614.8 L900.4 633.5 L900.8 627.8 L901.1 617.5 L901.4 601.9 L901.7 600.6 L902.0 588.5 L902.3 597.9 L902.6 590.1 L902.9 584.3 L903.2 580.7 L903.6 582.6 L903.9 570.9 L904.2 575.1 L904.5 580.0 L904.8 589.4 L905.1 578.6 L905.4 596.0 L905.8 576.6 L906.1 593.6 L906.4 578.7 L906.7 588.2 L907.0 597.3 L907.3 595.3 L907.6 592.9 L907.9 603.3 L908.2 614.6 L908.6 617.8 L908.9 603.5 L909.2 591.7 L909.5 618.5 L909.8 598.5 L910.1 643.0 L910.4 632.4 L910.8 613.0 L911.1 651.4 L911.4 639.4 L911.7 661.7 L912.0 638.2 L912.3 639.8 L912.6 651.2 L912.9 669.9 L913.2 652.8 L913.6 696.8 L913.9 675.6 L914.2 692.4 L914.5 674.8 L914.8 673.8 L915.1 670.6 L915.4 671.8 L915.8 687.9 L916.1 695.8 L916.4 683.4 L916.7 677.4 L917.0 695.5 L917.3 691.5 L917.6 665.7 L917.9 673.8 L918.2 638.7 L918.6 644.7 L918.9 638.9 L919.2 623.6 L919.5 625.0 L919.8 650.5 L920.1 649.6 L920.4 656.7 L920.8 648.1 L921.1 660.7 L921.4 690.1 L921.7 674.3 L922.0 679.6 L922.3 664.2 L922.6 664.6 L922.9 665.2 L923.2 660.4 L923.6 664.0 L923.9 643.2 L924.2 651.5 L924.5 627.9 L924.8 648.2 L925.1 638.9 L925.4 624.5 L925.8 631.9 L926.1 628.2 L926.4 635.4 L926.7 622.0 L927.0 640.4 L927.3 662.3 L927.6 649.8 L927.9 645.0 L928.2 637.6 L928.6 655.5 L928.9 651.2 L929.2 658.2 L929.5 648.8 L929.8 656.8 L930.1 606.6 L930.4 618.1 L930.8 587.6 L931.1 578.9 L931.4 575.1 L931.7 563.5 L932.0 565.0 L932.3 564.9 L932.6 563.4 L932.9 600.6 L933.2 578.7 L933.6 587.2 L933.9 598.2 L934.2 603.8 L934.5 628.3 L934.8 632.4 L935.1 631.7 L935.4 628.5 L935.8 626.0 L936.1 608.7 L936.4 597.7 L936.7 600.2 L937.0 583.2 L937.3 585.9 L937.6 587.1 L937.9 578.0 L938.2 570.0 L938.6 566.8 L938.9 564.6 L939.2 582.8 L939.5 595.1 L939.8 590.3 L940.1 602.3 L940.4 598.2 L940.8 591.6 L941.1 611.2 L941.4 605.7 L941.7 595.3 L942.0 613.7 L942.3 620.1 L942.6 609.9 L942.9 602.9 L943.2 612.6 L943.6 594.3 L943.9 588.9 L944.2 562.2 L944.5 559.0 L944.8 573.1 L945.1 550.9 L945.4 542.1 L945.8 550.4 L946.1 542.0 L946.4 527.2 L946.7 541.0 L947.0 510.3 L947.3 515.2 L947.6 512.1 L947.9 511.1 L948.2 512.2 L948.6 506.0 L948.9 508.4 L949.2 521.5 L949.5 517.9 L949.8 517.0 L950.1 535.2 L950.4 557.7 L950.8 536.5 L951.1 523.4 L951.4 543.7 L951.7 550.3 L952.0 546.6 L952.3 555.2 L952.6 565.3 L952.9 584.5 L953.2 577.3 L953.6 571.0 L953.9 563.2 L954.2 575.3 L954.5 568.9 L954.8 586.7 L955.1 587.1 L955.4 591.4 L955.8 597.9 L956.1 585.1 L956.4 596.7 L956.7 598.3 L957.0 582.9 L957.3 610.9 L957.6 597.2 L957.9 601.6 L958.2 606.0 L958.6 595.2 L958.9 608.3 L959.2 606.5 L959.5 598.4 L959.8 608.4 L960.1 618.4 L960.4 617.5 L960.8 609.2 L961.1 608.3 L961.4 597.8 L961.7 610.2 L962.0 606.1 L962.3 616.9 L962.6 607.1 L962.9 592.2 L963.2 586.6 L963.6 587.2 L963.9 591.4 L964.2 580.9 L964.5 571.7 L964.8 575.6 L965.1 573.3 L965.4 569.9 L965.8 578.5 L966.1 582.7 L966.4 596.4 L966.7 577.9 L967.0 583.0 L967.3 572.9 L967.6 569.7 L967.9 574.8 L968.2 579.2 L968.6 573.1 L968.9 581.6 L969.2 579.9 L969.5 569.7 L969.8 582.1 L970.1 574.3 L970.4 576.3 L970.8 593.4 L971.1 606.5 L971.4 591.9 L971.7 608.9 L972.0 603.1 L972.3 605.5 L972.6 598.6 L972.9 623.4 L973.2 606.9 L973.6 585.4 L973.9 603.5 L974.2 611.1 L974.5 604.8 L974.8 623.6 L975.1 592.2 L975.4 612.6 L975.8 637.8 L976.1 658.2 L976.4 638.7 L976.7 671.2 L977.0 672.0 L977.3 688.0 L977.6 672.2 L977.9 680.0 L978.2 679.4 L978.6 659.6 L978.9 638.3 L979.2 615.0 L979.5 634.0 L979.8 626.2 L980.1 611.9 L980.4 610.1 L980.8 607.1 L981.1 611.2 L981.4 619.4 L981.7 604.7 L982.0 632.5 L982.3 649.6 L982.6 636.4 L982.9 637.9 L983.2 653.9 L983.6 647.1 L983.9 666.8 L984.2 677.4 L984.5 651.8 L984.8 696.3 L985.1 684.4 L985.4 672.5 L985.8 688.9 L986.1 690.1 L986.4 689.5 L986.7 674.3 L987.0 687.0 L987.3 697.7 L987.6 717.8 L987.9 711.7 L988.2 716.3 L988.6 716.0 L988.9 741.9 L989.2 715.1 L989.5 738.1 L989.8 749.3 L990.1 746.0 L990.4 750.1 L990.8 746.8 L991.1 749.5 L991.4 740.9 L991.7 740.5 L992.0 729.5 L992.3 747.0 L992.6 745.8 L992.9 742.2 L993.2 743.5 L993.6 730.3 L993.9 745.5 L994.2 727.7 L994.5 731.2 L994.8 734.4 L995.1 737.2 L995.4 724.3 L995.8 706.6 L996.1 698.6 L996.4 697.3 L996.7 700.1 L997.0 693.2 L997.3 691.2 L997.6 690.8 L997.9 684.9 L998.2 684.0 L998.6 682.8 L998.9 685.5 L999.2 680.5 L999.5 693.9 L999.8 694.4 L1000.1 702.7 L1000.4 728.5 L1000.8 716.2 L1001.1 704.5 L1001.4 731.4 L1001.7 720.1 L1002.0 725.2 L1002.3 747.8 L1002.6 722.5 L1002.9 744.0 L1003.2 766.5 L1003.6 775.5 L1003.9 763.0 L1004.2 771.1 L1004.5 783.6 L1004.8 805.1 L1005.1 778.9 L1005.4 821.5 L1005.8 822.3 L1006.1 835.7 L1006.4 815.7 L1006.7 851.9 L1007.0 842.7 L1007.3 854.8 L1007.6 855.3 L1007.9 852.0 L1008.2 866.2 L1008.6 866.2 L1008.9 861.8 L1009.2 840.2 L1009.5 823.8 L1009.8 829.5 L1010.1 805.2 L1010.4 808.5 L1010.8 805.1 L1011.1 777.9 L1011.4 772.9 L1011.7 764.7 L1012.0 745.6 L1012.3 759.7 L1012.6 755.7 L1012.9 745.6 L1013.2 732.6 L1013.6 741.9 L1013.9 730.0 L1014.2 731.9 L1014.5 727.6 L1014.8 739.5 L1015.1 746.8 L1015.4 747.4 L1015.8 757.9 L1016.1 776.2 L1016.4 784.8 L1016.7 777.0 L1017.0 795.4 L1017.3 784.9 L1017.6 810.5 L1017.9 818.9 L1018.2 814.8 L1018.6 839.4 L1018.9 865.2 L1019.2 869.1 L1019.5 888.6 L1019.8 877.0 L1020.1 864.6 L1020.4 853.6 L1020.8 837.7 L1021.1 845.8 L1021.4 808.2 L1021.7 797.7 L1022.0 786.0 L1022.3 779.9 L1022.6 792.5 L1022.9 796.1 L1023.2 770.7 L1023.6 770.6 L1023.9 769.3 L1024.2 756.0 L1024.5 763.3 L1024.8 755.4 L1025.1 756.7 L1025.4 745.6 L1025.8 753.6 L1026.1 764.6 L1026.4 787.2 L1026.7 766.6 L1027.0 800.1 L1027.3 814.9 L1027.6 801.2 L1027.9 812.0 L1028.2 807.6 L1028.6 815.8 L1028.9 822.3 L1029.2 826.7 L1029.5 815.1 L1029.8 796.1 L1030.1 805.7 L1030.4 783.2 L1030.8 811.5 L1031.1 801.9 L1031.4 777.9 L1031.7 759.8 L1032.0 761.8 L1032.3 746.9 L1032.6 751.6 L1032.9 750.2 L1033.2 777.5 L1033.6 714.4 L1033.9 723.4 L1034.2 740.5 L1034.5 743.7 L1034.8 737.1 L1035.1 712.3 L1035.4 727.4 L1035.8 703.6 L1036.1 698.3 L1036.4 710.2 L1036.7 707.2 L1037.0 707.1 L1037.3 694.8 L1037.6 695.1 L1037.9 702.0 L1038.2 703.8 L1038.6 718.8 L1038.9 706.1 L1039.2 720.3 L1039.5 720.8 L1039.8 726.0 L1040.1 747.6 L1040.4 739.2 L1040.8 715.3 L1041.1 753.0 L1041.4 749.3 L1041.7 752.1 L1042.0 734.5 L1042.3 707.5 L1042.6 721.3 L1042.9 723.8 L1043.2 724.4 L1043.6 737.3 L1043.9 762.7 L1044.2 753.4 L1044.5 767.7 L1044.8 787.1 L1045.1 773.9 L1045.4 796.7 L1045.8 793.0 L1046.1 788.6 L1046.4 796.8 L1046.7 803.5 L1047.0 814.4 L1047.3 815.1 L1047.6 817.2 L1047.9 814.9 L1048.2 808.1 L1048.6 795.5 L1048.9 779.0 L1049.2 738.8 L1049.5 701.6 L1049.8 696.0 L1050.1 679.1 L1050.4 653.5 L1050.8 664.3 L1051.1 665.4 L1051.4 629.7 L1051.7 619.2 L1052.0 613.9 L1052.3 601.7 L1052.6 615.5 L1052.9 600.3 L1053.2 607.1 L1053.6 598.3 L1053.9 600.8 L1054.2 590.0 L1054.5 607.7 L1054.8 611.5 L1055.1 627.5 L1055.4 632.9 L1055.8 628.9 L1056.1 657.8 L1056.4 670.4 L1056.7 677.1 L1057.0 654.5 L1057.3 673.7 L1057.6 666.0 L1057.9 681.7 L1058.2 694.4 L1058.6 674.5 L1058.9 707.0 L1059.2 699.4 L1059.5 701.3 L1059.8 705.7 L1060.1 704.0 L1060.4 696.4 L1060.8 679.0 L1061.1 687.9 L1061.4 670.4 L1061.7 673.1 L1062.0 688.5 L1062.3 659.9 L1062.6 650.2 L1062.9 660.9 L1063.2 643.0 L1063.6 636.9 L1063.9 633.3 L1064.2 644.3 L1064.5 650.6 L1064.8 676.7 L1065.1 682.3 L1065.4 705.8 L1065.8 709.2 L1066.1 705.4 L1066.4 700.3 L1066.7 714.1 L1067.0 711.5 L1067.3 737.5 L1067.6 725.5 L1067.9 709.6 L1068.2 739.5 L1068.6 755.4 L1068.9 745.6 L1069.2 765.1 L1069.5 743.9 L1069.8 758.2 L1070.1 752.2 L1070.4 760.0 L1070.8 766.8 L1071.1 762.8 L1071.4 771.0 L1071.7 762.3 L1072.0 767.0 L1072.3 762.2 L1072.6 747.5 L1072.9 747.1 L1073.2 757.0 L1073.6 762.1 L1073.9 729.4 L1074.2 716.2 L1074.5 714.5 L1074.8 705.2 L1075.1 714.6 L1075.4 705.2 L1075.8 722.9 L1076.1 705.2 L1076.4 731.9 L1076.7 749.8 L1077.0 735.6 L1077.3 731.1 L1077.6 743.4 L1077.9 736.6 L1078.2 758.6 L1078.6 724.6 L1078.9 729.1 L1079.2 751.0 L1079.5 744.1 L1079.8 747.8 L1080.1 751.8 L1080.4 738.0 L1080.8 734.0 L1081.1 731.6 L1081.4 738.0 L1081.7 747.3 L1082.0 743.2 L1082.3 747.0 L1082.6 738.2 L1082.9 728.6 L1083.2 733.1 L1083.6 746.4 L1083.9 749.1 L1084.2 777.6 L1084.5 787.9 L1084.8 802.3 L1085.1 776.7 L1085.4 780.5 L1085.8 780.6 L1086.1 789.6 L1086.4 797.0 L1086.7 798.7 L1087.0 784.0 L1087.3 797.2 L1087.6 783.0 L1087.9 802.6 L1088.2 776.3 L1088.6 768.0 L1088.9 777.3 L1089.2 759.7 L1089.5 760.9 L1089.8 744.5 L1090.1 763.3 L1090.4 724.0 L1090.8 736.9 L1091.1 768.7 L1091.4 777.7 L1091.7 793.1 L1092.0 805.3 L1092.3 810.7 L1092.6 771.7 L1092.9 750.3 L1093.2 693.0 L1093.6 682.4 L1093.9 662.4 L1094.2 654.0 L1094.5 632.7 L1094.8 633.5 L1095.1 610.7 L1095.4 611.3 L1095.8 615.8 L1096.1 607.2 L1096.4 630.7 L1096.7 615.6 L1097.0 646.4 L1097.3 629.6 L1097.6 664.1 L1097.9 672.9 L1098.2 667.2 L1098.6 668.3 L1098.9 681.6 L1099.2 661.3 L1099.5 674.5 L1099.8 662.3 L1100.1 683.2 L1100.4 651.5 L1100.8 659.9 L1101.1 646.7 L1101.4 646.1 L1101.7 646.8 L1102.0 640.1 L1102.3 655.8 L1102.6 701.7 L1102.9 688.2 L1103.2 675.9 L1103.6 701.6 L1103.9 697.8 L1104.2 716.5 L1104.5 718.2 L1104.8 722.4 L1105.1 726.5 L1105.4 725.0 L1105.8 728.2 L1106.1 713.1 L1106.4 698.7 L1106.7 696.4 L1107.0 720.0 L1107.3 689.4 L1107.6 708.7 L1107.9 674.7 L1108.2 676.2 L1108.6 646.5 L1108.9 660.9 L1109.2 652.2 L1109.5 671.8 L1109.8 666.1 L1110.1 645.8 L1110.4 657.4 L1110.8 651.9 L1111.1 658.9 L1111.4 670.9 L1111.7 691.6 L1112.0 669.0 L1112.3 713.2 L1112.6 715.4 L1112.9 691.5 L1113.2 713.9 L1113.6 733.0 L1113.9 761.1 L1114.2 750.7 L1114.5 748.0 L1114.8 757.5 L1115.1 753.9 L1115.4 739.1 L1115.8 738.7 L1116.1 716.1 L1116.4 708.3 L1116.7 711.5 L1117.0 691.5 L1117.3 680.6 L1117.6 658.1 L1117.9 677.6 L1118.2 641.6 L1118.6 632.7 L1118.9 642.2 L1119.2 633.3 L1119.5 630.7 L1119.8 629.5 L1120.1 633.9 L1120.4 638.5 L1120.8 664.9 L1121.1 679.8 L1121.4 655.0 L1121.7 695.5 L1122.0 700.5 L1122.3 681.2 L1122.6 696.5 L1122.9 687.1 L1123.2 705.1 L1123.6 694.9 L1123.9 695.2 L1124.2 682.2 L1124.5 693.0 L1124.8 670.0 L1125.1 671.7 L1125.4 660.3 L1125.8 676.6 L1126.1 697.1 L1126.4 667.7 L1126.7 661.3 L1127.0 640.3 L1127.3 643.2 L1127.6 638.0 L1127.9 636.6 L1128.2 636.7 L1128.6 645.1 L1128.9 648.1 L1129.2 642.8 L1129.5 651.5 L1129.8 673.0 L1130.1 683.9 L1130.4 677.7 L1130.8 664.1 L1131.1 684.0 L1131.4 690.8 L1131.7 707.7 L1132.0 703.7 L1132.3 702.9 L1132.6 712.1 L1132.9 713.8 L1133.2 700.2 L1133.6 694.7 L1133.9 693.2 L1134.2 688.5 L1134.5 685.2 L1134.8 647.4 L1135.1 681.5 L1135.4 684.7 L1135.8 676.6 L1136.1 667.5 L1136.4 658.2 L1136.7 656.5 L1137.0 660.6 L1137.3 642.0 L1137.6 653.6 L1137.9 662.4 L1138.2 664.6 L1138.6 686.0 L1138.9 663.8 L1139.2 665.7 L1139.5 682.5 L1139.8 680.1 L1140.1 705.7 L1140.4 677.1 L1140.8 686.7 L1141.1 710.0 L1141.4 729.6 L1141.7 721.2 L1142.0 736.7 L1142.3 712.1 L1142.6 732.6 L1142.9 726.5 L1143.2 726.2 L1143.6 725.1 L1143.9 711.0 L1144.2 691.8 L1144.5 694.6 L1144.8 703.6 L1145.1 662.8 L1145.4 643.9 L1145.8 645.5 L1146.1 619.6 L1146.4 620.6 L1146.7 624.5 L1147.0 647.5 L1147.3 639.7 L1147.6 652.5 L1147.9 665.6 L1148.2 679.2 L1148.6 662.4 L1148.9 655.9 L1149.2 626.7 L1149.5 634.8 L1149.8 626.5 L1150.1 603.6 L1150.4 578.7 L1150.8 564.8 L1151.1 549.0 L1151.4 553.6 L1151.7 547.0 L1152.0 555.3 L1152.3 565.5 L1152.6 575.1 L1152.9 591.5 L1153.2 578.6 L1153.6 596.3 L1153.9 581.2 L1154.2 601.3 L1154.5 595.7 L1154.8 600.8 L1155.1 638.4 L1155.4 639.6 L1155.8 646.1 L1156.1 642.7 L1156.4 636.9 L1156.7 648.6 L1157.0 656.6 L1157.3 664.1 L1157.6 671.2 L1157.9 681.3 L1158.2 679.9 L1158.6 697.3 L1158.9 697.3 L1159.2 689.1 L1159.5 663.1 L1159.8 659.2 L1160.1 673.5 L1160.4 655.7 L1160.8 657.1 L1161.1 655.9 L1161.4 649.1 L1161.7 655.6 L1162.0 672.9 L1162.3 679.6 L1162.6 673.7 L1162.9 709.0 L1163.2 703.1 L1163.6 695.8 L1163.9 703.1 L1164.2 710.3 L1164.5 684.7 L1164.8 676.8 L1165.1 689.7 L1165.4 698.6 L1165.8 665.1 L1166.1 694.9 L1166.4 677.0 L1166.7 685.4 L1167.0 660.3 L1167.3 662.3 L1167.6 671.0 L1167.9 679.5 L1168.2 645.1 L1168.6 668.6 L1168.9 623.1 L1169.2 643.2 L1169.5 649.7 L1169.8 638.6 L1170.1 643.7 L1170.4 615.0 L1170.8 631.6 L1171.1 636.7 L1171.4 620.4 L1171.7 615.4 L1172.0 621.7 L1172.3 621.3 L1172.6 616.5 L1172.9 639.2 L1173.2 625.8 L1173.6 618.4 L1173.9 634.6 L1174.2 635.1 L1174.5 646.9 L1174.8 656.8 L1175.1 648.4 L1175.4 659.8 L1175.8 672.6 L1176.1 698.7 L1176.4 677.5 L1176.7 697.5 L1177.0 708.5 L1177.3 716.9 L1177.6 699.5 L1177.9 722.3 L1178.2 742.0 L1178.6 743.7 L1178.9 738.0 L1179.2 749.1 L1179.5 777.1 L1179.8 775.1 L1180.1 783.9 L1180.4 812.9 L1180.8 807.5 L1181.1 807.4 L1181.4 813.2 L1181.7 822.6 L1182.0 809.1 L1182.3 794.4 L1182.6 803.2 L1182.9 765.8 L1183.2 771.6 L1183.6 766.2 L1183.9 744.7 L1184.2 738.3 L1184.5 738.5 L1184.8 727.2 L1185.1 726.1 L1185.4 737.2 L1185.8 718.3 L1186.1 749.5 L1186.4 735.0 L1186.7 741.0 L1187.0 736.6 L1187.3 744.0 L1187.6 728.2 L1187.9 733.6 L1188.2 747.0 L1188.6 738.9 L1188.9 723.6 L1189.2 733.0 L1189.5 702.7 L1189.8 689.2 L1190.1 670.3 L1190.4 660.8 L1190.8 635.6 L1191.1 638.9 L1191.4 643.5 L1191.7 628.3 L1192.0 627.9 L1192.3 626.3 L1192.6 618.1 L1192.9 602.8 L1193.2 601.1 L1193.6 597.3 L1193.9 587.3 L1194.2 589.1 L1194.5 589.7 L1194.8 587.8 L1195.1 588.9 L1195.4 590.7 L1195.8 606.7 L1196.1 620.5 L1196.4 623.8 L1196.7 622.2 L1197.0 618.0 L1197.3 636.7 L1197.6 630.4 L1197.9 633.9 L1198.2 659.0 L1198.6 631.4 L1198.9 640.4 L1199.2 646.1 L1199.5 630.7 L1199.8 639.5 L1200.1 655.5 L1200.4 658.2 L1200.8 650.8 L1201.1 655.7 L1201.4 639.5 L1201.7 654.5 L1202.0 630.3 L1202.3 633.2 L1202.6 654.4 L1202.9 645.1 L1203.2 640.0 L1203.6 635.4 L1203.9 615.0 L1204.2 610.1 L1204.5 628.7 L1204.8 633.2 L1205.1 604.2 L1205.4 612.3 L1205.8 600.5 L1206.1 606.6 L1206.4 630.0 L1206.7 627.5 L1207.0 616.3 L1207.3 622.6 L1207.6 599.9 L1207.9 609.9 L1208.2 618.9 L1208.6 593.8 L1208.9 593.6 L1209.2 602.2 L1209.5 601.0 L1209.8 610.1 L1210.1 607.1 L1210.4 588.6 L1210.8 576.0 L1211.1 591.6 L1211.4 600.9 L1211.7 600.9 L1212.0 598.0 L1212.3 589.8 L1212.6 596.1 L1212.9 578.2 L1213.2 580.7 L1213.6 570.0 L1213.9 574.9 L1214.2 571.4 L1214.5 578.1 L1214.8 566.1 L1215.1 579.7 L1215.4 597.0 L1215.8 570.8 L1216.1 617.3 L1216.4 612.8 L1216.7 613.2 L1217.0 630.5 L1217.3 630.6 L1217.6 645.1 L1217.9 676.5 L1218.2 663.8 L1218.6 668.0 L1218.9 670.9 L1219.2 682.5 L1219.5 681.9 L1219.8 695.9 L1220.1 698.8 L1220.4 722.7 L1220.8 719.9 L1221.1 718.7 L1221.4 712.1 L1221.7 699.1 L1222.0 676.4 L1222.3 707.8 L1222.6 669.1 L1222.9 703.0 L1223.2 649.7 L1223.6 658.7 L1223.9 658.3 L1224.2 641.4 L1224.5 639.0 L1224.8 635.6 L1225.1 644.9 L1225.4 641.1 L1225.8 670.8 L1226.1 678.5 L1226.4 687.1 L1226.7 681.3 L1227.0 677.5 L1227.3 674.9 L1227.6 715.6 L1227.9 710.8 L1228.2 712.5 L1228.6 716.9 L1228.9 731.3 L1229.2 699.9 L1229.5 739.3 L1229.8 724.9 L1230.1 707.8 L1230.4 751.1 L1230.8 735.4 L1231.1 757.9 L1231.4 741.7 L1231.7 749.4 L1232.0 783.5 L1232.3 777.6 L1232.6 789.2 L1232.9 772.9 L1233.2 807.3 L1233.6 795.8 L1233.9 818.6 L1234.2 805.8 L1234.5 823.0 L1234.8 833.6 L1235.1 825.9 L1235.4 846.0 L1235.8 843.8 L1236.1 851.5 L1236.4 857.7 L1236.7 854.4 L1237.0 849.8 L1237.3 826.6 L1237.6 796.2 L1237.9 787.6 L1238.2 758.9 L1238.6 750.1 L1238.9 717.8 L1239.2 720.5 L1239.5 702.6 L1239.8 707.4 L1240.1 716.7 L1240.4 725.7 L1240.8 750.1 L1241.1 741.1 L1241.4 733.8 L1241.7 734.7 L1242.0 735.0 L1242.3 735.8 L1242.6 711.8 L1242.9 713.9 L1243.2 726.7 L1243.6 702.4 L1243.9 708.2 L1244.2 709.8 L1244.5 722.2 L1244.8 723.0 L1245.1 761.1 L1245.4 766.9 L1245.8 769.4 L1246.1 762.9 L1246.4 775.6 L1246.7 785.1 L1247.0 798.3 L1247.3 803.6 L1247.6 808.7 L1247.9 800.7 L1248.2 788.2 L1248.6 778.3 L1248.9 785.6 L1249.2 781.7 L1249.5 751.8 L1249.8 771.2 L1250.1 740.9 L1250.4 742.6 L1250.8 744.6 L1251.1 702.5 L1251.4 718.7 L1251.7 726.6 L1252.0 729.3 L1252.3 717.2 L1252.6 723.9 L1252.9 697.5 L1253.2 699.3 L1253.6 712.8 L1253.9 672.7 L1254.2 675.9 L1254.5 671.0 L1254.8 675.2 L1255.1 679.0 L1255.4 660.9 L1255.8 640.9 L1256.1 636.9 L1256.4 635.3 L1256.7 641.3 L1257.0 647.0 L1257.3 646.6 L1257.6 652.9 L1257.9 646.5 L1258.2 667.6 L1258.6 681.5 L1258.9 667.0 L1259.2 675.9 L1259.5 673.8 L1259.8 680.8 L1260.1 643.4 L1260.4 641.1 L1260.8 627.7 L1261.1 623.2 L1261.4 634.6 L1261.7 621.1 L1262.0 629.3 L1262.3 633.7 L1262.6 640.8 L1262.9 631.9 L1263.2 642.1 L1263.6 659.1 L1263.9 701.9 L1264.2 699.5 L1264.5 682.9 L1264.8 693.2 L1265.1 701.8 L1265.4 684.0 L1265.8 679.6 L1266.1 693.7 L1266.4 688.2 L1266.7 682.0 L1267.0 662.1 L1267.3 653.0 L1267.6 651.4 L1267.9 635.5 L1268.2 644.1 L1268.6 633.5 L1268.9 632.9 L1269.2 619.7 L1269.5 626.7 L1269.8 647.5 L1270.1 664.2 L1270.4 670.3 L1270.8 701.0 L1271.1 728.7 L1271.4 722.5 L1271.7 732.9 L1272.0 743.1 L1272.3 740.3 L1272.6 750.1 L1272.9 746.3 L1273.2 729.5 L1273.6 736.3 L1273.9 722.4 L1274.2 746.1 L1274.5 723.4 L1274.8 726.1 L1275.1 737.7 L1275.4 701.5 L1275.8 724.9 L1276.1 735.8 L1276.4 737.7 L1276.7 742.9 L1277.0 759.5 L1277.3 740.9 L1277.6 750.1 L1277.9 766.0 L1278.2 756.9 L1278.6 764.6 L1278.9 763.1 L1279.2 748.1 L1279.5 743.3 L1279.8 745.1 L1280.1 750.5 L1280.4 737.6 L1280.8 713.8 L1281.1 719.5 L1281.4 715.9 L1281.7 709.9 L1282.0 715.2 L1282.3 705.0 L1282.6 709.6 L1282.9 707.9 L1283.2 710.0 L1283.6 720.0 L1283.9 731.9 L1284.2 721.4 L1284.5 714.0 L1284.8 740.9 L1285.1 732.3 L1285.4 745.2 L1285.8 734.4 L1286.1 739.9 L1286.4 742.6 L1286.7 745.2 L1287.0 708.4 L1287.3 696.5 L1287.6 699.6 L1287.9 705.9 L1288.2 717.5 L1288.6 700.1 L1288.9 701.8 L1289.2 709.1 L1289.5 701.6 L1289.8 713.8 L1290.1 722.9 L1290.4 724.4 L1290.8 723.7 L1291.1 719.6 L1291.4 728.9 L1291.7 725.1 L1292.0 735.7 L1292.3 728.5 L1292.6 727.2 L1292.9 725.7 L1293.2 731.6 L1293.6 720.3 L1293.9 732.3 L1294.2 731.0 L1294.5 728.1 L1294.8 720.1 L1295.1 673.9 L1295.4 685.1 L1295.8 670.3 L1296.1 657.1 L1296.4 692.8 L1296.7 660.0 L1297.0 651.0 L1297.3 634.6 L1297.6 623.8 L1297.9 638.4 L1298.2 626.7 L1298.6 638.6 L1298.9 635.6 L1299.2 659.3 L1299.5 658.3 L1299.8 656.7 L1300.1 642.3 L1300.4 684.0 L1300.8 699.9 L1301.1 703.5 L1301.4 698.3 L1301.7 700.7 L1302.0 706.4 L1302.3 709.3 L1302.6 701.7 L1302.9 692.9 L1303.2 683.7 L1303.6 684.3 L1303.9 673.6 L1304.2 674.1 L1304.5 698.3 L1304.8 669.6 L1305.1 659.1 L1305.4 659.9 L1305.8 665.3 L1306.1 652.4 L1306.4 648.2 L1306.7 657.8 L1307.0 666.0 L1307.3 668.7 L1307.6 671.2 L1307.9 698.7 L1308.2 690.9 L1308.6 720.8 L1308.9 710.2 L1309.2 697.3 L1309.5 701.2 L1309.8 726.0 L1310.1 707.5 L1310.4 717.5 L1310.8 720.7 L1311.1 724.1 L1311.4 725.2 L1311.7 722.8 L1312.0 697.9 L1312.3 709.3 L1312.6 700.7 L1312.9 682.7 L1313.2 662.7 L1313.6 675.1 L1313.9 666.6 L1314.2 642.4 L1314.5 643.4 L1314.8 655.8 L1315.1 653.4 L1315.4 661.3 L1315.8 678.6 L1316.1 672.1 L1316.4 705.9 L1316.7 690.2 L1317.0 697.5 L1317.3 715.9 L1317.6 736.6 L1317.9 719.1 L1318.2 738.9 L1318.6 724.0 L1318.9 742.9 L1319.2 745.6 L1319.5 743.3 L1319.8 744.1 L1320.1 744.4 L1320.4 727.0 L1320.8 751.0 L1321.1 749.3 L1321.4 748.7 L1321.7 752.3 L1322.0 755.1 L1322.3 744.7 L1322.6 729.1 L1322.9 725.0 L1323.2 725.3 L1323.6 717.5 L1323.9 697.2 L1324.2 684.7 L1324.5 705.0 L1324.8 697.7 L1325.1 694.0 L1325.4 675.9 L1325.8 660.1 L1326.1 664.0 L1326.4 661.2 L1326.7 667.5 L1327.0 668.0 L1327.3 669.6 L1327.6 691.7 L1327.9 706.7 L1328.2 719.7 L1328.6 732.1 L1328.9 747.8 L1329.2 751.4 L1329.5 742.5 L1329.8 741.8 L1330.1 710.1 L1330.4 689.2 L1330.8 683.8 L1331.1 665.1 L1331.4 693.7 L1331.7 664.6 L1332.0 651.6 L1332.3 642.9 L1332.6 616.5 L1332.9 618.8 L1333.2 582.3 L1333.6 594.5 L1333.9 573.3 L1334.2 555.1 L1334.5 564.1 L1334.8 566.9 L1335.1 575.1 L1335.4 576.5 L1335.8 615.5 L1336.1 592.4 L1336.4 628.1 L1336.7 652.6 L1337.0 658.2 L1337.3 663.0 L1337.6 670.8 L1337.9 671.6 L1338.2 697.9 L1338.6 709.9 L1338.9 705.3 L1339.2 710.8 L1339.5 733.6 L1339.8 727.6 L1340.1 733.7 L1340.4 742.0 L1340.8 731.5 L1341.1 728.8 L1341.4 729.9 L1341.7 737.0 L1342.0 733.9 L1342.3 733.5 L1342.6 706.8 L1342.9 733.3 L1343.2 739.7 L1343.6 740.9 L1343.9 743.3 L1344.2 729.3 L1344.5 700.0 L1344.8 710.5 L1345.1 715.7 L1345.4 715.8 L1345.8 712.7 L1346.1 727.1 L1346.4 701.4 L1346.7 691.9 L1347.0 724.0 L1347.3 717.6 L1347.6 719.1 L1347.9 723.3 L1348.2 710.1 L1348.6 685.7 L1348.9 669.7 L1349.2 683.3 L1349.5 645.9 L1349.8 644.7 L1350.1 626.9 L1350.4 607.1 L1350.8 630.2 L1351.1 608.7 L1351.4 650.8 L1351.7 625.9 L1352.0 637.9 L1352.3 645.6 L1352.6 656.9 L1352.9 658.1 L1353.2 640.1 L1353.6 628.8 L1353.9 633.1 L1354.2 624.9 L1354.5 597.8 L1354.8 604.9 L1355.1 591.4 L1355.4 583.5 L1355.8 583.6 L1356.1 589.8 L1356.4 618.1 L1356.7 598.9 L1357.0 636.6 L1357.3 672.3 L1357.6 667.3 L1357.9 704.1 L1358.2 706.9 L1358.6 679.2 L1358.9 680.4 L1359.2 678.3 L1359.5 674.0 L1359.8 671.1 L1360.1 673.2 L1360.4 677.3 L1360.8 657.9 L1361.1 669.1 L1361.4 679.6 L1361.7 681.8 L1362.0 706.7 L1362.3 701.6 L1362.6 712.0 L1362.9 737.3 L1363.2 733.8 L1363.6 734.8 L1363.9 732.4 L1364.2 720.0 L1364.5 697.9 L1364.8 699.8 L1365.1 710.6 L1365.4 719.5 L1365.8 700.9 L1366.1 695.7 L1366.4 696.3 L1366.7 701.9 L1367.0 696.1 L1367.3 714.0 L1367.6 728.1 L1367.9 729.1 L1368.2 721.5 L1368.6 753.9 L1368.9 737.3 L1369.2 775.0 L1369.5 772.2 L1369.8 776.4 L1370.1 785.1 L1370.4 785.8 L1370.8 779.3 L1371.1 778.6 L1371.4 770.5 L1371.7 761.9 L1372.0 748.4 L1372.3 746.8 L1372.6 750.9 L1372.9 763.7 L1373.2 772.1 L1373.6 780.0 L1373.9 798.6 L1374.2 803.6 L1374.5 824.9 L1374.8 825.8 L1375.1 840.0 L1375.4 839.7 L1375.8 839.2 L1376.1 855.5 L1376.4 860.8 L1376.7 869.3 L1377.0 872.0 L1377.3 894.5 L1377.6 870.2 L1377.9 870.9 L1378.2 894.5 L1378.6 895.0 L1378.9 906.2 L1379.2 908.6 L1379.5 905.1 L1379.8 891.3 L1380.1 895.2 L1380.4 898.2 L1380.8 882.6 L1381.1 890.0 L1381.4 902.0 L1381.7 892.4 L1382.0 885.5 L1382.3 888.9 L1382.6 872.1 L1382.9 872.6 L1383.2 871.1 L1383.6 878.3 L1383.9 874.2 L1384.2 877.8 L1384.5 888.2 L1384.8 911.8 L1385.1 903.2 L1385.4 920.0 L1385.8 882.1 L1386.1 918.4 L1386.4 934.8 L1386.7 923.6 L1387.0 940.8 L1387.3 947.6 L1387.6 953.1 L1387.9 967.1 L1388.2 957.8 L1388.6 955.6 L1388.9 958.9 L1389.2 968.2 L1389.5 978.4 L1389.8 975.7 L1390.1 967.1 L1390.4 973.9 L1390.8 975.4 L1391.1 970.2 L1391.4 965.5 L1391.7 958.5 L1392.0 973.2 L1392.3 950.3 L1392.6 958.5 L1392.9 939.9 L1393.2 958.0 L1393.6 945.7 L1393.9 952.5 L1394.2 939.8 L1394.5 921.5 L1394.8 930.3 L1395.1 912.0 L1395.4 911.6 L1395.8 913.4 L1396.1 920.1 L1396.4 913.0 L1396.7 907.5 L1397.0 929.6 L1397.3 900.7 L1397.6 899.8 L1397.9 889.9 L1398.2 882.9 L1398.6 882.3 L1398.9 888.6 L1399.2 878.7 L1399.5 873.5 L1399.8 861.0 L1400.1 837.0 L1400.4 830.0 L1400.8 821.1 L1401.1 810.4 L1401.4 801.0 L1401.7 791.4 L1402.0 791.6 L1402.3 779.1 L1402.6 763.9 L1402.9 767.2 L1403.2 778.2 L1403.6 759.9 L1403.9 764.3 L1404.2 764.9 L1404.5 790.5 L1404.8 783.4 L1405.1 782.5 L1405.4 790.6 L1405.8 788.1 L1406.1 816.0 L1406.4 854.9 L1406.7 829.7 L1407.0 822.6 L1407.3 835.7 L1407.6 845.7 L1407.9 845.3 L1408.2 868.7 L1408.6 879.9 L1408.9 861.3 L1409.2 874.3 L1409.5 869.1 L1409.8 890.2 L1410.1 903.9 L1410.4 902.5 L1410.8 898.3 L1411.1 867.2 L1411.4 879.6 L1411.7 868.0 L1412.0 870.8 L1412.3 853.1 L1412.6 840.0 L1412.9 834.7 L1413.2 824.2 L1413.6 841.0 L1413.9 838.2 L1414.2 859.4 L1414.5 861.6 L1414.8 879.6 L1415.1 877.6 L1415.4 883.0 L1415.8 901.7 L1416.1 932.9 L1416.4 920.4 L1416.7 941.9 L1417.0 941.8 L1417.3 924.4 L1417.6 921.3 L1417.9 896.0 L1418.2 898.0 L1418.6 886.8 L1418.9 892.1 L1419.2 876.0 L1419.5 869.5 L1419.8 846.6 L1420.1 841.5 L1420.4 825.3 L1420.8 831.5 L1421.1 842.0 L1421.4 851.5 L1421.7 844.0 L1422.0 861.8 L1422.3 849.4 L1422.6 887.5 L1422.9 888.4 L1423.2 891.4 L1423.6 883.8 L1423.9 915.0 L1424.2 903.9 L1424.5 920.0 L1424.8 906.6 L1425.1 914.0 L1425.4 929.7 L1425.8 945.4 L1426.1 926.6 L1426.4 942.8 L1426.7 950.7 L1427.0 961.2 L1427.3 964.7 L1427.6 984.5 L1427.9 979.7 L1428.2 971.7 L1428.6 980.9 L1428.9 981.4 L1429.2 965.5 L1429.5 970.1 L1429.8 988.8 L1430.1 1005.0 L1430.4 951.8 L1430.8 977.6 L1431.1 995.0 L1431.4 976.4 L1431.7 1000.7 L1432.0 996.4 L1432.3 976.0 L1432.6 980.9 L1432.9 992.3 L1433.2 984.8 L1433.6 1007.4 L1433.9 1014.4 L1434.2 1011.2 L1434.5 1010.8 L1434.8 1008.2 L1435.1 1018.7 L1435.4 1020.1 L1435.8 1016.6 L1436.1 998.5 L1436.4 1000.1 L1436.7 1002.5 L1437.0 989.1 L1437.3 950.6 L1437.6 930.7 L1437.9 916.9 L1438.2 909.2 L1438.6 887.4 L1438.9 884.8 L1439.2 881.9 L1439.5 885.0 L1439.8 904.8 L1440.1 910.5 L1440.4 876.9 L1440.8 886.2 L1441.1 920.0 L1441.4 934.0 L1441.7 924.9 L1442.0 926.8 L1442.3 898.2 L1442.6 916.1 L1442.9 891.7 L1443.2 898.5 L1443.6 885.9 L1443.9 871.9 L1444.2 893.9 L1444.5 887.9 L1444.8 866.0 L1445.1 870.8 L1445.4 872.4 L1445.8 867.7 L1446.1 866.8 L1446.4 869.9 L1446.7 863.2 L1447.0 861.5 L1447.3 867.9 L1447.6 865.8 L1447.9 861.3 L1448.2 865.1 L1448.6 862.2 L1448.9 881.9 L1449.2 878.0 L1449.5 887.6 L1449.8 884.0 L1450.1 891.5 L1450.4 896.5 L1450.8 919.2 L1451.1 907.7 L1451.4 916.6 L1451.7 924.9 L1452.0 926.3 L1452.3 910.8 L1452.6 892.7 L1452.9 916.1 L1453.2 900.5 L1453.6 899.7 L1453.9 886.0 L1454.2 921.5 L1454.5 931.9 L1454.8 908.0 L1455.1 901.9 L1455.4 921.6 L1455.8 939.2 L1456.1 953.2 L1456.4 944.2 L1456.7 936.1 L1457.0 959.9 L1457.3 964.7 L1457.6 947.5 L1457.9 969.9 L1458.2 975.6 L1458.6 969.1 L1458.9 985.2 L1459.2 995.3 L1459.5 997.5 L1459.8 983.7 L1460.1 993.6 L1460.4 1011.3 L1460.8 1000.8 L1461.1 999.2 L1461.4 1035.7 L1461.7 992.7 L1462.0 1012.5 L1462.3 1003.6 L1462.6 1015.6 L1462.9 1043.9 L1463.2 1023.2 L1463.6 1025.2 L1463.9 1033.4 L1464.2 1035.7 L1464.5 1048.2 L1464.8 1045.5 L1465.1 1039.0 L1465.4 1039.2 L1465.8 1045.2 L1466.1 1028.4 L1466.4 1052.7 L1466.7 1052.8 L1467.0 1028.3 L1467.3 1043.6 L1467.6 1046.5 L1467.9 1032.1 L1468.2 1048.0 L1468.6 1025.4 L1468.9 1013.6 L1469.2 1032.2 L1469.5 1008.7 L1469.8 1007.9 L1470.1 992.3 L1470.4 1000.8 L1470.8 1005.3 L1471.1 1014.8 L1471.4 1010.7 L1471.7 1025.3 L1472.0 1033.3 L1472.3 1028.4 L1472.6 1034.6 L1472.9 1028.9 L1473.2 1029.9 L1473.6 1023.5 L1473.9 988.2 L1474.2 973.0 L1474.5 955.9 L1474.8 940.8 L1475.1 936.2 L1475.4 913.6 L1475.8 903.3 L1476.1 897.8 L1476.4 928.9 L1476.7 922.5 L1477.0 951.5 L1477.3 973.5 L1477.6 981.0 L1477.9 1013.1 L1478.2 1025.0 L1478.6 1044.2 L1478.9 1054.8 L1479.2 1057.7 L1479.5 1038.2 L1479.8 1024.6 L1480.1 1020.7 L1480.4 993.3 L1480.8 976.2 L1481.1 957.5 L1481.4 967.8 L1481.7 939.4 L1482.0 924.8 L1482.3 926.2 L1482.6 936.6 L1482.9 949.6 L1483.2 953.5 L1483.6 966.4 L1483.9 983.1 L1484.2 966.1 L1484.5 1008.4 L1484.8 1006.2 L1485.1 994.8 L1485.4 1006.8 L1485.8 991.9 L1486.1 991.7 L1486.4 999.5 L1486.7 1000.7 L1487.0 992.9 L1487.3 987.7 L1487.6 968.7 L1487.9 951.1 L1488.2 949.2 L1488.6 959.2 L1488.9 957.9 L1489.2 969.3 L1489.5 979.4 L1489.8 984.8 L1490.1 1010.5 L1490.4 998.2 L1490.8 998.9 L1491.1 1028.3 L1491.4 1021.3 L1491.7 1043.5 L1492.0 1056.0 L1492.3 1033.0 L1492.6 1035.5 L1492.9 1053.8 L1493.2 1027.6 L1493.6 1050.4 L1493.9 1066.7 L1494.2 1064.1 L1494.5 1082.0 L1494.8 1091.8 L1495.1 1089.7 L1495.4 1095.4 L1495.8 1101.3 L1496.1 1098.9 L1496.4 1090.7 L1496.7 1093.4 L1497.0 1088.4 L1497.3 1101.3 L1497.6 1098.7 L1497.9 1090.4 L1498.2 1098.2 L1498.6 1098.1 L1498.9 1081.4 L1499.2 1079.2 L1499.5 1074.9 L1499.8 1056.3 L1500.1 1075.8 L1500.4 1032.0 L1500.8 1063.9 L1501.1 1036.1 L1501.4 1049.2 L1501.7 1033.3 L1502.0 1034.9 L1502.3 1030.6 L1502.6 1020.2 L1502.9 1024.2 L1503.2 1026.1 L1503.6 1023.6 L1503.9 1026.4 L1504.2 1031.8 L1504.5 1025.1 L1504.8 1039.0 L1505.1 1040.6 L1505.4 1050.8 L1505.8 1045.8 L1506.1 1044.9 L1506.4 1057.0 L1506.7 1043.2 L1507.0 1045.1 L1507.3 1054.9 L1507.6 1045.7 L1507.9 1051.9 L1508.2 1034.5 L1508.6 1026.1 L1508.9 1048.3 L1509.2 1035.1 L1509.5 1022.6 L1509.8 1043.1 L1510.1 1035.7 L1510.4 1024.9 L1510.8 1035.1 L1511.1 1036.5 L1511.4 1037.0 L1511.7 1030.8 L1512.0 1030.0 L1512.3 1046.8 L1512.6 1049.7 L1512.9 1044.7 L1513.2 1044.0 L1513.6 1043.2 L1513.9 1035.1 L1514.2 1044.4 L1514.5 1046.3 L1514.8 1054.7 L1515.1 1045.4 L1515.4 1043.3 L1515.8 1014.4 L1516.1 1020.3 L1516.4 1037.1 L1516.7 1009.8 L1517.0 1028.8 L1517.3 1018.6 L1517.6 1010.4 L1517.9 1021.4 L1518.2 1013.1 L1518.6 1009.9 L1518.9 1016.4 L1519.2 1021.4 L1519.5 1022.6 L1519.8 1018.2 L1520.1 1020.4 L1520.4 1018.1 L1520.8 1027.2 L1521.1 1030.7 L1521.4 1049.2 L1521.7 1063.8 L1522.0 1060.1 L1522.3 1053.1 L1522.6 1056.0 L1522.9 1057.1 L1523.2 1055.7 L1523.6 1043.9 L1523.9 1054.2 L1524.2 1033.0 L1524.5 1041.0 L1524.8 1027.2 L1525.1 1014.8 L1525.4 1026.6 L1525.8 1031.5 L1526.1 1010.1 L1526.4 1008.4 L1526.7 1026.4 L1527.0 1003.3 L1527.3 1016.3 L1527.6 1013.7 L1527.9 999.8 L1528.2 1011.7 L1528.6 1017.3 L1528.9 1022.1 L1529.2 1028.2 L1529.5 1014.7 L1529.8 1017.0 L1530.1 1013.3 L1530.4 1015.1 L1530.8 999.2 L1531.1 987.8 L1531.4 988.7 L1531.7 979.3 L1532.0 988.3 L1532.3 993.6 L1532.6 1023.1 L1532.9 1003.4 L1533.2 1009.3 L1533.6 992.0 L1533.9 1019.2 L1534.2 1025.1 L1534.5 1023.5 L1534.8 1017.8 L1535.1 1024.8 L1535.4 1019.9 L1535.8 1023.6 L1536.1 1014.3 L1536.4 1026.7 L1536.7 1025.0 L1537.0 1024.0 L1537.3 992.4 L1537.6 975.7 L1537.9 995.0 L1538.2 968.8 L1538.6 963.6 L1538.9 965.8 L1539.2 956.8 L1539.5 959.9 L1539.8 949.0 L1540.1 964.8 L1540.4 984.2 L1540.8 981.1 L1541.1 1001.2 L1541.4 1018.1 L1541.7 1034.0 L1542.0 1032.2 L1542.3 1044.3 L1542.6 1037.7 L1542.9 1036.9 L1543.2 1037.9 L1543.6 1035.4 L1543.9 1007.2 L1544.2 1005.9 L1544.5 1006.8 L1544.8 998.3 L1545.1 991.4 L1545.4 994.7 L1545.8 990.7 L1546.1 1007.0 L1546.4 988.3 L1546.7 1014.7 L1547.0 1015.6 L1547.3 1046.1 L1547.6 1041.6 L1547.9 1045.2 L1548.2 1044.9 L1548.6 1044.5 L1548.9 1028.5 L1549.2 1024.8 L1549.5 1025.1 L1549.8 1001.8 L1550.1 984.0 L1550.4 956.3 L1550.8 956.9 L1551.1 946.3 L1551.4 950.3 L1551.7 943.5 L1552.0 953.0 L1552.3 963.8 L1552.6 988.1 L1552.9 977.5 L1553.2 980.6 L1553.6 1018.0 L1553.9 1020.6 L1554.2 1017.7 L1554.5 1024.3 L1554.8 1027.0 L1555.1 1018.1 L1555.4 1025.7 L1555.8 1017.0 L1556.1 1015.4 L1556.4 1023.1 L1556.7 1030.4 L1557.0 1034.1 L1557.3 1023.2 L1557.6 1033.6 L1557.9 1027.5 L1558.2 1005.4 L1558.6 1013.6 L1558.9 1025.9 L1559.2 1006.7 L1559.5 1024.3 L1559.8 1009.6 L1560.1 996.4 L1560.4 1014.4 L1560.8 997.2 L1561.1 1005.2 L1561.4 999.0 L1561.7 1010.9 L1562.0 1002.4 L1562.3 1012.1 L1562.6 1029.0 L1562.9 1041.5 L1563.2 1029.2 L1563.6 1038.3 L1563.9 1027.8 L1564.2 1041.1 L1564.5 1062.5 L1564.8 1054.6 L1565.1 1076.8 L1565.4 1077.8 L1565.8 1099.7 L1566.1 1116.8 L1566.4 1118.6 L1566.7 1113.2 L1567.0 1110.1 L1567.3 1107.3 L1567.6 1124.9 L1567.9 1150.8 L1568.2 1143.7 L1568.6 1153.1 L1568.9 1158.9 L1569.2 1158.0 L1569.5 1177.9 L1569.8 1171.0 L1570.1 1169.5 L1570.4 1160.9 L1570.8 1172.6 L1571.1 1152.1 L1571.4 1157.4 L1571.7 1141.3 L1572.0 1138.2 L1572.3 1111.0 L1572.6 1115.1 L1572.9 1107.2 L1573.2 1134.5 L1573.6 1137.4 L1573.9 1106.5 L1574.2 1094.9 L1574.5 1081.5 L1574.8 1070.7 L1575.1 1069.7 L1575.4 1064.9 L1575.8 1065.0 L1576.1 1052.4 L1576.4 1058.7 L1576.7 1056.9 L1577.0 1057.5 L1577.3 1075.8 L1577.6 1063.9 L1577.9 1084.9 L1578.2 1110.3 L1578.6 1104.1 L1578.9 1109.9 L1579.2 1110.9 L1579.5 1116.1 L1579.8 1115.2 L1580.1 1093.1 L1580.4 1095.8 L1580.8 1089.0 L1581.1 1074.6 L1581.4 1051.0 L1581.7 1062.6 L1582.0 1059.7 L1582.3 1026.6 L1582.6 1003.6 L1582.9 1009.2 L1583.2 1012.4 L1583.6 1012.2 L1583.9 995.7 L1584.2 995.4 L1584.5 987.4 L1584.8 1006.7 L1585.1 1012.5 L1585.4 1009.2 L1585.8 999.4 L1586.1 1032.6 L1586.4 1007.9 L1586.7 1046.7 L1587.0 1068.2 L1587.3 1046.2 L1587.6 1037.3 L1587.9 1043.5 L1588.2 1049.5 L1588.6 1071.0 L1588.9 1082.2 L1589.2 1064.9 L1589.5 1073.1 L1589.8 1077.3 L1590.1 1088.7 L1590.4 1092.8 L1590.8 1079.8 L1591.1 1084.8 L1591.4 1077.8 L1591.7 1040.2 L1592.0 1044.3 L1592.3 1046.8 L1592.6 1029.2 L1592.9 1047.0 L1593.2 1037.7 L1593.6 1023.1 L1593.9 1024.2 L1594.2 996.9 L1594.5 1000.5 L1594.8 1001.3 L1595.1 1018.9 L1595.4 1017.9 L1595.8 1036.6 L1596.1 1047.0 L1596.4 1067.5 L1596.7 1087.1 L1597.0 1054.2 L1597.3 1080.0 L1597.6 1086.3 L1597.9 1116.9 L1598.2 1125.2 L1598.6 1121.1 L1598.9 1134.0 L1599.2 1132.3 L1599.5 1117.1 L1599.8 1110.1 L1600.1 1090.8 L1600.4 1097.0 L1600.8 1112.8 L1601.1 1074.3 L1601.4 1085.0 L1601.7 1072.2 L1602.0 1058.7 L1602.3 1067.6 L1602.6 1058.0 L1602.9 1088.0 L1603.2 1073.2 L1603.6 1093.8 L1603.9 1077.1 L1604.2 1089.3 L1604.5 1080.5 L1604.8 1098.3 L1605.1 1066.8 L1605.4 1063.3 L1605.8 1078.9 L1606.1 1067.0 L1606.4 1055.2 L1606.7 1048.6 L1607.0 1029.6 L1607.3 1038.4 L1607.6 1046.5 L1607.9 1054.5 L1608.2 1049.8 L1608.6 1053.2 L1608.9 1037.9 L1609.2 1024.3 L1609.5 1026.7 L1609.8 1046.1 L1610.1 1031.2 L1610.4 1041.7 L1610.8 1021.7 L1611.1 1018.5 L1611.4 1025.1 L1611.7 1030.4 L1612.0 1027.0 L1612.3 1022.9 L1612.6 1042.9 L1612.9 1029.7 L1613.2 1058.9 L1613.6 1073.7 L1613.9 1060.1 L1614.2 1077.2 L1614.5 1070.9 L1614.8 1082.9 L1615.1 1096.1 L1615.4 1108.6 L1615.8 1113.5 L1616.1 1098.3 L1616.4 1115.3 L1616.7 1112.4 L1617.0 1107.9 L1617.3 1115.5 L1617.6 1108.4 L1617.9 1106.9 L1618.2 1084.3 L1618.6 1063.7 L1618.9 1048.5 L1619.2 1024.1 L1619.5 1007.1 L1619.8 997.5 L1620.1 991.8 L1620.4 976.5 L1620.8 971.0 L1621.1 977.9 L1621.4 981.8 L1621.7 984.1 L1622.0 983.5 L1622.3 1015.9 L1622.6 1005.3 L1622.9 1036.4 L1623.2 1042.3 L1623.6 1029.0 L1623.9 1035.8 L1624.2 1020.3 L1624.5 1013.5 L1624.8 1005.5 L1625.1 996.6 L1625.4 1009.1 L1625.8 985.0 L1626.1 993.5 L1626.4 975.0 L1626.7 969.8 L1627.0 973.1 L1627.3 952.6 L1627.6 971.3 L1627.9 960.8 L1628.2 968.1 L1628.6 965.0 L1628.9 972.6 L1629.2 971.4 L1629.5 962.3 L1629.8 1004.6 L1630.1 1000.4 L1630.4 1001.4 L1630.8 1000.6 L1631.1 1010.2 L1631.4 1000.8 L1631.7 1007.3 L1632.0 983.5 L1632.3 991.8 L1632.6 996.1 L1632.9 993.3 L1633.2 1003.2 L1633.6 974.7 L1633.9 982.9 L1634.2 962.0 L1634.5 992.8 L1634.8 972.5 L1635.1 953.2 L1635.4 936.9 L1635.8 969.3 L1636.1 937.9 L1636.4 929.5 L1636.7 934.3 L1637.0 925.4 L1637.3 929.4 L1637.6 929.2 L1637.9 939.2 L1638.2 945.0 L1638.6 947.0 L1638.9 949.4 L1639.2 966.2 L1639.5 960.5 L1639.8 988.1 L1640.1 982.4 L1640.4 1008.0 L1640.8 1028.9 L1641.1 1014.7 L1641.4 1001.9 L1641.7 1026.5 L1642.0 1002.7 L1642.3 1022.2 L1642.6 1037.5 L1642.9 1043.4 L1643.2 1047.1 L1643.6 1028.5 L1643.9 1054.3 L1644.2 1077.2 L1644.5 1078.0 L1644.8 1073.9 L1645.1 1059.4 L1645.4 1067.5 L1645.8 1073.6 L1646.1 1071.1 L1646.4 1096.0 L1646.7 1112.7 L1647.0 1114.5 L1647.3 1120.8 L1647.6 1146.2 L1647.9 1151.6 L1648.2 1168.1 L1648.6 1165.2 L1648.9 1159.0 L1649.2 1168.5 L1649.5 1171.4 L1649.8 1147.7 L1650.1 1144.8 L1650.4 1144.8 L1650.8 1108.4 L1651.1 1153.1 L1651.4 1120.9 L1651.7 1097.8 L1652.0 1081.7 L1652.3 1075.9 L1652.6 1116.1 L1652.9 1082.4 L1653.2 1086.5 L1653.6 1062.0 L1653.9 1062.3 L1654.2 1071.4 L1654.5 1057.3 L1654.8 1055.3 L1655.1 1052.1 L1655.4 1062.3 L1655.8 1074.4 L1656.1 1068.6 L1656.4 1088.0 L1656.7 1062.4 L1657.0 1071.8 L1657.3 1089.8 L1657.6 1089.1 L1657.9 1097.5 L1658.2 1072.7 L1658.6 1082.3 L1658.9 1092.4 L1659.2 1116.2 L1659.5 1105.1 L1659.8 1099.9 L1660.1 1086.9 L1660.4 1051.8 L1660.8 1041.4 L1661.1 1043.1 L1661.4 1023.9 L1661.7 1026.3 L1662.0 969.5 L1662.3 973.2 L1662.6 945.0 L1662.9 924.1 L1663.2 883.7 L1663.6 849.6 L1663.9 819.2 L1664.2 800.0 L1664.5 776.0 L1664.8 772.2 L1665.1 780.0 L1665.4 810.0 L1665.8 994.6 L1666.1 1023.0 L1666.4 1049.0 L1666.7 1081.5 L1667.0 1113.4 L1667.3 1142.8 L1667.6 1154.9 L1667.9 1147.7 L1668.2 1147.1 L1668.6 1135.6 L1668.9 1112.0 L1669.2 1102.4 L1669.5 1113.7 L1669.8 1100.8 L1670.1 1091.0 L1670.4 1112.1 L1670.8 1089.7 L1671.1 1103.5 L1671.4 1097.2 L1671.7 1133.9 L1672.0 1121.4 L1672.3 1127.8 L1672.6 1133.2 L1672.9 1128.2 L1673.2 1134.7 L1673.6 1114.5 L1673.9 1136.1 L1674.2 1133.9 L1674.5 1146.5 L1674.8 1144.5 L1675.1 1126.5 L1675.4 1099.3 L1675.8 1080.2 L1676.1 1089.3 L1676.4 1074.7 L1676.7 1069.1 L1677.0 1049.7 L1677.3 1064.6 L1677.6 1064.9 L1677.9 1071.8 L1678.2 1048.9 L1678.6 1051.4 L1678.9 1022.9 L1679.2 1039.7 L1679.5 1031.7 L1679.8 1021.1 L1680.1 1039.5 L1680.4 1007.5 L1680.8 1032.2 L1681.1 1018.7 L1681.4 1030.0 L1681.7 1017.8 L1682.0 995.5 L1682.3 995.0 L1682.6 1005.9 L1682.9 984.1 L1683.2 980.2 L1683.6 964.5 L1683.9 972.9 L1684.2 963.6 L1684.5 940.0 L1684.8 973.1 L1685.1 956.2 L1685.4 951.7 L1685.8 935.0 L1686.1 919.6 L1686.4 920.8 L1686.7 923.9 L1687.0 890.4 L1687.3 876.7 L1687.6 879.7 L1687.9 867.5 L1688.2 862.1 L1688.6 837.7 L1688.9 840.1 L1689.2 838.4 L1689.5 849.6 L1689.8 847.9 L1690.1 834.4 L1690.4 836.8 L1690.8 830.3 L1691.1 830.9 L1691.4 838.4 L1691.7 838.8 L1692.0 848.2 L1692.3 873.1 L1692.6 882.0 L1692.9 882.9 L1693.2 915.0 L1693.6 931.7 L1693.9 951.7 L1694.2 952.8 L1694.5 965.1 L1694.8 978.9 L1695.1 982.1 L1695.4 987.1 L1695.8 975.1 L1696.1 974.6 L1696.4 964.0 L1696.7 949.4 L1697.0 961.2 L1697.3 929.2 L1697.6 936.8 L1697.9 906.8 L1698.2 932.0 L1698.6 927.5 L1698.9 932.5 L1699.2 929.4 L1699.5 902.2 L1699.8 907.4 L1700.1 906.7 L1700.4 907.3 L1700.8 904.3 L1701.1 902.5 L1701.4 909.4 L1701.7 908.1 L1702.0 914.4 L1702.3 894.8 L1702.6 902.8 L1702.9 899.6 L1703.2 906.3 L1703.6 902.8 L1703.9 903.0 L1704.2 895.5 L1704.5 904.5 L1704.8 916.1 L1705.1 897.3 L1705.4 908.5 L1705.8 915.3 L1706.1 938.3 L1706.4 948.0 L1706.7 940.6 L1707.0 950.7 L1707.3 963.8 L1707.6 947.4 L1707.9 955.3 L1708.2 953.5 L1708.6 954.6 L1708.9 952.8 L1709.2 954.4 L1709.5 953.3 L1709.8 956.8 L1710.1 930.7 L1710.4 947.1 L1710.8 925.5 L1711.1 923.5 L1711.4 926.1 L1711.7 915.0 L1712.0 896.6 L1712.3 889.7 L1712.6 891.7 L1712.9 875.9 L1713.2 909.4 L1713.6 872.0 L1713.9 895.8 L1714.2 884.0 L1714.5 880.7 L1714.8 867.9 L1715.1 873.2 L1715.4 873.4 L1715.8 869.6 L1716.1 871.3 L1716.4 870.5 L1716.7 858.1 L1717.0 869.1 L1717.3 873.9 L1717.6 868.5 L1717.9 862.5 L1718.2 864.5 L1718.6 867.5 L1718.9 886.8 L1719.2 900.1 L1719.5 892.7 L1719.8 891.4 L1720.1 931.9 L1720.4 939.9 L1720.8 927.7 L1721.1 951.1 L1721.4 962.0 L1721.7 940.3 L1722.0 978.8 L1722.3 981.0 L1722.6 984.6 L1722.9 999.7 L1723.2 990.8 L1723.6 1009.0 L1723.9 1004.4 L1724.2 961.9 L1724.5 961.0 L1724.8 956.1 L1725.1 928.2 L1725.4 902.8 L1725.8 909.5 L1726.1 885.8 L1726.4 862.6 L1726.7 859.3 L1727.0 850.2 L1727.3 832.2 L1727.6 811.3 L1727.9 817.5 L1728.2 827.7 L1728.6 830.9 L1728.9 852.4 L1729.2 871.9 L1729.5 885.1 L1729.8 890.0 L1730.1 909.1 L1730.4 914.2 L1730.8 934.6 L1731.1 946.8 L1731.4 966.8 L1731.7 958.9 L1732.0 962.6 L1732.3 945.6 L1732.6 900.8 L1732.9 883.3 L1733.2 869.3 L1733.6 860.9 L1733.9 870.7 L1734.2 867.5 L1734.5 897.6 L1734.8 902.6 L1735.1 915.3 L1735.4 918.1 L1735.8 919.9 L1736.1 906.5 L1736.4 897.3 L1736.7 930.9 L1737.0 939.2 L1737.3 940.7 L1737.6 945.6 L1737.9 949.6 L1738.2 930.5 L1738.6 931.4 L1738.9 916.5 L1739.2 934.0 L1739.5 886.3 L1739.8 900.3 L1740.1 857.0 L1740.4 892.6 L1740.8 863.0 L1741.1 850.5 L1741.4 857.1 L1741.7 852.3 L1742.0 852.3 L1742.3 852.8 L1742.6 849.7 L1742.9 853.9 L1743.2 843.2 L1743.6 840.9 L1743.9 851.2 L1744.2 854.1 L1744.5 856.9 L1744.8 861.8 L1745.1 895.8 L1745.4 874.3 L1745.8 902.5 L1746.1 907.5 L1746.4 905.1 L1746.7 911.3 L1747.0 924.1 L1747.3 922.1 L1747.6 920.5 L1747.9 907.3 L1748.2 894.9 L1748.6 864.1 L1748.9 861.1 L1749.2 893.9 L1749.5 873.2 L1749.8 859.3 L1750.1 859.4 L1750.4 870.2 L1750.8 853.3 L1751.1 869.4 L1751.4 886.1 L1751.7 911.8 L1752.0 910.0 L1752.3 905.4 L1752.6 904.6 L1752.9 906.2 L1753.2 914.0 L1753.6 916.7 L1753.9 896.4 L1754.2 898.8 L1754.5 889.3 L1754.8 880.0 L1755.1 872.4 L1755.4 891.8 L1755.8 885.8 L1756.1 880.8 L1756.4 848.6 L1756.7 855.3 L1757.0 867.6 L1757.3 854.8 L1757.6 855.7 L1757.9 867.5 L1758.2 862.6 L1758.6 861.2 L1758.9 875.1 L1759.2 887.0 L1759.5 891.7 L1759.8 901.9 L1760.1 899.1 L1760.4 905.3 L1760.8 905.5 L1761.1 892.1 L1761.4 882.4 L1761.7 857.4 L1762.0 869.8 L1762.3 831.5 L1762.6 851.7 L1762.9 835.7 L1763.2 840.4 L1763.6 839.5 L1763.9 821.7 L1764.2 790.3 L1764.5 785.0 L1764.8 794.5 L1765.1 792.0 L1765.4 807.1 L1765.8 825.5 L1766.1 802.8 L1766.4 784.1 L1766.7 794.6 L1767.0 772.3 L1767.3 778.6 L1767.6 768.8 L1767.9 748.4 L1768.2 779.5 L1768.6 780.3 L1768.9 758.2 L1769.2 763.1 L1769.5 759.5 L1769.8 762.0 L1770.1 760.4 L1770.4 783.0 L1770.8 781.8 L1771.1 799.5 L1771.4 827.9 L1771.7 837.4 L1772.0 853.7 L1772.3 853.1 L1772.6 866.7 L1772.9 870.2 L1773.2 852.6 L1773.6 855.9 L1773.9 855.4 L1774.2 870.1 L1774.5 847.3 L1774.8 829.0 L1775.1 835.3 L1775.4 841.3 L1775.8 792.9 L1776.1 787.7 L1776.4 809.5 L1776.7 796.8 L1777.0 783.3 L1777.3 794.4 L1777.6 794.6 L1777.9 778.2 L1778.2 782.3 L1778.6 782.6 L1778.9 777.5 L1779.2 793.2 L1779.5 797.3 L1779.8 802.8 L1780.1 819.2 L1780.4 822.9 L1780.8 848.6 L1781.1 855.7 L1781.4 869.2 L1781.7 881.5 L1782.0 888.5 L1782.3 933.3 L1782.6 924.2 L1782.9 970.1 L1783.2 984.1 L1783.6 1023.0 L1783.9 1046.0 L1784.2 1060.0 L1784.5 1079.0 L1784.8 1050.0 L1785.1 1035.2 L1785.4 1013.7 L1785.8 989.9 L1786.1 960.9 L1786.4 943.8 L1786.7 927.0 L1787.0 905.4 L1787.3 889.4 L1787.6 883.5 L1787.9 844.9 L1788.2 857.6 L1788.6 836.8 L1788.9 836.6 L1789.2 825.8 L1789.5 819.3 L1789.8 821.4 L1790.1 828.0 L1790.4 813.4 L1790.8 805.3 L1791.1 816.6 L1791.4 839.4 L1791.7 842.5 L1792.0 868.5 L1792.3 872.3 L1792.6 850.7 L1792.9 890.0 L1793.2 885.0 L1793.6 907.1 L1793.9 928.5 L1794.2 930.6 L1794.5 924.4 L1794.8 907.0 L1795.1 918.6 L1795.4 907.1 L1795.8 888.9 L1796.1 887.1 L1796.4 857.6 L1796.7 858.6 L1797.0 859.4 L1797.3 860.7 L1797.6 846.5 L1797.9 823.8 L1798.2 826.0 L1798.6 836.9 L1798.9 804.2 L1799.2 807.9 L1799.5 805.7 L1799.8 785.2 L1800.1 788.1 L1800.4 764.4 L1800.8 768.3 L1801.1 766.4 L1801.4 768.4 L1801.7 774.5 L1802.0 753.1 L1802.3 762.3 L1802.6 754.3 L1802.9 745.3 L1803.2 746.1 L1803.6 752.3 L1803.9 748.5 L1804.2 739.0 L1804.5 769.8 L1804.8 741.0 L1805.1 745.7 L1805.4 732.0 L1805.8 755.8 L1806.1 734.2 L1806.4 737.5 L1806.7 746.2 L1807.0 763.2 L1807.3 760.2 L1807.6 757.9 L1807.9 758.3 L1808.2 761.2 L1808.6 761.2 L1808.9 759.1 L1809.2 753.6 L1809.5 755.3 L1809.8 729.2 L1810.1 746.3 L1810.4 730.9 L1810.8 738.4 L1811.1 738.8 L1811.4 720.8 L1811.7 733.4 L1812.0 735.9 L1812.3 729.9 L1812.6 727.7 L1812.9 727.9 L1813.2 747.4 L1813.6 771.5 L1813.9 756.2 L1814.2 757.1 L1814.5 764.4 L1814.8 771.0 L1815.1 757.7 L1815.4 744.9 L1815.8 727.2 L1816.1 739.2 L1816.4 723.9 L1816.7 688.9 L1817.0 697.4 L1817.3 702.5 L1817.6 679.3 L1817.9 671.7 L1818.2 658.1 L1818.6 657.7 L1818.9 657.5 L1819.2 667.4 L1819.5 637.0 L1819.8 628.3 L1820.1 625.0 L1820.4 625.4 L1820.8 617.7 L1821.1 618.7 L1821.4 621.4 L1821.7 625.5 L1822.0 640.1 L1822.3 660.3 L1822.6 647.4 L1822.9 681.7 L1823.2 691.0 L1823.6 707.5 L1823.9 708.1 L1824.2 714.0 L1824.5 738.1 L1824.8 743.6 L1825.1 734.6 L1825.4 720.1 L1825.8 727.2 L1826.1 734.9 L1826.4 737.3 L1826.7 719.9 L1827.0 716.8 L1827.3 690.6 L1827.6 706.0 L1827.9 706.7 L1828.2 691.8 L1828.6 692.9 L1828.9 671.9 L1829.2 667.6 L1829.5 691.8 L1829.8 679.0 L1830.1 699.4 L1830.4 712.4 L1830.8 707.7 L1831.1 721.4 L1831.4 716.1 L1831.7 698.0 L1832.0 681.7 L1832.3 656.0 L1832.6 651.7 L1832.9 632.4 L1833.2 613.5 L1833.6 616.1 L1833.9 610.7 L1834.2 593.4 L1834.5 575.1 L1834.8 574.6 L1835.1 565.0 L1835.4 567.2 L1835.8 565.8 L1836.1 560.4 L1836.4 566.2 L1836.7 533.6 L1837.0 566.7 L1837.3 549.7 L1837.6 551.4 L1837.9 528.1 L1838.2 543.0 L1838.6 527.5 L1838.9 511.8 L1839.2 515.4 L1839.5 507.1 L1839.8 511.8 L1840.1 528.0 L1840.4 539.5 L1840.8 541.7 L1841.1 554.8 L1841.4 542.1 L1841.7 578.0 L1842.0 561.0 L1842.3 579.8 L1842.6 576.4 L1842.9 574.9 L1843.2 611.7 L1843.6 596.2 L1843.9 607.6 L1844.2 639.2 L1844.5 604.8 L1844.8 619.0 L1845.1 660.7 L1845.4 657.1 L1845.8 676.6 L1846.1 669.7 L1846.4 668.1 L1846.7 690.2 L1847.0 679.8 L1847.3 679.7 L1847.6 694.7 L1847.9 689.7 L1848.2 687.4 L1848.6 692.2 L1848.9 705.6 L1849.2 707.8 L1849.5 693.0 L1849.8 664.6 L1850.1 649.9 L1850.4 644.4 L1850.8 647.1 L1851.1 644.2 L1851.4 648.3 L1851.7 665.7 L1852.0 649.6 L1852.3 679.9 L1852.6 675.3 L1852.9 694.2 L1853.2 703.8 L1853.6 709.6 L1853.9 713.7 L1854.2 707.0 L1854.5 672.3 L1854.8 675.2 L1855.1 702.2 L1855.4 692.0 L1855.8 675.0 L1856.1 678.3 L1856.4 676.6 L1856.7 686.8 L1857.0 665.0 L1857.3 661.7 L1857.6 641.9 L1857.9 668.4 L1858.2 650.8 L1858.6 642.1 L1858.9 646.5 L1859.2 648.9 L1859.5 666.3 L1859.8 685.5 L1860.1 682.6 L1860.4 654.0 L1860.8 655.7 L1861.1 663.4 L1861.4 689.6 L1861.7 690.7 L1862.0 697.4 L1862.3 693.2 L1862.6 697.8 L1862.9 672.6 L1863.2 684.4 L1863.6 666.0 L1863.9 660.4 L1864.2 670.6 L1864.5 662.5 L1864.8 655.8 L1865.1 656.5 L1865.4 663.4 L1865.8 679.3 L1866.1 663.6 L1866.4 692.1 L1866.7 660.4 L1867.0 723.4 L1867.3 715.0 L1867.6 731.9 L1867.9 722.4 L1868.2 735.3 L1868.6 740.8 L1868.9 742.4 L1869.2 732.1 L1869.5 707.4 L1869.8 718.1 L1870.1 701.4 L1870.4 681.8 L1870.8 687.0 L1871.1 672.9 L1871.4 659.0 L1871.7 621.2 L1872.0 626.4 L1872.3 608.8 L1872.6 605.9 L1872.9 591.7 L1873.2 592.3 L1873.6 595.6 L1873.9 622.0 L1874.2 599.7 L1874.5 617.9 L1874.8 608.9 L1875.1 593.0 L1875.4 626.4 L1875.8 653.4 L1876.1 640.3 L1876.4 626.8 L1876.7 637.1 L1877.0 629.5 L1877.3 681.1 L1877.6 669.2 L1877.9 637.9 L1878.2 682.8 L1878.6 684.6 L1878.9 669.5 L1879.2 678.3 L1879.5 687.1 L1879.8 708.4 L1880.1 691.5 L1880.4 700.2 L1880.8 713.9 L1881.1 695.1 L1881.4 681.9 L1881.7 679.5 L1882.0 684.9 L1882.3 680.7 L1882.6 676.8 L1882.9 689.9 L1883.2 679.4 L1883.6 653.0 L1883.9 656.9 L1884.2 674.0 L1884.5 685.8 L1884.8 696.5 L1885.1 713.3 L1885.4 732.1 L1885.8 735.7 L1886.1 716.2 L1886.4 692.3 L1886.7 701.9 L1887.0 703.5 L1887.3 680.3 L1887.6 661.8 L1887.9 662.2 L1888.2 641.3 L1888.6 620.0 L1888.9 623.8 L1889.2 638.1 L1889.5 625.9 L1889.8 618.7 L1890.1 598.3 L1890.4 606.8 L1890.8 610.8 L1891.1 579.1 L1891.4 573.8 L1891.7 598.1 L1892.0 576.8 L1892.3 545.9 L1892.6 552.0 L1892.9 579.0 L1893.2 570.4 L1893.6 583.0 L1893.9 562.5 L1894.2 556.4 L1894.5 560.2 L1894.8 539.0 L1895.1 553.0 L1895.4 550.7 L1895.8 551.4 L1896.1 562.6 L1896.4 555.0 L1896.7 549.5 L1897.0 556.3 L1897.3 582.8 L1897.6 589.0 L1897.9 596.1 L1898.2 613.8 L1898.6 605.8 L1898.9 608.1 L1899.2 627.7 L1899.5 589.7 L1899.8 605.7 L1900.1 584.3 L1900.4 582.9 L1900.8 573.6 L1901.1 561.8 L1901.4 581.4 L1901.7 621.7 L1902.0 645.2 L1902.3 675.1 L1902.6 715.5 L1902.9 770.0 L1903.2 760.5 L1903.6 751.6 L1903.9 726.7 L1904.2 693.7 L1904.5 686.4 L1904.8 659.4 L1905.1 625.4 L1905.4 622.4 L1905.8 615.6 L1906.1 609.1 L1906.4 591.5 L1906.7 601.5 L1907.0 598.7 L1907.3 618.6 L1907.6 614.9 L1907.9 618.7 L1908.2 613.6 L1908.6 626.7 L1908.9 627.2 L1909.2 652.6 L1909.5 636.0 L1909.8 629.5 L1910.1 635.3 L1910.4 611.1 L1910.8 600.3 L1911.1 589.5 L1911.4 581.7 L1911.7 569.0 L1912.0 562.3 L1912.3 541.3 L1912.6 535.1 L1912.9 533.7 L1913.2 520.0 L1913.6 507.1 L1913.9 502.1 L1914.2 498.3 L1914.5 488.6 L1914.8 492.1 L1915.1 499.9 L1915.4 533.4 L1915.8 535.3 L1916.1 558.0 L1916.4 572.4 L1916.7 598.9 L1917.0 574.0 L1917.3 587.0 L1917.6 579.0 L1917.9 622.8 L1918.2 606.6 L1918.6 595.3 L1918.9 632.5 L1919.2 636.7 L1919.5 628.3 L1919.8 629.8 L1920.1 632.9 L1920.4 628.5 L1920.8 604.1 L1921.1 603.8 L1921.4 591.5 L1921.7 581.4 L1922.0 589.2 L1922.3 552.9 L1922.6 552.8 L1922.9 553.3 L1923.2 540.8 L1923.6 546.0 L1923.9 540.6 L1924.2 552.7 L1924.5 539.8 L1924.8 532.2 L1925.1 537.0 L1925.4 530.2 L1925.8 530.8 L1926.1 535.3 L1926.4 556.7 L1926.7 583.7 L1927.0 561.7 L1927.3 565.6 L1927.6 570.5 L1927.9 566.6 L1928.2 569.1 L1928.6 585.6 L1928.9 612.6 L1929.2 602.3 L1929.5 598.7 L1929.8 611.0 L1930.1 604.8 L1930.4 642.5 L1930.8 639.0 L1931.1 633.0 L1931.4 610.7 L1931.7 620.6 L1932.0 626.5 L1932.3 636.4 L1932.6 626.3 L1932.9 645.2 L1933.2 641.7 L1933.6 634.4 L1933.9 617.5 L1934.2 623.6 L1934.5 611.0 L1934.8 597.0 L1935.1 602.9 L1935.4 615.7 L1935.8 612.1 L1936.1 578.9 L1936.4 587.0 L1936.7 596.5 L1937.0 602.5 L1937.3 580.2 L1937.6 581.0 L1937.9 569.5 L1938.2 576.0 L1938.6 578.8 L1938.9 572.2 L1939.2 575.9 L1939.5 575.3 L1939.8 569.9 L1940.1 581.8 L1940.4 573.2 L1940.8 568.8 L1941.1 606.4 L1941.4 611.0 L1941.7 578.7 L1942.0 608.2 L1942.3 599.6 L1942.6 613.6 L1942.9 612.1 L1943.2 609.6 L1943.6 617.0 L1943.9 607.9 L1944.2 625.5 L1944.5 617.1 L1944.8 597.4 L1945.1 603.5 L1945.4 597.6 L1945.8 595.4 L1946.1 585.6 L1946.4 619.2 L1946.7 612.3 L1947.0 609.5 L1947.3 594.0 L1947.6 622.5 L1947.9 618.2 L1948.2 626.8 L1948.6 622.2 L1948.9 607.4 L1949.2 591.1 L1949.5 600.0 L1949.8 588.0 L1950.1 561.8 L1950.4 552.9 L1950.8 533.5 L1951.1 530.9 L1951.4 519.4 L1951.7 491.1 L1952.0 516.3 L1952.3 515.4 L1952.6 495.8 L1952.9 494.7 L1953.2 497.3 L1953.6 500.2 L1953.9 491.8 L1954.2 484.7 L1954.5 486.8 L1954.8 472.5 L1955.1 465.4 L1955.4 462.3 L1955.8 455.8 L1956.1 459.3 L1956.4 454.7 L1956.7 462.4 L1957.0 478.2 L1957.3 492.2 L1957.6 530.0 L1957.9 511.2 L1958.2 531.4 L1958.6 538.3 L1958.9 554.7 L1959.2 558.5 L1959.5 561.4 L1959.8 550.1 L1960.1 562.8 L1960.4 558.8 L1960.8 570.6 L1961.1 560.7 L1961.4 567.2 L1961.7 566.2 L1962.0 557.5 L1962.3 556.6 L1962.6 561.3 L1962.9 567.4 L1963.2 561.7 L1963.6 538.6 L1963.9 558.8 L1964.2 529.5 L1964.5 534.1 L1964.8 534.9 L1965.1 523.2 L1965.4 516.9 L1965.8 502.1 L1966.1 497.8 L1966.4 501.9 L1966.7 483.2 L1967.0 472.7 L1967.3 466.8 L1967.6 478.2 L1967.9 466.8 L1968.2 477.9 L1968.6 464.5 L1968.9 465.3 L1969.2 463.6 L1969.5 475.0 L1969.8 472.8 L1970.1 472.3 L1970.4 480.3 L1970.8 487.2 L1971.1 472.1 L1971.4 498.6 L1971.7 500.7 L1972.0 509.4 L1972.3 485.1 L1972.6 511.1 L1972.9 512.3 L1973.2 521.2 L1973.6 515.6 L1973.9 530.5 L1974.2 521.2 L1974.5 550.2 L1974.8 563.9 L1975.1 560.5 L1975.4 566.8 L1975.8 570.6 L1976.1 568.6 L1976.4 545.3 L1976.7 532.5 L1977.0 525.7 L1977.3 512.5 L1977.6 507.9 L1977.9 506.1 L1978.2 476.0 L1978.6 464.7 L1978.9 476.0 L1979.2 477.0 L1979.5 457.9 L1979.8 472.2 L1980.1 465.3 L1980.4 465.7 L1980.8 458.8 L1981.1 469.5 L1981.4 469.1 L1981.7 470.6 L1982.0 470.3 L1982.3 466.1 L1982.6 463.8 L1982.9 459.9 L1983.2 457.9 L1983.6 469.8 L1983.9 469.4 L1984.2 472.4 L1984.5 497.6 L1984.8 483.7 L1985.1 516.5 L1985.4 505.4 L1985.8 492.6 L1986.1 494.3 L1986.4 487.5 L1986.7 532.6 L1987.0 525.7 L1987.3 536.4 L1987.6 524.5 L1987.9 525.2 L1988.2 509.3 L1988.6 509.7 L1988.9 534.8 L1989.2 526.2 L1989.5 518.2 L1989.8 524.0 L1990.1 522.3 L1990.4 497.5 L1990.8 497.8 L1991.1 473.0 L1991.4 492.7 L1991.7 460.5 L1992.0 450.2 L1992.3 438.7 L1992.6 448.6 L1992.9 446.8 L1993.2 464.2 L1993.6 458.1 L1993.9 444.6 L1994.2 442.2 L1994.5 448.5 L1994.8 443.2 L1995.1 435.9 L1995.4 450.3 L1995.8 443.9 L1996.1 456.8 L1996.4 433.0 L1996.7 433.0 L1997.0 449.7 L1997.3 441.2 L1997.6 444.7 L1997.9 442.6 L1998.2 454.2 L1998.6 443.6 L1998.9 463.2 L1999.2 458.0 L1999.5 455.6 L1999.8 433.0 L2000.1 460.7 L2000.4 488.3 L2000.8 499.1 L2001.1 498.5 L2001.4 504.5 L2001.7 492.9 L2002.0 506.1 L2002.3 505.0 L2002.6 510.3 L2002.9 505.4 L2003.2 494.0 L2003.6 494.9 L2003.9 482.9 L2004.2 483.0 L2004.5 474.9 L2004.8 459.9 L2005.1 466.9 L2005.4 474.7 L2005.8 463.7 L2006.1 471.8 L2006.4 463.6 L2006.7 462.8 L2007.0 434.5 L2007.3 437.0 L2007.6 407.8 L2007.9 402.5 L2008.2 417.7 L2008.6 410.4 L2008.9 402.4 L2009.2 421.5 L2009.5 423.3 L2009.8 412.0 L2010.1 419.8 L2010.4 420.4 L2010.8 421.2 L2011.1 397.0 L2011.4 387.9 L2011.7 393.2 L2012.0 392.4 L2012.3 393.7 L2012.6 390.0 L2012.9 387.6 L2013.2 387.3 L2013.6 404.2 L2013.9 398.7 L2014.2 406.6 L2014.5 429.9 L2014.8 416.3 L2015.1 419.3 L2015.4 446.5 L2015.8 447.1 L2016.1 448.2 L2016.4 447.3 L2016.7 440.3 L2017.0 429.8 L2017.3 432.2 L2017.6 395.4 L2017.9 373.8 L2018.2 387.0 L2018.6 368.1 L2018.9 366.6 L2019.2 352.6 L2019.5 359.2 L2019.8 351.2 L2020.1 349.6 L2020.4 371.5 L2020.8 361.6 L2021.1 351.6 L2021.4 349.3 L2021.7 362.2 L2022.0 358.8 L2022.3 362.7 L2022.6 364.9 L2022.9 370.1 L2023.2 358.9 L2023.6 357.0 L2023.9 361.3 L2024.2 358.2 L2024.5 359.4 L2024.8 359.9 L2025.1 382.0 L2025.4 362.7 L2025.8 363.0 L2026.1 354.1 L2026.4 374.1 L2026.7 384.7 L2027.0 366.2 L2027.3 402.7 L2027.6 377.0 L2027.9 388.7 L2028.2 388.5 L2028.6 395.7 L2028.9 378.2 L2029.2 428.3 L2029.5 409.6 L2029.8 451.9 L2030.1 432.5 L2030.4 446.5 L2030.8 475.8 L2031.1 462.9 L2031.4 470.3 L2031.7 451.1 L2032.0 445.7 L2032.3 440.0 L2032.6 448.3 L2032.9 400.8 L2033.2 409.2 L2033.6 404.9 L2033.9 406.3 L2034.2 381.0 L2034.5 371.6 L2034.8 377.5 L2035.1 373.5 L2035.4 393.5 L2035.8 364.8 L2036.1 376.8 L2036.4 385.1 L2036.7 385.1 L2037.0 410.1 L2037.3 394.5 L2037.6 414.5 L2037.9 396.8 L2038.2 410.8 L2038.6 428.7 L2038.9 436.8 L2039.2 419.6 L2039.5 421.4 L2039.8 456.2 L2040.1 443.5 L2040.4 464.4 L2040.8 483.1 L2041.1 479.4 L2041.4 468.9 L2041.7 476.4 L2042.0 482.1 L2042.3 474.2 L2042.6 458.9 L2042.9 464.2 L2043.2 446.8 L2043.6 441.8 L2043.9 442.1 L2044.2 433.1 L2044.5 455.6 L2044.8 446.0 L2045.1 429.4 L2045.4 421.2 L2045.8 410.0 L2046.1 422.4 L2046.4 395.2 L2046.7 406.3 L2047.0 395.2 L2047.3 395.2 L2047.6 420.9 L2047.9 416.6 L2048.2 419.9 L2048.6 421.5 L2048.9 434.2 L2049.2 434.5 L2049.5 464.7 L2049.8 466.0 L2050.1 450.1 L2050.4 455.3 L2050.8 464.1 L2051.1 485.0 L2051.4 483.9 L2051.7 474.6 L2052.0 481.7 L2052.3 492.9 L2052.6 480.5 L2052.9 467.7 L2053.2 486.1 L2053.6 474.0 L2053.9 483.5 L2054.2 468.0 L2054.5 499.5 L2054.8 494.4 L2055.1 490.9 L2055.4 490.8 L2055.8 497.8 L2056.1 502.6 L2056.4 507.0 L2056.7 504.3 L2057.0 507.4 L2057.3 518.4 L2057.6 506.0 L2057.9 488.6 L2058.2 474.4 L2058.6 469.8 L2058.9 475.8 L2059.2 454.1 L2059.5 471.5 L2059.8 461.6 L2060.1 452.1 L2060.4 469.1 L2060.8 473.2 L2061.1 479.6 L2061.4 486.0 L2061.7 506.2 L2062.0 478.1 L2062.3 487.9 L2062.6 512.5 L2062.9 514.1 L2063.2 509.7 L2063.6 514.5 L2063.9 522.3 L2064.2 504.4 L2064.5 501.0 L2064.8 501.7 L2065.1 467.4 L2065.4 478.1 L2065.8 482.6 L2066.1 486.0 L2066.4 476.4 L2066.7 476.4 L2067.0 489.0 L2067.3 496.4 L2067.6 481.1 L2067.9 498.7 L2068.2 489.5 L2068.6 492.6 L2068.9 502.1 L2069.2 485.0 L2069.5 496.4 L2069.8 484.5 L2070.1 486.2 L2070.4 497.0 L2070.8 513.8 L2071.1 492.9 L2071.4 488.0 L2071.7 521.2 L2072.0 520.3 L2072.3 531.6 L2072.6 535.4 L2072.9 524.8 L2073.2 556.7 L2073.6 558.8 L2073.9 554.9 L2074.2 579.5 L2074.5 557.6 L2074.8 577.3 L2075.1 561.3 L2075.4 544.2 L2075.8 564.1 L2076.1 549.0 L2076.4 573.2 L2076.7 592.2 L2077.0 559.7 L2077.3 587.5 L2077.6 580.9 L2077.9 584.2 L2078.2 586.5 L2078.6 578.9 L2078.9 600.9 L2079.2 594.3 L2079.5 599.0 L2079.8 604.1 L2080.1 574.0 L2080.4 594.6 L2080.8 575.8 L2081.1 585.5 L2081.4 575.8 L2081.7 565.5 L2082.0 581.1 L2082.3 585.6 L2082.6 598.7 L2082.9 578.2 L2083.2 584.9 L2083.6 613.3 L2083.9 614.2 L2084.2 621.6 L2084.5 621.7 L2084.8 629.2 L2085.1 633.7 L2085.4 656.4 L2085.8 647.5 L2086.1 661.1 L2086.4 644.9 L2086.7 646.1 L2087.0 668.2 L2087.3 686.6 L2087.6 686.2 L2087.9 682.5 L2088.2 681.5 L2088.6 674.4 L2088.9 669.2 L2089.2 644.0 L2089.5 653.3 L2089.8 660.7 L2090.1 681.7 L2090.4 644.4 L2090.8 644.1 L2091.1 629.6 L2091.4 636.9 L2091.7 609.3 L2092.0 634.4 L2092.3 619.6 L2092.6 609.3 L2092.9 634.7 L2093.2 610.0 L2093.6 605.8 L2093.9 593.7 L2094.2 594.6 L2094.5 590.3 L2094.8 583.4 L2095.1 578.8 L2095.4 580.0 L2095.8 603.1 L2096.1 589.2 L2096.4 609.4 L2096.7 630.2 L2097.0 633.9 L2097.3 653.9 L2097.6 662.2 L2097.9 675.8 L2098.2 691.2 L2098.6 676.4 L2098.9 691.0 L2099.2 684.1 L2099.5 674.3 L2099.8 681.0 L2100.1 666.4 L2100.4 669.9 L2100.8 678.8 L2101.1 642.3 L2101.4 669.9 L2101.7 705.9 L2102.0 676.1 L2102.3 721.0 L2102.6 694.8 L2102.9 708.4 L2103.2 719.9 L2103.6 718.4 L2103.9 720.0 L2104.2 703.0 L2104.5 705.8 L2104.8 703.8 L2105.1 687.6 L2105.4 699.2 L2105.8 700.8 L2106.1 712.6 L2106.4 676.9 L2106.7 674.8 L2107.0 670.8 L2107.3 663.6 L2107.6 653.1 L2107.9 656.3 L2108.2 655.2 L2108.6 624.7 L2108.9 626.7 L2109.2 626.3 L2109.5 622.1 L2109.8 620.2 L2110.1 624.5 L2110.4 615.8 L2110.8 612.7 L2111.1 645.6 L2111.4 636.5 L2111.7 646.1 L2112.0 678.0 L2112.3 665.4 L2112.6 650.4 L2112.9 685.1 L2113.2 695.0 L2113.6 702.9 L2113.9 686.6 L2114.2 710.4 L2114.5 699.6 L2114.8 719.5 L2115.1 701.7 L2115.4 709.2 L2115.8 704.6 L2116.1 712.7 L2116.4 721.5 L2116.7 720.3 L2117.0 705.1 L2117.3 715.1 L2117.6 698.3 L2117.9 704.7 L2118.2 699.6 L2118.6 688.0 L2118.9 682.9 L2119.2 690.8 L2119.5 700.1 L2119.8 682.2 L2120.1 680.3 L2120.4 663.7 L2120.8 660.7 L2121.1 664.1 L2121.4 661.4 L2121.7 663.8 L2122.0 653.5 L2122.3 662.2 L2122.6 665.6 L2122.9 668.9 L2123.2 680.6 L2123.6 697.5 L2123.9 722.8 L2124.2 732.7 L2124.5 749.8 L2124.8 752.7 L2125.1 745.8 L2125.4 748.0 L2125.8 742.1 L2126.1 731.0 L2126.4 741.8 L2126.7 742.5 L2127.0 702.2 L2127.3 716.8 L2127.6 708.4 L2127.9 714.0 L2128.2 657.4 L2128.6 672.3 L2128.9 656.2 L2129.2 690.0 L2129.5 670.1 L2129.8 673.7 L2130.1 668.8 L2130.4 656.0 L2130.8 641.5 L2131.1 628.7 L2131.4 629.1 L2131.7 633.1 L2132.0 633.0 L2132.3 624.5 L2132.6 631.4 L2132.9 657.9 L2133.2 644.2 L2133.6 649.0 L2133.9 679.5 L2134.2 697.7 L2134.5 670.8 L2134.8 684.0 L2135.1 696.5 L2135.4 716.9 L2135.8 726.8 L2136.1 732.6 L2136.4 732.4 L2136.7 737.0 L2137.0 713.6 L2137.3 710.5 L2137.6 681.2 L2137.9 668.1 L2138.2 652.4 L2138.6 644.1 L2138.9 645.3 L2139.2 652.4 L2139.5 682.3 L2139.8 698.2 L2140.1 681.0 L2140.4 698.0 L2140.8 692.9 L2141.1 720.5 L2141.4 719.3 L2141.7 734.1 L2142.0 744.5 L2142.3 748.7 L2142.6 742.9 L2142.9 749.5 L2143.2 759.4 L2143.6 790.7 L2143.9 787.9 L2144.2 792.4 L2144.5 797.3 L2144.8 795.4 L2145.1 794.4 L2145.4 786.6 L2145.8 791.8 L2146.1 759.3 L2146.4 764.0 L2146.7 768.6 L2147.0 763.8 L2147.3 741.7 L2147.6 737.5 L2147.9 745.1 L2148.2 736.4 L2148.6 747.4 L2148.9 751.6 L2149.2 749.0 L2149.5 742.3 L2149.8 751.1 L2150.1 751.0 L2150.4 774.8 L2150.8 770.7 L2151.1 781.3 L2151.4 790.5 L2151.7 778.5 L2152.0 783.7 L2152.3 777.0 L2152.6 787.8 L2152.9 780.3 L2153.2 785.5 L2153.6 774.7 L2153.9 772.2 L2154.2 786.6 L2154.5 787.2 L2154.8 790.8 L2155.1 756.9 L2155.4 754.7 L2155.8 734.4 L2156.1 723.3 L2156.4 709.6 L2156.7 694.4 L2157.0 709.2"/>
</g>
<g font-family="'Liberation Serif', serif" font-size="64" fill="#232323" stroke="#232323" stroke-width="0.8">
<text x="282.8" y="1531.6" text-anchor="middle">0</text>
<text x="595.3" y="1531.6" text-anchor="middle">50</text>
<text x="907.8" y="1531.6" text-anchor="middle">100</text>
<text x="1220.3" y="1531.6" text-anchor="middle">150</text>
<text x="1532.8" y="1531.6" text-anchor="middle">200</text>
<text x="1845.3" y="1531.6" text-anchor="middle">250</text>
<text x="2157.8" y="1531.6" text-anchor="middle">300</text>
<text x="261.1" y="76.9" text-anchor="end">0.02</text>
<text x="261.1" y="309.3" text-anchor="end">0.01</text>
<text x="261.1" y="541.6" text-anchor="end">0</text>
<text y="774.0" text-anchor="end"><tspan x="153.4" dy="-1" font-size="48" stroke="none" textLength="40.4" lengthAdjust="spacingAndGlyphs">−</tspan><tspan x="261.1" dy="1">0.01</tspan></text>
<text y="1006.4" text-anchor="end"><tspan x="153.4" dy="-1" font-size="48" stroke="none" textLength="40.4" lengthAdjust="spacingAndGlyphs">−</tspan><tspan x="261.1" dy="1">0.02</tspan></text>
<text y="1238.7" text-anchor="end"><tspan x="153.4" dy="-1" font-size="48" stroke="none" textLength="40.4" lengthAdjust="spacingAndGlyphs">−</tspan><tspan x="261.1" dy="1">0.03</tspan></text>
<text y="1471.1" text-anchor="end"><tspan x="153.4" dy="-1" font-size="48" stroke="none" textLength="40.4" lengthAdjust="spacingAndGlyphs">−</tspan><tspan x="261.1" dy="1">0.04</tspan></text>
</g>
<g font-family="'Liberation Serif', serif" font-size="68.5">
<text transform="translate(1218.3 1622.9) scale(1 1.02)" text-anchor="middle" fill="#404040">Time/s</text>
<text transform="translate(87.3 762.6) rotate(-90) scale(1 1.02)" text-anchor="middle" fill="#232323">Vertical Displacement/m</text>
</g>
<rect x="1409" y="103" width="707.5" height="148" fill="#fff" stroke="#232323" stroke-width="3.6"/>
<path d="M1424 143.3 H1580" stroke="#0072BD" stroke-width="3" fill="none"/>
<path d="M1424 210.3 H1580" stroke="#FF0000" stroke-width="3" fill="none"/>
<g font-family="'Liberation Serif', serif" font-size="56" fill="#000">
<text x="1591" y="163.7">Original Displacement</text>
<text x="1591" y="230.2">Fusion Displacement</text>
</g>
</svg>
</body></html>
